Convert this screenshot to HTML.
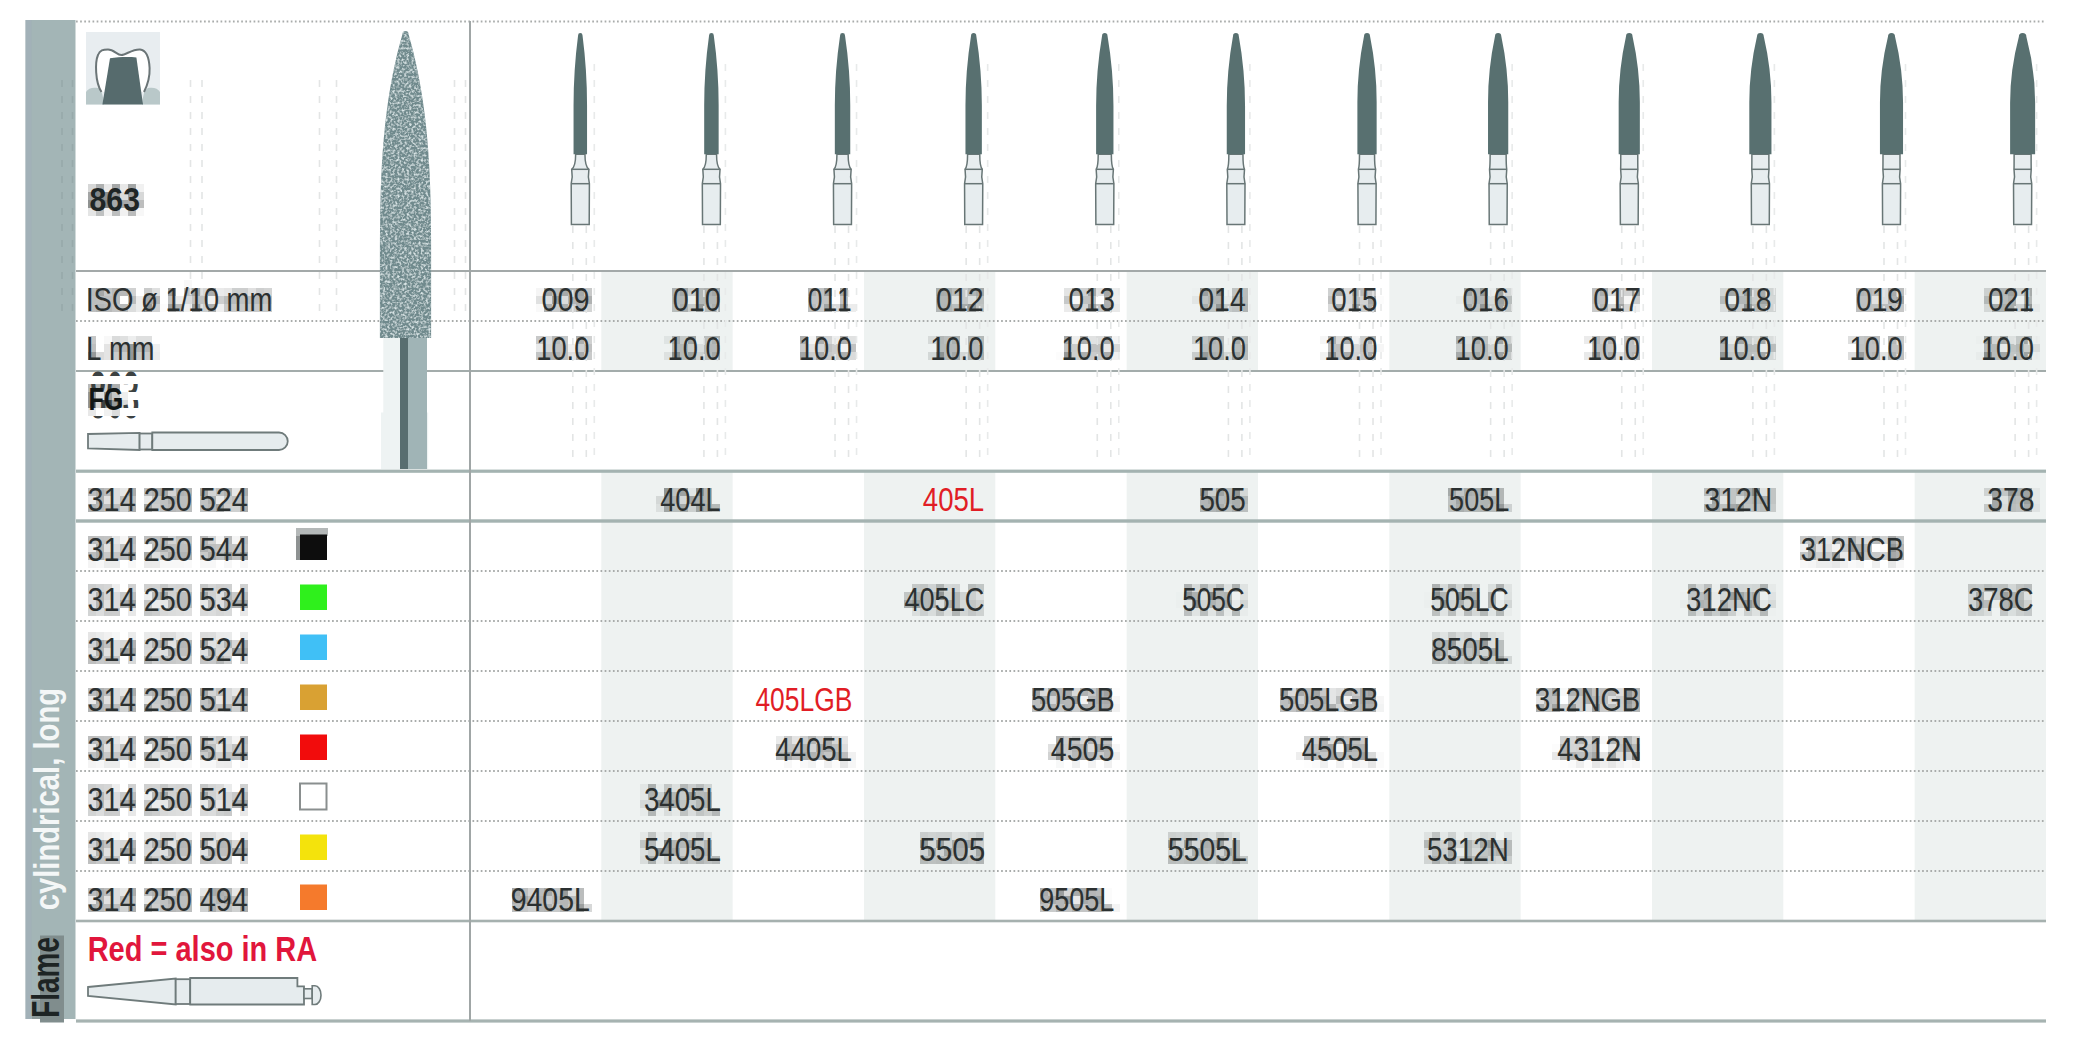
<!DOCTYPE html>
<html><head><meta charset="utf-8"><title>863 Flame cylindrical long</title>
<style>
html,body{margin:0;padding:0;background:#fff;width:2076px;height:1060px;overflow:hidden}
svg{display:block}
text{font-family:"Liberation Sans",sans-serif;font-kerning:none}
</style></head><body>
<svg width="2076" height="1060" viewBox="0 0 2076 1060">
<rect x="25.5" y="20" width="50" height="999" fill="#a3b5b6"/>
<rect x="25.5" y="20" width="6" height="999" fill="#a2afb9" opacity="0.6"/>
<rect x="601.33" y="271" width="131.33" height="100" fill="#eef2f1"/>
<rect x="601.33" y="471" width="131.33" height="450" fill="#eef2f1"/>
<rect x="864.00" y="271" width="131.33" height="100" fill="#eef2f1"/>
<rect x="864.00" y="471" width="131.33" height="450" fill="#eef2f1"/>
<rect x="1126.66" y="271" width="131.33" height="100" fill="#eef2f1"/>
<rect x="1126.66" y="471" width="131.33" height="450" fill="#eef2f1"/>
<rect x="1389.33" y="271" width="131.33" height="100" fill="#eef2f1"/>
<rect x="1389.33" y="471" width="131.33" height="450" fill="#eef2f1"/>
<rect x="1652.00" y="271" width="131.33" height="100" fill="#eef2f1"/>
<rect x="1652.00" y="471" width="131.33" height="450" fill="#eef2f1"/>
<rect x="1914.66" y="271" width="131.33" height="100" fill="#eef2f1"/>
<rect x="1914.66" y="471" width="131.33" height="450" fill="#eef2f1"/>
<rect x="88" y="184" width="8" height="8" fill="rgb(214,215,215)"/>
<rect x="96" y="184" width="8" height="8" fill="rgb(174,176,176)"/>
<rect x="104" y="184" width="8" height="8" fill="rgb(233,233,233)"/>
<rect x="112" y="184" width="8" height="8" fill="rgb(165,167,167)"/>
<rect x="120" y="184" width="8" height="8" fill="rgb(232,232,232)"/>
<rect x="128" y="184" width="8" height="8" fill="rgb(163,166,166)"/>
<rect x="136" y="184" width="8" height="8" fill="rgb(241,241,241)"/>
<rect x="88" y="192" width="8" height="8" fill="rgb(163,165,165)"/>
<rect x="96" y="192" width="8" height="8" fill="rgb(132,135,135)"/>
<rect x="104" y="192" width="8" height="8" fill="rgb(143,145,145)"/>
<rect x="112" y="192" width="8" height="8" fill="rgb(149,152,152)"/>
<rect x="120" y="192" width="8" height="8" fill="rgb(219,220,220)"/>
<rect x="128" y="192" width="8" height="8" fill="rgb(153,155,155)"/>
<rect x="136" y="192" width="8" height="8" fill="rgb(215,216,216)"/>
<rect x="88" y="200" width="8" height="8" fill="rgb(143,146,146)"/>
<rect x="96" y="200" width="8" height="8" fill="rgb(156,159,159)"/>
<rect x="104" y="200" width="8" height="8" fill="rgb(128,131,131)"/>
<rect x="112" y="200" width="8" height="8" fill="rgb(167,169,169)"/>
<rect x="120" y="200" width="8" height="8" fill="rgb(167,169,169)"/>
<rect x="128" y="200" width="8" height="8" fill="rgb(171,173,173)"/>
<rect x="136" y="200" width="8" height="8" fill="rgb(189,190,190)"/>
<rect x="88" y="208" width="8" height="8" fill="rgb(228,229,229)"/>
<rect x="96" y="208" width="8" height="8" fill="rgb(191,193,193)"/>
<rect x="104" y="208" width="8" height="8" fill="rgb(242,242,242)"/>
<rect x="112" y="208" width="8" height="8" fill="rgb(189,191,191)"/>
<rect x="120" y="208" width="8" height="8" fill="rgb(241,241,241)"/>
<rect x="128" y="208" width="8" height="8" fill="rgb(187,188,188)"/>
<rect x="136" y="208" width="8" height="8" fill="rgb(247,247,247)"/>
<rect x="184" y="280" width="8" height="8" fill="rgb(248,248,248)"/>
<rect x="88" y="288" width="8" height="8" fill="rgb(185,187,187)"/>
<rect x="96" y="288" width="8" height="8" fill="rgb(166,168,168)"/>
<rect x="104" y="288" width="8" height="8" fill="rgb(197,199,199)"/>
<rect x="112" y="288" width="8" height="8" fill="rgb(184,186,186)"/>
<rect x="120" y="288" width="8" height="8" fill="rgb(184,185,185)"/>
<rect x="128" y="288" width="8" height="8" fill="rgb(208,209,209)"/>
<rect x="144" y="288" width="8" height="8" fill="rgb(202,203,203)"/>
<rect x="152" y="288" width="8" height="8" fill="rgb(223,224,224)"/>
<rect x="168" y="288" width="8" height="8" fill="rgb(156,158,158)"/>
<rect x="184" y="288" width="8" height="8" fill="rgb(190,192,192)"/>
<rect x="192" y="288" width="8" height="8" fill="rgb(165,167,167)"/>
<rect x="200" y="288" width="8" height="8" fill="rgb(214,215,215)"/>
<rect x="208" y="288" width="8" height="8" fill="rgb(171,173,173)"/>
<rect x="216" y="288" width="8" height="8" fill="rgb(234,234,234)"/>
<rect x="224" y="288" width="8" height="8" fill="rgb(230,230,230)"/>
<rect x="232" y="288" width="8" height="8" fill="rgb(205,207,207)"/>
<rect x="240" y="288" width="8" height="8" fill="rgb(205,206,206)"/>
<rect x="248" y="288" width="8" height="8" fill="rgb(224,224,224)"/>
<rect x="256" y="288" width="8" height="8" fill="rgb(206,207,207)"/>
<rect x="264" y="288" width="8" height="8" fill="rgb(211,212,212)"/>
<rect x="536" y="288" width="8" height="8" fill="rgb(245,245,245)"/>
<rect x="544" y="288" width="8" height="8" fill="rgb(167,169,169)"/>
<rect x="552" y="288" width="8" height="8" fill="rgb(189,191,191)"/>
<rect x="560" y="288" width="8" height="8" fill="rgb(167,169,169)"/>
<rect x="568" y="288" width="8" height="8" fill="rgb(186,188,188)"/>
<rect x="576" y="288" width="8" height="8" fill="rgb(166,169,169)"/>
<rect x="584" y="288" width="8" height="8" fill="rgb(200,201,201)"/>
<rect x="672" y="288" width="8" height="8" fill="rgb(173,177,177)"/>
<rect x="680" y="288" width="8" height="8" fill="rgb(162,166,166)"/>
<rect x="688" y="288" width="8" height="8" fill="rgb(201,205,205)"/>
<rect x="696" y="288" width="8" height="8" fill="rgb(180,184,183)"/>
<rect x="704" y="288" width="8" height="8" fill="rgb(173,177,177)"/>
<rect x="712" y="288" width="8" height="8" fill="rgb(162,166,166)"/>
<rect x="808" y="288" width="8" height="8" fill="rgb(177,178,178)"/>
<rect x="816" y="288" width="8" height="8" fill="rgb(192,194,194)"/>
<rect x="824" y="288" width="8" height="8" fill="rgb(160,162,162)"/>
<rect x="832" y="288" width="8" height="8" fill="rgb(251,251,251)"/>
<rect x="840" y="288" width="8" height="8" fill="rgb(163,166,166)"/>
<rect x="936" y="288" width="8" height="8" fill="rgb(167,172,171)"/>
<rect x="944" y="288" width="8" height="8" fill="rgb(169,173,172)"/>
<rect x="952" y="288" width="8" height="8" fill="rgb(185,189,188)"/>
<rect x="960" y="288" width="8" height="8" fill="rgb(196,200,200)"/>
<rect x="968" y="288" width="8" height="8" fill="rgb(177,181,181)"/>
<rect x="976" y="288" width="8" height="8" fill="rgb(165,169,169)"/>
<rect x="1064" y="288" width="8" height="8" fill="rgb(227,228,228)"/>
<rect x="1072" y="288" width="8" height="8" fill="rgb(172,174,174)"/>
<rect x="1080" y="288" width="8" height="8" fill="rgb(207,208,208)"/>
<rect x="1088" y="288" width="8" height="8" fill="rgb(166,168,168)"/>
<rect x="1096" y="288" width="8" height="8" fill="rgb(223,224,224)"/>
<rect x="1104" y="288" width="8" height="8" fill="rgb(165,167,167)"/>
<rect x="1112" y="288" width="8" height="8" fill="rgb(236,237,237)"/>
<rect x="1192" y="288" width="8" height="8" fill="rgb(236,240,239)"/>
<rect x="1200" y="288" width="8" height="8" fill="rgb(156,160,160)"/>
<rect x="1208" y="288" width="8" height="8" fill="rgb(182,187,186)"/>
<rect x="1216" y="288" width="8" height="8" fill="rgb(144,148,148)"/>
<rect x="1232" y="288" width="8" height="8" fill="rgb(191,195,194)"/>
<rect x="1240" y="288" width="8" height="8" fill="rgb(185,189,188)"/>
<rect x="1328" y="288" width="8" height="8" fill="rgb(207,209,209)"/>
<rect x="1336" y="288" width="8" height="8" fill="rgb(169,171,171)"/>
<rect x="1344" y="288" width="8" height="8" fill="rgb(219,219,219)"/>
<rect x="1352" y="288" width="8" height="8" fill="rgb(176,178,178)"/>
<rect x="1360" y="288" width="8" height="8" fill="rgb(184,185,185)"/>
<rect x="1368" y="288" width="8" height="8" fill="rgb(198,199,199)"/>
<rect x="1464" y="288" width="8" height="8" fill="rgb(157,161,161)"/>
<rect x="1472" y="288" width="8" height="8" fill="rgb(184,188,187)"/>
<rect x="1480" y="288" width="8" height="8" fill="rgb(146,151,150)"/>
<rect x="1488" y="288" width="8" height="8" fill="rgb(233,237,236)"/>
<rect x="1496" y="288" width="8" height="8" fill="rgb(157,162,161)"/>
<rect x="1504" y="288" width="8" height="8" fill="rgb(212,216,215)"/>
<rect x="1592" y="288" width="8" height="8" fill="rgb(189,190,190)"/>
<rect x="1600" y="288" width="8" height="8" fill="rgb(170,172,172)"/>
<rect x="1608" y="288" width="8" height="8" fill="rgb(217,218,218)"/>
<rect x="1616" y="288" width="8" height="8" fill="rgb(191,192,192)"/>
<rect x="1624" y="288" width="8" height="8" fill="rgb(209,210,210)"/>
<rect x="1632" y="288" width="8" height="8" fill="rgb(155,158,158)"/>
<rect x="1720" y="288" width="8" height="8" fill="rgb(209,213,212)"/>
<rect x="1728" y="288" width="8" height="8" fill="rgb(163,167,166)"/>
<rect x="1736" y="288" width="8" height="8" fill="rgb(194,198,197)"/>
<rect x="1744" y="288" width="8" height="8" fill="rgb(154,158,158)"/>
<rect x="1752" y="288" width="8" height="8" fill="rgb(197,201,200)"/>
<rect x="1760" y="288" width="8" height="8" fill="rgb(166,170,170)"/>
<rect x="1768" y="288" width="8" height="8" fill="rgb(209,213,212)"/>
<rect x="1856" y="288" width="8" height="8" fill="rgb(178,180,180)"/>
<rect x="1864" y="288" width="8" height="8" fill="rgb(182,183,183)"/>
<rect x="1872" y="288" width="8" height="8" fill="rgb(189,190,190)"/>
<rect x="1880" y="288" width="8" height="8" fill="rgb(220,221,221)"/>
<rect x="1888" y="288" width="8" height="8" fill="rgb(169,171,171)"/>
<rect x="1896" y="288" width="8" height="8" fill="rgb(188,189,189)"/>
<rect x="1984" y="288" width="8" height="8" fill="rgb(204,208,207)"/>
<rect x="1992" y="288" width="8" height="8" fill="rgb(162,166,166)"/>
<rect x="2000" y="288" width="8" height="8" fill="rgb(179,183,183)"/>
<rect x="2008" y="288" width="8" height="8" fill="rgb(157,161,160)"/>
<rect x="2016" y="288" width="8" height="8" fill="rgb(204,208,207)"/>
<rect x="2024" y="288" width="8" height="8" fill="rgb(166,170,169)"/>
<rect x="88" y="296" width="8" height="8" fill="rgb(188,190,190)"/>
<rect x="96" y="296" width="8" height="8" fill="rgb(189,191,191)"/>
<rect x="104" y="296" width="8" height="8" fill="rgb(190,191,191)"/>
<rect x="112" y="296" width="8" height="8" fill="rgb(187,189,189)"/>
<rect x="128" y="296" width="8" height="8" fill="rgb(187,188,188)"/>
<rect x="136" y="296" width="8" height="8" fill="rgb(236,236,236)"/>
<rect x="144" y="296" width="8" height="8" fill="rgb(168,170,170)"/>
<rect x="152" y="296" width="8" height="8" fill="rgb(181,182,182)"/>
<rect x="168" y="296" width="8" height="8" fill="rgb(192,194,194)"/>
<rect x="176" y="296" width="8" height="8" fill="rgb(237,237,237)"/>
<rect x="184" y="296" width="8" height="8" fill="rgb(217,218,218)"/>
<rect x="192" y="296" width="8" height="8" fill="rgb(192,193,193)"/>
<rect x="200" y="296" width="8" height="8" fill="rgb(192,194,194)"/>
<rect x="208" y="296" width="8" height="8" fill="rgb(241,242,242)"/>
<rect x="216" y="296" width="8" height="8" fill="rgb(206,207,207)"/>
<rect x="224" y="296" width="8" height="8" fill="rgb(187,189,189)"/>
<rect x="232" y="296" width="8" height="8" fill="rgb(185,187,187)"/>
<rect x="240" y="296" width="8" height="8" fill="rgb(191,193,193)"/>
<rect x="248" y="296" width="8" height="8" fill="rgb(186,188,188)"/>
<rect x="256" y="296" width="8" height="8" fill="rgb(184,186,186)"/>
<rect x="264" y="296" width="8" height="8" fill="rgb(192,194,194)"/>
<rect x="536" y="296" width="8" height="8" fill="rgb(224,225,225)"/>
<rect x="544" y="296" width="8" height="8" fill="rgb(220,221,221)"/>
<rect x="552" y="296" width="8" height="8" fill="rgb(158,160,160)"/>
<rect x="560" y="296" width="8" height="8" fill="rgb(220,221,221)"/>
<rect x="568" y="296" width="8" height="8" fill="rgb(180,181,181)"/>
<rect x="576" y="296" width="8" height="8" fill="rgb(173,175,175)"/>
<rect x="584" y="296" width="8" height="8" fill="rgb(176,178,178)"/>
<rect x="672" y="296" width="8" height="8" fill="rgb(178,183,182)"/>
<rect x="680" y="296" width="8" height="8" fill="rgb(178,182,181)"/>
<rect x="688" y="296" width="8" height="8" fill="rgb(235,239,238)"/>
<rect x="696" y="296" width="8" height="8" fill="rgb(181,185,184)"/>
<rect x="704" y="296" width="8" height="8" fill="rgb(178,183,182)"/>
<rect x="712" y="296" width="8" height="8" fill="rgb(178,182,181)"/>
<rect x="808" y="296" width="8" height="8" fill="rgb(194,196,196)"/>
<rect x="816" y="296" width="8" height="8" fill="rgb(195,196,196)"/>
<rect x="824" y="296" width="8" height="8" fill="rgb(195,196,196)"/>
<rect x="840" y="296" width="8" height="8" fill="rgb(195,196,196)"/>
<rect x="936" y="296" width="8" height="8" fill="rgb(178,183,182)"/>
<rect x="944" y="296" width="8" height="8" fill="rgb(178,182,181)"/>
<rect x="952" y="296" width="8" height="8" fill="rgb(220,224,223)"/>
<rect x="960" y="296" width="8" height="8" fill="rgb(196,200,200)"/>
<rect x="968" y="296" width="8" height="8" fill="rgb(218,222,221)"/>
<rect x="976" y="296" width="8" height="8" fill="rgb(187,191,190)"/>
<rect x="1064" y="296" width="8" height="8" fill="rgb(198,200,200)"/>
<rect x="1072" y="296" width="8" height="8" fill="rgb(248,248,248)"/>
<rect x="1080" y="296" width="8" height="8" fill="rgb(192,194,194)"/>
<rect x="1088" y="296" width="8" height="8" fill="rgb(192,193,193)"/>
<rect x="1104" y="296" width="8" height="8" fill="rgb(175,177,177)"/>
<rect x="1112" y="296" width="8" height="8" fill="rgb(237,238,238)"/>
<rect x="1192" y="296" width="8" height="8" fill="rgb(226,230,229)"/>
<rect x="1200" y="296" width="8" height="8" fill="rgb(190,194,193)"/>
<rect x="1208" y="296" width="8" height="8" fill="rgb(178,182,182)"/>
<rect x="1216" y="296" width="8" height="8" fill="rgb(179,183,182)"/>
<rect x="1224" y="296" width="8" height="8" fill="rgb(231,235,234)"/>
<rect x="1232" y="296" width="8" height="8" fill="rgb(178,183,182)"/>
<rect x="1240" y="296" width="8" height="8" fill="rgb(184,188,187)"/>
<rect x="1328" y="296" width="8" height="8" fill="rgb(192,193,193)"/>
<rect x="1336" y="296" width="8" height="8" fill="rgb(231,231,231)"/>
<rect x="1344" y="296" width="8" height="8" fill="rgb(216,217,217)"/>
<rect x="1352" y="296" width="8" height="8" fill="rgb(191,193,193)"/>
<rect x="1360" y="296" width="8" height="8" fill="rgb(210,211,211)"/>
<rect x="1368" y="296" width="8" height="8" fill="rgb(163,165,165)"/>
<rect x="1376" y="296" width="8" height="8" fill="rgb(252,252,252)"/>
<rect x="1456" y="296" width="8" height="8" fill="rgb(231,235,234)"/>
<rect x="1464" y="296" width="8" height="8" fill="rgb(187,191,191)"/>
<rect x="1472" y="296" width="8" height="8" fill="rgb(180,184,183)"/>
<rect x="1480" y="296" width="8" height="8" fill="rgb(180,184,184)"/>
<rect x="1488" y="296" width="8" height="8" fill="rgb(215,220,219)"/>
<rect x="1496" y="296" width="8" height="8" fill="rgb(158,162,161)"/>
<rect x="1504" y="296" width="8" height="8" fill="rgb(184,189,188)"/>
<rect x="1592" y="296" width="8" height="8" fill="rgb(191,192,192)"/>
<rect x="1600" y="296" width="8" height="8" fill="rgb(192,193,193)"/>
<rect x="1608" y="296" width="8" height="8" fill="rgb(251,252,252)"/>
<rect x="1616" y="296" width="8" height="8" fill="rgb(193,194,194)"/>
<rect x="1624" y="296" width="8" height="8" fill="rgb(246,246,246)"/>
<rect x="1632" y="296" width="8" height="8" fill="rgb(202,203,203)"/>
<rect x="1720" y="296" width="8" height="8" fill="rgb(182,187,186)"/>
<rect x="1728" y="296" width="8" height="8" fill="rgb(234,238,237)"/>
<rect x="1736" y="296" width="8" height="8" fill="rgb(179,183,183)"/>
<rect x="1744" y="296" width="8" height="8" fill="rgb(178,183,182)"/>
<rect x="1752" y="296" width="8" height="8" fill="rgb(201,205,204)"/>
<rect x="1760" y="296" width="8" height="8" fill="rgb(155,160,159)"/>
<rect x="1768" y="296" width="8" height="8" fill="rgb(212,216,215)"/>
<rect x="1856" y="296" width="8" height="8" fill="rgb(191,193,193)"/>
<rect x="1864" y="296" width="8" height="8" fill="rgb(191,192,192)"/>
<rect x="1872" y="296" width="8" height="8" fill="rgb(226,226,226)"/>
<rect x="1880" y="296" width="8" height="8" fill="rgb(220,221,221)"/>
<rect x="1888" y="296" width="8" height="8" fill="rgb(176,178,178)"/>
<rect x="1896" y="296" width="8" height="8" fill="rgb(167,169,169)"/>
<rect x="1984" y="296" width="8" height="8" fill="rgb(180,185,184)"/>
<rect x="1992" y="296" width="8" height="8" fill="rgb(232,236,235)"/>
<rect x="2000" y="296" width="8" height="8" fill="rgb(184,188,187)"/>
<rect x="2008" y="296" width="8" height="8" fill="rgb(170,174,174)"/>
<rect x="2016" y="296" width="8" height="8" fill="rgb(235,239,238)"/>
<rect x="2024" y="296" width="8" height="8" fill="rgb(180,184,183)"/>
<rect x="88" y="304" width="8" height="8" fill="rgb(190,191,191)"/>
<rect x="96" y="304" width="8" height="8" fill="rgb(181,183,183)"/>
<rect x="104" y="304" width="8" height="8" fill="rgb(185,186,186)"/>
<rect x="112" y="304" width="8" height="8" fill="rgb(195,196,196)"/>
<rect x="120" y="304" width="8" height="8" fill="rgb(185,187,187)"/>
<rect x="128" y="304" width="8" height="8" fill="rgb(220,221,221)"/>
<rect x="136" y="304" width="8" height="8" fill="rgb(235,236,236)"/>
<rect x="144" y="304" width="8" height="8" fill="rgb(150,152,152)"/>
<rect x="152" y="304" width="8" height="8" fill="rgb(208,209,209)"/>
<rect x="160" y="304" width="8" height="8" fill="rgb(252,252,252)"/>
<rect x="168" y="304" width="8" height="8" fill="rgb(156,158,158)"/>
<rect x="176" y="304" width="8" height="8" fill="rgb(181,183,183)"/>
<rect x="184" y="304" width="8" height="8" fill="rgb(239,239,239)"/>
<rect x="192" y="304" width="8" height="8" fill="rgb(156,158,158)"/>
<rect x="200" y="304" width="8" height="8" fill="rgb(204,206,206)"/>
<rect x="208" y="304" width="8" height="8" fill="rgb(174,176,176)"/>
<rect x="216" y="304" width="8" height="8" fill="rgb(240,240,240)"/>
<rect x="224" y="304" width="8" height="8" fill="rgb(201,202,202)"/>
<rect x="232" y="304" width="8" height="8" fill="rgb(201,202,202)"/>
<rect x="240" y="304" width="8" height="8" fill="rgb(202,203,203)"/>
<rect x="248" y="304" width="8" height="8" fill="rgb(200,201,201)"/>
<rect x="256" y="304" width="8" height="8" fill="rgb(201,202,202)"/>
<rect x="264" y="304" width="8" height="8" fill="rgb(201,203,203)"/>
<rect x="536" y="304" width="8" height="8" fill="rgb(249,249,249)"/>
<rect x="544" y="304" width="8" height="8" fill="rgb(174,176,176)"/>
<rect x="552" y="304" width="8" height="8" fill="rgb(202,203,203)"/>
<rect x="560" y="304" width="8" height="8" fill="rgb(174,176,176)"/>
<rect x="568" y="304" width="8" height="8" fill="rgb(205,206,206)"/>
<rect x="576" y="304" width="8" height="8" fill="rgb(178,180,180)"/>
<rect x="584" y="304" width="8" height="8" fill="rgb(212,213,213)"/>
<rect x="672" y="304" width="8" height="8" fill="rgb(183,188,187)"/>
<rect x="680" y="304" width="8" height="8" fill="rgb(170,174,174)"/>
<rect x="688" y="304" width="8" height="8" fill="rgb(200,204,203)"/>
<rect x="696" y="304" width="8" height="8" fill="rgb(152,156,155)"/>
<rect x="704" y="304" width="8" height="8" fill="rgb(183,188,187)"/>
<rect x="712" y="304" width="8" height="8" fill="rgb(170,174,174)"/>
<rect x="808" y="304" width="8" height="8" fill="rgb(187,189,189)"/>
<rect x="816" y="304" width="8" height="8" fill="rgb(200,201,201)"/>
<rect x="824" y="304" width="8" height="8" fill="rgb(162,164,164)"/>
<rect x="832" y="304" width="8" height="8" fill="rgb(216,217,217)"/>
<rect x="840" y="304" width="8" height="8" fill="rgb(157,160,160)"/>
<rect x="848" y="304" width="8" height="8" fill="rgb(236,236,236)"/>
<rect x="936" y="304" width="8" height="8" fill="rgb(178,182,182)"/>
<rect x="944" y="304" width="8" height="8" fill="rgb(176,180,180)"/>
<rect x="952" y="304" width="8" height="8" fill="rgb(185,189,189)"/>
<rect x="960" y="304" width="8" height="8" fill="rgb(166,171,170)"/>
<rect x="968" y="304" width="8" height="8" fill="rgb(151,155,155)"/>
<rect x="976" y="304" width="8" height="8" fill="rgb(192,196,195)"/>
<rect x="1064" y="304" width="8" height="8" fill="rgb(235,235,235)"/>
<rect x="1072" y="304" width="8" height="8" fill="rgb(175,177,177)"/>
<rect x="1080" y="304" width="8" height="8" fill="rgb(212,213,213)"/>
<rect x="1088" y="304" width="8" height="8" fill="rgb(156,158,158)"/>
<rect x="1096" y="304" width="8" height="8" fill="rgb(196,197,197)"/>
<rect x="1104" y="304" width="8" height="8" fill="rgb(173,175,175)"/>
<rect x="1112" y="304" width="8" height="8" fill="rgb(233,233,233)"/>
<rect x="1200" y="304" width="8" height="8" fill="rgb(165,170,169)"/>
<rect x="1208" y="304" width="8" height="8" fill="rgb(189,194,193)"/>
<rect x="1216" y="304" width="8" height="8" fill="rgb(148,153,152)"/>
<rect x="1224" y="304" width="8" height="8" fill="rgb(197,201,200)"/>
<rect x="1232" y="304" width="8" height="8" fill="rgb(189,193,193)"/>
<rect x="1240" y="304" width="8" height="8" fill="rgb(176,180,179)"/>
<rect x="1328" y="304" width="8" height="8" fill="rgb(217,218,218)"/>
<rect x="1336" y="304" width="8" height="8" fill="rgb(174,176,176)"/>
<rect x="1344" y="304" width="8" height="8" fill="rgb(221,221,221)"/>
<rect x="1352" y="304" width="8" height="8" fill="rgb(156,158,158)"/>
<rect x="1360" y="304" width="8" height="8" fill="rgb(202,203,203)"/>
<rect x="1368" y="304" width="8" height="8" fill="rgb(172,174,174)"/>
<rect x="1464" y="304" width="8" height="8" fill="rgb(167,171,171)"/>
<rect x="1472" y="304" width="8" height="8" fill="rgb(191,195,194)"/>
<rect x="1480" y="304" width="8" height="8" fill="rgb(149,153,152)"/>
<rect x="1488" y="304" width="8" height="8" fill="rgb(204,208,207)"/>
<rect x="1496" y="304" width="8" height="8" fill="rgb(163,167,167)"/>
<rect x="1504" y="304" width="8" height="8" fill="rgb(195,199,198)"/>
<rect x="1592" y="304" width="8" height="8" fill="rgb(200,201,201)"/>
<rect x="1600" y="304" width="8" height="8" fill="rgb(182,184,184)"/>
<rect x="1608" y="304" width="8" height="8" fill="rgb(215,216,216)"/>
<rect x="1616" y="304" width="8" height="8" fill="rgb(161,163,163)"/>
<rect x="1624" y="304" width="8" height="8" fill="rgb(213,214,214)"/>
<rect x="1632" y="304" width="8" height="8" fill="rgb(239,240,240)"/>
<rect x="1720" y="304" width="8" height="8" fill="rgb(216,220,220)"/>
<rect x="1728" y="304" width="8" height="8" fill="rgb(165,170,169)"/>
<rect x="1736" y="304" width="8" height="8" fill="rgb(198,202,202)"/>
<rect x="1744" y="304" width="8" height="8" fill="rgb(146,150,150)"/>
<rect x="1752" y="304" width="8" height="8" fill="rgb(182,186,185)"/>
<rect x="1760" y="304" width="8" height="8" fill="rgb(176,180,179)"/>
<rect x="1768" y="304" width="8" height="8" fill="rgb(208,212,211)"/>
<rect x="1856" y="304" width="8" height="8" fill="rgb(190,191,191)"/>
<rect x="1864" y="304" width="8" height="8" fill="rgb(190,191,191)"/>
<rect x="1872" y="304" width="8" height="8" fill="rgb(190,192,192)"/>
<rect x="1880" y="304" width="8" height="8" fill="rgb(187,189,189)"/>
<rect x="1888" y="304" width="8" height="8" fill="rgb(191,193,193)"/>
<rect x="1896" y="304" width="8" height="8" fill="rgb(199,200,200)"/>
<rect x="1984" y="304" width="8" height="8" fill="rgb(212,216,215)"/>
<rect x="1992" y="304" width="8" height="8" fill="rgb(164,169,168)"/>
<rect x="2000" y="304" width="8" height="8" fill="rgb(171,175,174)"/>
<rect x="2008" y="304" width="8" height="8" fill="rgb(166,171,170)"/>
<rect x="2016" y="304" width="8" height="8" fill="rgb(205,209,209)"/>
<rect x="2024" y="304" width="8" height="8" fill="rgb(147,151,151)"/>
<rect x="2032" y="304" width="8" height="8" fill="rgb(231,235,234)"/>
<rect x="88" y="336" width="8" height="8" fill="rgb(198,199,199)"/>
<rect x="104" y="336" width="8" height="8" fill="rgb(248,248,248)"/>
<rect x="112" y="336" width="8" height="8" fill="rgb(218,219,219)"/>
<rect x="120" y="336" width="8" height="8" fill="rgb(223,224,224)"/>
<rect x="128" y="336" width="8" height="8" fill="rgb(237,238,238)"/>
<rect x="136" y="336" width="8" height="8" fill="rgb(222,223,223)"/>
<rect x="144" y="336" width="8" height="8" fill="rgb(222,223,223)"/>
<rect x="536" y="336" width="8" height="8" fill="rgb(200,201,201)"/>
<rect x="544" y="336" width="8" height="8" fill="rgb(219,220,220)"/>
<rect x="552" y="336" width="8" height="8" fill="rgb(182,184,184)"/>
<rect x="560" y="336" width="8" height="8" fill="rgb(197,199,199)"/>
<rect x="576" y="336" width="8" height="8" fill="rgb(173,175,175)"/>
<rect x="584" y="336" width="8" height="8" fill="rgb(208,209,209)"/>
<rect x="664" y="336" width="8" height="8" fill="rgb(223,228,227)"/>
<rect x="672" y="336" width="8" height="8" fill="rgb(169,173,173)"/>
<rect x="680" y="336" width="8" height="8" fill="rgb(196,201,200)"/>
<rect x="688" y="336" width="8" height="8" fill="rgb(162,167,166)"/>
<rect x="696" y="336" width="8" height="8" fill="rgb(235,239,238)"/>
<rect x="704" y="336" width="8" height="8" fill="rgb(186,190,190)"/>
<rect x="712" y="336" width="8" height="8" fill="rgb(169,174,173)"/>
<rect x="800" y="336" width="8" height="8" fill="rgb(173,174,174)"/>
<rect x="808" y="336" width="8" height="8" fill="rgb(244,244,244)"/>
<rect x="816" y="336" width="8" height="8" fill="rgb(172,174,174)"/>
<rect x="824" y="336" width="8" height="8" fill="rgb(210,211,211)"/>
<rect x="832" y="336" width="8" height="8" fill="rgb(237,238,238)"/>
<rect x="840" y="336" width="8" height="8" fill="rgb(172,174,174)"/>
<rect x="848" y="336" width="8" height="8" fill="rgb(225,226,226)"/>
<rect x="928" y="336" width="8" height="8" fill="rgb(214,218,217)"/>
<rect x="936" y="336" width="8" height="8" fill="rgb(179,183,182)"/>
<rect x="944" y="336" width="8" height="8" fill="rgb(186,190,190)"/>
<rect x="952" y="336" width="8" height="8" fill="rgb(169,174,173)"/>
<rect x="968" y="336" width="8" height="8" fill="rgb(177,181,180)"/>
<rect x="976" y="336" width="8" height="8" fill="rgb(179,184,183)"/>
<rect x="1064" y="336" width="8" height="8" fill="rgb(165,167,167)"/>
<rect x="1072" y="336" width="8" height="8" fill="rgb(237,238,238)"/>
<rect x="1080" y="336" width="8" height="8" fill="rgb(172,174,174)"/>
<rect x="1088" y="336" width="8" height="8" fill="rgb(225,226,226)"/>
<rect x="1096" y="336" width="8" height="8" fill="rgb(218,219,219)"/>
<rect x="1104" y="336" width="8" height="8" fill="rgb(172,174,174)"/>
<rect x="1112" y="336" width="8" height="8" fill="rgb(244,244,244)"/>
<rect x="1192" y="336" width="8" height="8" fill="rgb(202,206,205)"/>
<rect x="1200" y="336" width="8" height="8" fill="rgb(191,195,195)"/>
<rect x="1208" y="336" width="8" height="8" fill="rgb(175,179,178)"/>
<rect x="1216" y="336" width="8" height="8" fill="rgb(181,185,185)"/>
<rect x="1232" y="336" width="8" height="8" fill="rgb(165,170,169)"/>
<rect x="1240" y="336" width="8" height="8" fill="rgb(191,195,194)"/>
<rect x="1320" y="336" width="8" height="8" fill="rgb(246,246,246)"/>
<rect x="1328" y="336" width="8" height="8" fill="rgb(173,175,175)"/>
<rect x="1336" y="336" width="8" height="8" fill="rgb(218,219,219)"/>
<rect x="1344" y="336" width="8" height="8" fill="rgb(172,174,174)"/>
<rect x="1352" y="336" width="8" height="8" fill="rgb(244,244,244)"/>
<rect x="1360" y="336" width="8" height="8" fill="rgb(205,207,207)"/>
<rect x="1368" y="336" width="8" height="8" fill="rgb(175,177,177)"/>
<rect x="1456" y="336" width="8" height="8" fill="rgb(172,176,176)"/>
<rect x="1464" y="336" width="8" height="8" fill="rgb(220,224,223)"/>
<rect x="1472" y="336" width="8" height="8" fill="rgb(165,170,169)"/>
<rect x="1480" y="336" width="8" height="8" fill="rgb(191,195,194)"/>
<rect x="1488" y="336" width="8" height="8" fill="rgb(231,235,234)"/>
<rect x="1496" y="336" width="8" height="8" fill="rgb(161,165,165)"/>
<rect x="1504" y="336" width="8" height="8" fill="rgb(202,206,205)"/>
<rect x="1584" y="336" width="8" height="8" fill="rgb(235,235,235)"/>
<rect x="1592" y="336" width="8" height="8" fill="rgb(185,186,186)"/>
<rect x="1600" y="336" width="8" height="8" fill="rgb(203,204,204)"/>
<rect x="1608" y="336" width="8" height="8" fill="rgb(176,178,178)"/>
<rect x="1624" y="336" width="8" height="8" fill="rgb(192,194,194)"/>
<rect x="1632" y="336" width="8" height="8" fill="rgb(187,188,188)"/>
<rect x="1720" y="336" width="8" height="8" fill="rgb(155,159,159)"/>
<rect x="1728" y="336" width="8" height="8" fill="rgb(231,235,234)"/>
<rect x="1736" y="336" width="8" height="8" fill="rgb(161,165,165)"/>
<rect x="1744" y="336" width="8" height="8" fill="rgb(202,206,205)"/>
<rect x="1752" y="336" width="8" height="8" fill="rgb(214,218,217)"/>
<rect x="1760" y="336" width="8" height="8" fill="rgb(162,167,166)"/>
<rect x="1768" y="336" width="8" height="8" fill="rgb(218,222,221)"/>
<rect x="1848" y="336" width="8" height="8" fill="rgb(222,223,223)"/>
<rect x="1856" y="336" width="8" height="8" fill="rgb(197,199,199)"/>
<rect x="1864" y="336" width="8" height="8" fill="rgb(192,194,194)"/>
<rect x="1872" y="336" width="8" height="8" fill="rgb(187,188,188)"/>
<rect x="1888" y="336" width="8" height="8" fill="rgb(182,184,184)"/>
<rect x="1896" y="336" width="8" height="8" fill="rgb(197,199,199)"/>
<rect x="1976" y="336" width="8" height="8" fill="rgb(235,239,238)"/>
<rect x="1984" y="336" width="8" height="8" fill="rgb(157,162,161)"/>
<rect x="1992" y="336" width="8" height="8" fill="rgb(210,214,214)"/>
<rect x="2000" y="336" width="8" height="8" fill="rgb(162,167,166)"/>
<rect x="2008" y="336" width="8" height="8" fill="rgb(221,225,224)"/>
<rect x="2016" y="336" width="8" height="8" fill="rgb(196,201,200)"/>
<rect x="2024" y="336" width="8" height="8" fill="rgb(162,167,166)"/>
<rect x="2032" y="336" width="8" height="8" fill="rgb(235,239,238)"/>
<rect x="88" y="344" width="8" height="8" fill="rgb(190,191,191)"/>
<rect x="104" y="344" width="8" height="8" fill="rgb(228,228,228)"/>
<rect x="112" y="344" width="8" height="8" fill="rgb(182,183,183)"/>
<rect x="120" y="344" width="8" height="8" fill="rgb(183,184,184)"/>
<rect x="128" y="344" width="8" height="8" fill="rgb(150,153,153)"/>
<rect x="136" y="344" width="8" height="8" fill="rgb(181,183,183)"/>
<rect x="144" y="344" width="8" height="8" fill="rgb(182,184,184)"/>
<rect x="152" y="344" width="8" height="8" fill="rgb(239,240,240)"/>
<rect x="536" y="344" width="8" height="8" fill="rgb(233,234,234)"/>
<rect x="544" y="344" width="8" height="8" fill="rgb(214,215,215)"/>
<rect x="552" y="344" width="8" height="8" fill="rgb(193,194,194)"/>
<rect x="560" y="344" width="8" height="8" fill="rgb(193,194,194)"/>
<rect x="568" y="344" width="8" height="8" fill="rgb(241,241,241)"/>
<rect x="576" y="344" width="8" height="8" fill="rgb(207,208,208)"/>
<rect x="584" y="344" width="8" height="8" fill="rgb(193,194,194)"/>
<rect x="672" y="344" width="8" height="8" fill="rgb(181,185,185)"/>
<rect x="680" y="344" width="8" height="8" fill="rgb(181,185,184)"/>
<rect x="688" y="344" width="8" height="8" fill="rgb(200,205,204)"/>
<rect x="696" y="344" width="8" height="8" fill="rgb(218,222,221)"/>
<rect x="704" y="344" width="8" height="8" fill="rgb(181,185,184)"/>
<rect x="712" y="344" width="8" height="8" fill="rgb(181,185,185)"/>
<rect x="800" y="344" width="8" height="8" fill="rgb(202,203,203)"/>
<rect x="808" y="344" width="8" height="8" fill="rgb(226,226,226)"/>
<rect x="816" y="344" width="8" height="8" fill="rgb(213,214,214)"/>
<rect x="824" y="344" width="8" height="8" fill="rgb(193,194,194)"/>
<rect x="832" y="344" width="8" height="8" fill="rgb(203,204,204)"/>
<rect x="840" y="344" width="8" height="8" fill="rgb(244,244,244)"/>
<rect x="848" y="344" width="8" height="8" fill="rgb(193,194,194)"/>
<rect x="936" y="344" width="8" height="8" fill="rgb(181,185,184)"/>
<rect x="944" y="344" width="8" height="8" fill="rgb(181,185,184)"/>
<rect x="952" y="344" width="8" height="8" fill="rgb(181,185,185)"/>
<rect x="968" y="344" width="8" height="8" fill="rgb(181,185,184)"/>
<rect x="976" y="344" width="8" height="8" fill="rgb(181,185,184)"/>
<rect x="1064" y="344" width="8" height="8" fill="rgb(193,194,194)"/>
<rect x="1072" y="344" width="8" height="8" fill="rgb(203,204,204)"/>
<rect x="1080" y="344" width="8" height="8" fill="rgb(244,244,244)"/>
<rect x="1088" y="344" width="8" height="8" fill="rgb(193,194,194)"/>
<rect x="1096" y="344" width="8" height="8" fill="rgb(193,194,194)"/>
<rect x="1104" y="344" width="8" height="8" fill="rgb(233,233,233)"/>
<rect x="1112" y="344" width="8" height="8" fill="rgb(215,216,216)"/>
<rect x="1192" y="344" width="8" height="8" fill="rgb(234,238,237)"/>
<rect x="1200" y="344" width="8" height="8" fill="rgb(185,189,189)"/>
<rect x="1208" y="344" width="8" height="8" fill="rgb(181,185,184)"/>
<rect x="1216" y="344" width="8" height="8" fill="rgb(181,185,184)"/>
<rect x="1224" y="344" width="8" height="8" fill="rgb(234,238,237)"/>
<rect x="1232" y="344" width="8" height="8" fill="rgb(184,189,188)"/>
<rect x="1240" y="344" width="8" height="8" fill="rgb(181,185,184)"/>
<rect x="1328" y="344" width="8" height="8" fill="rgb(193,194,194)"/>
<rect x="1336" y="344" width="8" height="8" fill="rgb(193,194,194)"/>
<rect x="1344" y="344" width="8" height="8" fill="rgb(233,233,233)"/>
<rect x="1352" y="344" width="8" height="8" fill="rgb(215,216,216)"/>
<rect x="1360" y="344" width="8" height="8" fill="rgb(193,194,194)"/>
<rect x="1368" y="344" width="8" height="8" fill="rgb(202,203,203)"/>
<rect x="1376" y="344" width="8" height="8" fill="rgb(246,246,246)"/>
<rect x="1456" y="344" width="8" height="8" fill="rgb(201,205,204)"/>
<rect x="1464" y="344" width="8" height="8" fill="rgb(214,218,217)"/>
<rect x="1472" y="344" width="8" height="8" fill="rgb(184,189,188)"/>
<rect x="1480" y="344" width="8" height="8" fill="rgb(181,185,184)"/>
<rect x="1488" y="344" width="8" height="8" fill="rgb(208,212,211)"/>
<rect x="1496" y="344" width="8" height="8" fill="rgb(211,215,214)"/>
<rect x="1504" y="344" width="8" height="8" fill="rgb(181,185,184)"/>
<rect x="1592" y="344" width="8" height="8" fill="rgb(193,194,194)"/>
<rect x="1600" y="344" width="8" height="8" fill="rgb(193,194,194)"/>
<rect x="1608" y="344" width="8" height="8" fill="rgb(197,199,199)"/>
<rect x="1616" y="344" width="8" height="8" fill="rgb(250,251,251)"/>
<rect x="1624" y="344" width="8" height="8" fill="rgb(193,194,194)"/>
<rect x="1632" y="344" width="8" height="8" fill="rgb(193,194,194)"/>
<rect x="1720" y="344" width="8" height="8" fill="rgb(181,185,185)"/>
<rect x="1728" y="344" width="8" height="8" fill="rgb(207,211,211)"/>
<rect x="1736" y="344" width="8" height="8" fill="rgb(211,215,214)"/>
<rect x="1744" y="344" width="8" height="8" fill="rgb(181,185,184)"/>
<rect x="1752" y="344" width="8" height="8" fill="rgb(183,187,186)"/>
<rect x="1760" y="344" width="8" height="8" fill="rgb(231,235,234)"/>
<rect x="1768" y="344" width="8" height="8" fill="rgb(185,189,189)"/>
<rect x="1856" y="344" width="8" height="8" fill="rgb(193,195,195)"/>
<rect x="1864" y="344" width="8" height="8" fill="rgb(193,194,194)"/>
<rect x="1872" y="344" width="8" height="8" fill="rgb(193,194,194)"/>
<rect x="1888" y="344" width="8" height="8" fill="rgb(193,194,194)"/>
<rect x="1896" y="344" width="8" height="8" fill="rgb(193,194,194)"/>
<rect x="1984" y="344" width="8" height="8" fill="rgb(181,185,185)"/>
<rect x="1992" y="344" width="8" height="8" fill="rgb(181,186,185)"/>
<rect x="2000" y="344" width="8" height="8" fill="rgb(229,233,232)"/>
<rect x="2008" y="344" width="8" height="8" fill="rgb(189,194,193)"/>
<rect x="2016" y="344" width="8" height="8" fill="rgb(181,185,184)"/>
<rect x="2024" y="344" width="8" height="8" fill="rgb(200,205,204)"/>
<rect x="2032" y="344" width="8" height="8" fill="rgb(218,222,221)"/>
<rect x="88" y="352" width="8" height="8" fill="rgb(151,153,153)"/>
<rect x="96" y="352" width="8" height="8" fill="rgb(219,219,219)"/>
<rect x="104" y="352" width="8" height="8" fill="rgb(228,228,228)"/>
<rect x="112" y="352" width="8" height="8" fill="rgb(202,203,203)"/>
<rect x="120" y="352" width="8" height="8" fill="rgb(202,204,204)"/>
<rect x="128" y="352" width="8" height="8" fill="rgb(148,151,151)"/>
<rect x="136" y="352" width="8" height="8" fill="rgb(200,201,201)"/>
<rect x="144" y="352" width="8" height="8" fill="rgb(201,203,203)"/>
<rect x="152" y="352" width="8" height="8" fill="rgb(237,237,237)"/>
<rect x="536" y="352" width="8" height="8" fill="rgb(195,197,197)"/>
<rect x="544" y="352" width="8" height="8" fill="rgb(178,179,179)"/>
<rect x="552" y="352" width="8" height="8" fill="rgb(177,179,179)"/>
<rect x="560" y="352" width="8" height="8" fill="rgb(190,191,191)"/>
<rect x="568" y="352" width="8" height="8" fill="rgb(223,224,224)"/>
<rect x="576" y="352" width="8" height="8" fill="rgb(169,171,171)"/>
<rect x="584" y="352" width="8" height="8" fill="rgb(201,202,202)"/>
<rect x="664" y="352" width="8" height="8" fill="rgb(221,225,224)"/>
<rect x="672" y="352" width="8" height="8" fill="rgb(140,145,144)"/>
<rect x="680" y="352" width="8" height="8" fill="rgb(180,185,184)"/>
<rect x="688" y="352" width="8" height="8" fill="rgb(158,163,162)"/>
<rect x="696" y="352" width="8" height="8" fill="rgb(206,210,209)"/>
<rect x="704" y="352" width="8" height="8" fill="rgb(182,186,185)"/>
<rect x="712" y="352" width="8" height="8" fill="rgb(163,168,167)"/>
<rect x="800" y="352" width="8" height="8" fill="rgb(164,166,166)"/>
<rect x="808" y="352" width="8" height="8" fill="rgb(205,206,206)"/>
<rect x="816" y="352" width="8" height="8" fill="rgb(169,171,171)"/>
<rect x="824" y="352" width="8" height="8" fill="rgb(200,201,201)"/>
<rect x="832" y="352" width="8" height="8" fill="rgb(205,206,206)"/>
<rect x="840" y="352" width="8" height="8" fill="rgb(172,174,174)"/>
<rect x="848" y="352" width="8" height="8" fill="rgb(218,219,219)"/>
<rect x="928" y="352" width="8" height="8" fill="rgb(211,216,215)"/>
<rect x="936" y="352" width="8" height="8" fill="rgb(140,145,144)"/>
<rect x="944" y="352" width="8" height="8" fill="rgb(180,184,183)"/>
<rect x="952" y="352" width="8" height="8" fill="rgb(163,168,167)"/>
<rect x="960" y="352" width="8" height="8" fill="rgb(211,215,214)"/>
<rect x="968" y="352" width="8" height="8" fill="rgb(173,177,176)"/>
<rect x="976" y="352" width="8" height="8" fill="rgb(172,177,176)"/>
<rect x="1056" y="352" width="8" height="8" fill="rgb(252,252,252)"/>
<rect x="1064" y="352" width="8" height="8" fill="rgb(149,151,151)"/>
<rect x="1072" y="352" width="8" height="8" fill="rgb(205,206,206)"/>
<rect x="1080" y="352" width="8" height="8" fill="rgb(172,174,174)"/>
<rect x="1088" y="352" width="8" height="8" fill="rgb(202,203,203)"/>
<rect x="1096" y="352" width="8" height="8" fill="rgb(198,200,200)"/>
<rect x="1104" y="352" width="8" height="8" fill="rgb(171,173,173)"/>
<rect x="1112" y="352" width="8" height="8" fill="rgb(240,240,240)"/>
<rect x="1192" y="352" width="8" height="8" fill="rgb(200,204,203)"/>
<rect x="1200" y="352" width="8" height="8" fill="rgb(151,155,155)"/>
<rect x="1208" y="352" width="8" height="8" fill="rgb(171,175,174)"/>
<rect x="1216" y="352" width="8" height="8" fill="rgb(174,179,178)"/>
<rect x="1224" y="352" width="8" height="8" fill="rgb(210,215,214)"/>
<rect x="1232" y="352" width="8" height="8" fill="rgb(161,166,165)"/>
<rect x="1240" y="352" width="8" height="8" fill="rgb(184,188,188)"/>
<rect x="1320" y="352" width="8" height="8" fill="rgb(242,242,242)"/>
<rect x="1328" y="352" width="8" height="8" fill="rgb(148,151,151)"/>
<rect x="1336" y="352" width="8" height="8" fill="rgb(194,196,196)"/>
<rect x="1344" y="352" width="8" height="8" fill="rgb(171,173,173)"/>
<rect x="1352" y="352" width="8" height="8" fill="rgb(211,212,212)"/>
<rect x="1360" y="352" width="8" height="8" fill="rgb(199,201,201)"/>
<rect x="1368" y="352" width="8" height="8" fill="rgb(169,171,171)"/>
<rect x="1456" y="352" width="8" height="8" fill="rgb(166,170,170)"/>
<rect x="1464" y="352" width="8" height="8" fill="rgb(184,188,188)"/>
<rect x="1472" y="352" width="8" height="8" fill="rgb(161,166,165)"/>
<rect x="1480" y="352" width="8" height="8" fill="rgb(184,188,187)"/>
<rect x="1488" y="352" width="8" height="8" fill="rgb(201,205,204)"/>
<rect x="1496" y="352" width="8" height="8" fill="rgb(160,164,164)"/>
<rect x="1504" y="352" width="8" height="8" fill="rgb(195,199,198)"/>
<rect x="1584" y="352" width="8" height="8" fill="rgb(232,233,233)"/>
<rect x="1592" y="352" width="8" height="8" fill="rgb(149,151,151)"/>
<rect x="1600" y="352" width="8" height="8" fill="rgb(190,192,192)"/>
<rect x="1608" y="352" width="8" height="8" fill="rgb(170,172,172)"/>
<rect x="1616" y="352" width="8" height="8" fill="rgb(225,226,226)"/>
<rect x="1624" y="352" width="8" height="8" fill="rgb(188,189,189)"/>
<rect x="1632" y="352" width="8" height="8" fill="rgb(180,181,181)"/>
<rect x="1720" y="352" width="8" height="8" fill="rgb(143,148,147)"/>
<rect x="1728" y="352" width="8" height="8" fill="rgb(197,201,200)"/>
<rect x="1736" y="352" width="8" height="8" fill="rgb(160,164,164)"/>
<rect x="1744" y="352" width="8" height="8" fill="rgb(185,189,188)"/>
<rect x="1752" y="352" width="8" height="8" fill="rgb(191,196,195)"/>
<rect x="1760" y="352" width="8" height="8" fill="rgb(162,166,166)"/>
<rect x="1768" y="352" width="8" height="8" fill="rgb(212,217,216)"/>
<rect x="1848" y="352" width="8" height="8" fill="rgb(220,221,221)"/>
<rect x="1856" y="352" width="8" height="8" fill="rgb(154,156,156)"/>
<rect x="1864" y="352" width="8" height="8" fill="rgb(188,189,189)"/>
<rect x="1872" y="352" width="8" height="8" fill="rgb(180,181,181)"/>
<rect x="1880" y="352" width="8" height="8" fill="rgb(225,226,226)"/>
<rect x="1888" y="352" width="8" height="8" fill="rgb(177,179,179)"/>
<rect x="1896" y="352" width="8" height="8" fill="rgb(190,191,191)"/>
<rect x="1976" y="352" width="8" height="8" fill="rgb(232,236,235)"/>
<rect x="1984" y="352" width="8" height="8" fill="rgb(140,145,144)"/>
<rect x="1992" y="352" width="8" height="8" fill="rgb(183,188,187)"/>
<rect x="2000" y="352" width="8" height="8" fill="rgb(162,166,165)"/>
<rect x="2008" y="352" width="8" height="8" fill="rgb(194,198,197)"/>
<rect x="2016" y="352" width="8" height="8" fill="rgb(187,191,190)"/>
<rect x="2024" y="352" width="8" height="8" fill="rgb(158,163,162)"/>
<rect x="2032" y="352" width="8" height="8" fill="rgb(233,238,237)"/>
<rect x="88" y="384" width="8" height="8" fill="rgb(185,187,187)"/>
<rect x="96" y="384" width="8" height="8" fill="rgb(178,180,180)"/>
<rect x="104" y="384" width="8" height="8" fill="rgb(208,209,209)"/>
<rect x="112" y="384" width="8" height="8" fill="rgb(172,174,174)"/>
<rect x="88" y="392" width="8" height="8" fill="rgb(152,154,154)"/>
<rect x="96" y="392" width="8" height="8" fill="rgb(223,224,224)"/>
<rect x="104" y="392" width="8" height="8" fill="rgb(156,158,158)"/>
<rect x="112" y="392" width="8" height="8" fill="rgb(196,198,198)"/>
<rect x="120" y="392" width="8" height="8" fill="rgb(238,238,238)"/>
<rect x="88" y="400" width="8" height="8" fill="rgb(149,151,151)"/>
<rect x="96" y="400" width="8" height="8" fill="rgb(213,214,214)"/>
<rect x="104" y="400" width="8" height="8" fill="rgb(148,150,150)"/>
<rect x="112" y="400" width="8" height="8" fill="rgb(153,156,156)"/>
<rect x="120" y="400" width="8" height="8" fill="rgb(217,218,218)"/>
<rect x="88" y="408" width="8" height="8" fill="rgb(232,232,232)"/>
<rect x="104" y="408" width="8" height="8" fill="rgb(240,241,241)"/>
<rect x="112" y="408" width="8" height="8" fill="rgb(219,220,220)"/>
<rect x="88" y="488" width="8" height="8" fill="rgb(189,190,190)"/>
<rect x="96" y="488" width="8" height="8" fill="rgb(175,177,177)"/>
<rect x="104" y="488" width="8" height="8" fill="rgb(186,187,187)"/>
<rect x="112" y="488" width="8" height="8" fill="rgb(220,221,221)"/>
<rect x="120" y="488" width="8" height="8" fill="rgb(230,231,231)"/>
<rect x="128" y="488" width="8" height="8" fill="rgb(169,171,171)"/>
<rect x="144" y="488" width="8" height="8" fill="rgb(189,190,190)"/>
<rect x="152" y="488" width="8" height="8" fill="rgb(175,177,177)"/>
<rect x="160" y="488" width="8" height="8" fill="rgb(165,167,167)"/>
<rect x="168" y="488" width="8" height="8" fill="rgb(211,212,212)"/>
<rect x="176" y="488" width="8" height="8" fill="rgb(176,178,178)"/>
<rect x="184" y="488" width="8" height="8" fill="rgb(180,182,182)"/>
<rect x="200" y="488" width="8" height="8" fill="rgb(165,167,167)"/>
<rect x="208" y="488" width="8" height="8" fill="rgb(211,212,212)"/>
<rect x="216" y="488" width="8" height="8" fill="rgb(189,190,190)"/>
<rect x="224" y="488" width="8" height="8" fill="rgb(175,177,177)"/>
<rect x="232" y="488" width="8" height="8" fill="rgb(230,231,231)"/>
<rect x="240" y="488" width="8" height="8" fill="rgb(169,171,171)"/>
<rect x="664" y="488" width="8" height="8" fill="rgb(145,150,149)"/>
<rect x="672" y="488" width="8" height="8" fill="rgb(191,195,194)"/>
<rect x="680" y="488" width="8" height="8" fill="rgb(158,163,162)"/>
<rect x="688" y="488" width="8" height="8" fill="rgb(227,231,230)"/>
<rect x="696" y="488" width="8" height="8" fill="rgb(143,147,146)"/>
<rect x="704" y="488" width="8" height="8" fill="rgb(178,182,182)"/>
<rect x="1200" y="488" width="8" height="8" fill="rgb(154,158,158)"/>
<rect x="1208" y="488" width="8" height="8" fill="rgb(203,207,206)"/>
<rect x="1216" y="488" width="8" height="8" fill="rgb(158,163,162)"/>
<rect x="1224" y="488" width="8" height="8" fill="rgb(180,185,184)"/>
<rect x="1232" y="488" width="8" height="8" fill="rgb(145,150,149)"/>
<rect x="1240" y="488" width="8" height="8" fill="rgb(212,216,215)"/>
<rect x="1448" y="488" width="8" height="8" fill="rgb(165,170,169)"/>
<rect x="1456" y="488" width="8" height="8" fill="rgb(195,199,198)"/>
<rect x="1464" y="488" width="8" height="8" fill="rgb(170,174,173)"/>
<rect x="1472" y="488" width="8" height="8" fill="rgb(173,178,177)"/>
<rect x="1480" y="488" width="8" height="8" fill="rgb(153,157,157)"/>
<rect x="1488" y="488" width="8" height="8" fill="rgb(207,212,211)"/>
<rect x="1496" y="488" width="8" height="8" fill="rgb(179,183,182)"/>
<rect x="1704" y="488" width="8" height="8" fill="rgb(184,188,188)"/>
<rect x="1712" y="488" width="8" height="8" fill="rgb(160,164,164)"/>
<rect x="1720" y="488" width="8" height="8" fill="rgb(189,193,193)"/>
<rect x="1728" y="488" width="8" height="8" fill="rgb(193,197,196)"/>
<rect x="1736" y="488" width="8" height="8" fill="rgb(179,183,183)"/>
<rect x="1744" y="488" width="8" height="8" fill="rgb(165,169,169)"/>
<rect x="1752" y="488" width="8" height="8" fill="rgb(136,141,140)"/>
<rect x="1760" y="488" width="8" height="8" fill="rgb(220,224,223)"/>
<rect x="1768" y="488" width="8" height="8" fill="rgb(193,197,196)"/>
<rect x="1984" y="488" width="8" height="8" fill="rgb(207,211,210)"/>
<rect x="1992" y="488" width="8" height="8" fill="rgb(156,160,159)"/>
<rect x="2000" y="488" width="8" height="8" fill="rgb(194,198,198)"/>
<rect x="2008" y="488" width="8" height="8" fill="rgb(145,149,149)"/>
<rect x="2016" y="488" width="8" height="8" fill="rgb(169,174,173)"/>
<rect x="2024" y="488" width="8" height="8" fill="rgb(159,164,163)"/>
<rect x="2032" y="488" width="8" height="8" fill="rgb(227,231,230)"/>
<rect x="88" y="496" width="8" height="8" fill="rgb(234,234,234)"/>
<rect x="96" y="496" width="8" height="8" fill="rgb(175,177,177)"/>
<rect x="104" y="496" width="8" height="8" fill="rgb(224,225,225)"/>
<rect x="112" y="496" width="8" height="8" fill="rgb(220,221,221)"/>
<rect x="120" y="496" width="8" height="8" fill="rgb(189,190,190)"/>
<rect x="128" y="496" width="8" height="8" fill="rgb(189,191,191)"/>
<rect x="144" y="496" width="8" height="8" fill="rgb(233,234,234)"/>
<rect x="152" y="496" width="8" height="8" fill="rgb(198,200,200)"/>
<rect x="160" y="496" width="8" height="8" fill="rgb(192,194,194)"/>
<rect x="168" y="496" width="8" height="8" fill="rgb(173,175,175)"/>
<rect x="176" y="496" width="8" height="8" fill="rgb(189,191,191)"/>
<rect x="184" y="496" width="8" height="8" fill="rgb(189,191,191)"/>
<rect x="200" y="496" width="8" height="8" fill="rgb(192,194,194)"/>
<rect x="208" y="496" width="8" height="8" fill="rgb(173,175,175)"/>
<rect x="216" y="496" width="8" height="8" fill="rgb(233,234,234)"/>
<rect x="224" y="496" width="8" height="8" fill="rgb(198,200,200)"/>
<rect x="232" y="496" width="8" height="8" fill="rgb(189,190,190)"/>
<rect x="240" y="496" width="8" height="8" fill="rgb(189,191,191)"/>
<rect x="656" y="496" width="8" height="8" fill="rgb(212,216,215)"/>
<rect x="664" y="496" width="8" height="8" fill="rgb(155,159,159)"/>
<rect x="672" y="496" width="8" height="8" fill="rgb(176,180,180)"/>
<rect x="680" y="496" width="8" height="8" fill="rgb(211,215,214)"/>
<rect x="688" y="496" width="8" height="8" fill="rgb(160,164,164)"/>
<rect x="696" y="496" width="8" height="8" fill="rgb(171,176,175)"/>
<rect x="704" y="496" width="8" height="8" fill="rgb(177,182,181)"/>
<rect x="1200" y="496" width="8" height="8" fill="rgb(178,182,182)"/>
<rect x="1208" y="496" width="8" height="8" fill="rgb(165,170,169)"/>
<rect x="1216" y="496" width="8" height="8" fill="rgb(183,187,187)"/>
<rect x="1224" y="496" width="8" height="8" fill="rgb(178,183,182)"/>
<rect x="1232" y="496" width="8" height="8" fill="rgb(169,174,173)"/>
<rect x="1240" y="496" width="8" height="8" fill="rgb(178,183,182)"/>
<rect x="1448" y="496" width="8" height="8" fill="rgb(190,194,193)"/>
<rect x="1456" y="496" width="8" height="8" fill="rgb(161,165,165)"/>
<rect x="1464" y="496" width="8" height="8" fill="rgb(181,185,185)"/>
<rect x="1472" y="496" width="8" height="8" fill="rgb(181,185,185)"/>
<rect x="1480" y="496" width="8" height="8" fill="rgb(176,181,180)"/>
<rect x="1488" y="496" width="8" height="8" fill="rgb(174,179,178)"/>
<rect x="1496" y="496" width="8" height="8" fill="rgb(179,183,182)"/>
<rect x="1704" y="496" width="8" height="8" fill="rgb(225,229,229)"/>
<rect x="1712" y="496" width="8" height="8" fill="rgb(159,164,163)"/>
<rect x="1720" y="496" width="8" height="8" fill="rgb(224,228,227)"/>
<rect x="1728" y="496" width="8" height="8" fill="rgb(193,197,196)"/>
<rect x="1736" y="496" width="8" height="8" fill="rgb(219,224,223)"/>
<rect x="1744" y="496" width="8" height="8" fill="rgb(186,190,190)"/>
<rect x="1752" y="496" width="8" height="8" fill="rgb(177,182,181)"/>
<rect x="1760" y="496" width="8" height="8" fill="rgb(167,171,171)"/>
<rect x="1768" y="496" width="8" height="8" fill="rgb(193,197,196)"/>
<rect x="1992" y="496" width="8" height="8" fill="rgb(164,168,167)"/>
<rect x="2000" y="496" width="8" height="8" fill="rgb(221,225,224)"/>
<rect x="2008" y="496" width="8" height="8" fill="rgb(181,185,184)"/>
<rect x="2016" y="496" width="8" height="8" fill="rgb(186,190,189)"/>
<rect x="2024" y="496" width="8" height="8" fill="rgb(154,159,158)"/>
<rect x="2032" y="496" width="8" height="8" fill="rgb(227,231,230)"/>
<rect x="88" y="504" width="8" height="8" fill="rgb(176,178,178)"/>
<rect x="96" y="504" width="8" height="8" fill="rgb(182,184,184)"/>
<rect x="104" y="504" width="8" height="8" fill="rgb(188,189,189)"/>
<rect x="112" y="504" width="8" height="8" fill="rgb(186,188,188)"/>
<rect x="120" y="504" width="8" height="8" fill="rgb(207,209,209)"/>
<rect x="128" y="504" width="8" height="8" fill="rgb(172,174,174)"/>
<rect x="144" y="504" width="8" height="8" fill="rgb(160,163,163)"/>
<rect x="152" y="504" width="8" height="8" fill="rgb(204,205,205)"/>
<rect x="160" y="504" width="8" height="8" fill="rgb(191,193,193)"/>
<rect x="168" y="504" width="8" height="8" fill="rgb(183,184,184)"/>
<rect x="176" y="504" width="8" height="8" fill="rgb(188,189,189)"/>
<rect x="184" y="504" width="8" height="8" fill="rgb(188,190,190)"/>
<rect x="200" y="504" width="8" height="8" fill="rgb(191,193,193)"/>
<rect x="208" y="504" width="8" height="8" fill="rgb(183,184,184)"/>
<rect x="216" y="504" width="8" height="8" fill="rgb(160,163,163)"/>
<rect x="224" y="504" width="8" height="8" fill="rgb(204,205,205)"/>
<rect x="232" y="504" width="8" height="8" fill="rgb(207,209,209)"/>
<rect x="240" y="504" width="8" height="8" fill="rgb(172,174,174)"/>
<rect x="656" y="504" width="8" height="8" fill="rgb(220,224,223)"/>
<rect x="664" y="504" width="8" height="8" fill="rgb(160,165,164)"/>
<rect x="672" y="504" width="8" height="8" fill="rgb(185,190,189)"/>
<rect x="680" y="504" width="8" height="8" fill="rgb(165,170,169)"/>
<rect x="688" y="504" width="8" height="8" fill="rgb(204,208,207)"/>
<rect x="696" y="504" width="8" height="8" fill="rgb(157,162,161)"/>
<rect x="704" y="504" width="8" height="8" fill="rgb(168,172,172)"/>
<rect x="712" y="504" width="8" height="8" fill="rgb(181,186,185)"/>
<rect x="1200" y="504" width="8" height="8" fill="rgb(177,182,181)"/>
<rect x="1208" y="504" width="8" height="8" fill="rgb(177,181,181)"/>
<rect x="1216" y="504" width="8" height="8" fill="rgb(168,173,172)"/>
<rect x="1224" y="504" width="8" height="8" fill="rgb(186,191,190)"/>
<rect x="1232" y="504" width="8" height="8" fill="rgb(170,174,174)"/>
<rect x="1240" y="504" width="8" height="8" fill="rgb(187,191,191)"/>
<rect x="1448" y="504" width="8" height="8" fill="rgb(189,193,192)"/>
<rect x="1456" y="504" width="8" height="8" fill="rgb(170,174,174)"/>
<rect x="1464" y="504" width="8" height="8" fill="rgb(180,184,183)"/>
<rect x="1472" y="504" width="8" height="8" fill="rgb(180,185,184)"/>
<rect x="1480" y="504" width="8" height="8" fill="rgb(176,180,179)"/>
<rect x="1488" y="504" width="8" height="8" fill="rgb(183,187,186)"/>
<rect x="1496" y="504" width="8" height="8" fill="rgb(150,154,154)"/>
<rect x="1504" y="504" width="8" height="8" fill="rgb(205,209,209)"/>
<rect x="1704" y="504" width="8" height="8" fill="rgb(173,178,177)"/>
<rect x="1712" y="504" width="8" height="8" fill="rgb(166,170,170)"/>
<rect x="1720" y="504" width="8" height="8" fill="rgb(189,194,193)"/>
<rect x="1728" y="504" width="8" height="8" fill="rgb(164,168,168)"/>
<rect x="1736" y="504" width="8" height="8" fill="rgb(153,158,157)"/>
<rect x="1744" y="504" width="8" height="8" fill="rgb(191,196,195)"/>
<rect x="1752" y="504" width="8" height="8" fill="rgb(189,193,193)"/>
<rect x="1760" y="504" width="8" height="8" fill="rgb(183,187,186)"/>
<rect x="1768" y="504" width="8" height="8" fill="rgb(199,203,202)"/>
<rect x="1984" y="504" width="8" height="8" fill="rgb(197,201,200)"/>
<rect x="1992" y="504" width="8" height="8" fill="rgb(164,168,167)"/>
<rect x="2000" y="504" width="8" height="8" fill="rgb(216,220,219)"/>
<rect x="2008" y="504" width="8" height="8" fill="rgb(186,190,189)"/>
<rect x="2016" y="504" width="8" height="8" fill="rgb(191,195,195)"/>
<rect x="2024" y="504" width="8" height="8" fill="rgb(169,173,173)"/>
<rect x="2032" y="504" width="8" height="8" fill="rgb(223,227,227)"/>
<rect x="88" y="536" width="8" height="8" fill="rgb(189,190,190)"/>
<rect x="96" y="536" width="8" height="8" fill="rgb(192,193,193)"/>
<rect x="104" y="536" width="8" height="8" fill="rgb(194,195,195)"/>
<rect x="112" y="536" width="8" height="8" fill="rgb(229,230,230)"/>
<rect x="120" y="536" width="8" height="8" fill="rgb(245,245,245)"/>
<rect x="128" y="536" width="8" height="8" fill="rgb(186,187,187)"/>
<rect x="144" y="536" width="8" height="8" fill="rgb(190,191,191)"/>
<rect x="152" y="536" width="8" height="8" fill="rgb(192,193,193)"/>
<rect x="160" y="536" width="8" height="8" fill="rgb(181,182,182)"/>
<rect x="168" y="536" width="8" height="8" fill="rgb(211,212,212)"/>
<rect x="176" y="536" width="8" height="8" fill="rgb(192,194,194)"/>
<rect x="184" y="536" width="8" height="8" fill="rgb(196,198,198)"/>
<rect x="200" y="536" width="8" height="8" fill="rgb(181,182,182)"/>
<rect x="208" y="536" width="8" height="8" fill="rgb(211,212,212)"/>
<rect x="216" y="536" width="8" height="8" fill="rgb(245,245,245)"/>
<rect x="224" y="536" width="8" height="8" fill="rgb(186,187,187)"/>
<rect x="232" y="536" width="8" height="8" fill="rgb(245,245,245)"/>
<rect x="240" y="536" width="8" height="8" fill="rgb(186,187,187)"/>
<rect x="1800" y="536" width="8" height="8" fill="rgb(199,200,200)"/>
<rect x="1808" y="536" width="8" height="8" fill="rgb(189,190,190)"/>
<rect x="1816" y="536" width="8" height="8" fill="rgb(198,199,199)"/>
<rect x="1824" y="536" width="8" height="8" fill="rgb(229,230,230)"/>
<rect x="1832" y="536" width="8" height="8" fill="rgb(183,185,185)"/>
<rect x="1840" y="536" width="8" height="8" fill="rgb(204,206,206)"/>
<rect x="1848" y="536" width="8" height="8" fill="rgb(173,175,175)"/>
<rect x="1856" y="536" width="8" height="8" fill="rgb(211,212,212)"/>
<rect x="1864" y="536" width="8" height="8" fill="rgb(220,221,221)"/>
<rect x="1872" y="536" width="8" height="8" fill="rgb(185,187,187)"/>
<rect x="1880" y="536" width="8" height="8" fill="rgb(209,210,210)"/>
<rect x="1888" y="536" width="8" height="8" fill="rgb(165,167,167)"/>
<rect x="1896" y="536" width="8" height="8" fill="rgb(194,196,196)"/>
<rect x="88" y="544" width="8" height="8" fill="rgb(234,234,234)"/>
<rect x="96" y="544" width="8" height="8" fill="rgb(175,177,177)"/>
<rect x="104" y="544" width="8" height="8" fill="rgb(224,225,225)"/>
<rect x="112" y="544" width="8" height="8" fill="rgb(220,221,221)"/>
<rect x="120" y="544" width="8" height="8" fill="rgb(194,195,195)"/>
<rect x="128" y="544" width="8" height="8" fill="rgb(192,193,193)"/>
<rect x="144" y="544" width="8" height="8" fill="rgb(250,250,250)"/>
<rect x="152" y="544" width="8" height="8" fill="rgb(186,187,187)"/>
<rect x="160" y="544" width="8" height="8" fill="rgb(176,178,178)"/>
<rect x="168" y="544" width="8" height="8" fill="rgb(190,191,191)"/>
<rect x="176" y="544" width="8" height="8" fill="rgb(189,191,191)"/>
<rect x="184" y="544" width="8" height="8" fill="rgb(189,191,191)"/>
<rect x="200" y="544" width="8" height="8" fill="rgb(176,178,178)"/>
<rect x="208" y="544" width="8" height="8" fill="rgb(190,191,191)"/>
<rect x="216" y="544" width="8" height="8" fill="rgb(194,195,195)"/>
<rect x="224" y="544" width="8" height="8" fill="rgb(192,193,193)"/>
<rect x="232" y="544" width="8" height="8" fill="rgb(194,195,195)"/>
<rect x="240" y="544" width="8" height="8" fill="rgb(192,193,193)"/>
<rect x="1800" y="544" width="8" height="8" fill="rgb(242,242,242)"/>
<rect x="1808" y="544" width="8" height="8" fill="rgb(173,174,174)"/>
<rect x="1816" y="544" width="8" height="8" fill="rgb(227,227,227)"/>
<rect x="1824" y="544" width="8" height="8" fill="rgb(221,222,222)"/>
<rect x="1832" y="544" width="8" height="8" fill="rgb(242,242,242)"/>
<rect x="1840" y="544" width="8" height="8" fill="rgb(197,199,199)"/>
<rect x="1848" y="544" width="8" height="8" fill="rgb(152,154,154)"/>
<rect x="1856" y="544" width="8" height="8" fill="rgb(174,176,176)"/>
<rect x="1864" y="544" width="8" height="8" fill="rgb(185,187,187)"/>
<rect x="1880" y="544" width="8" height="8" fill="rgb(251,251,251)"/>
<rect x="1888" y="544" width="8" height="8" fill="rgb(149,152,152)"/>
<rect x="1896" y="544" width="8" height="8" fill="rgb(179,181,181)"/>
<rect x="88" y="552" width="8" height="8" fill="rgb(188,189,189)"/>
<rect x="96" y="552" width="8" height="8" fill="rgb(173,175,175)"/>
<rect x="104" y="552" width="8" height="8" fill="rgb(200,201,201)"/>
<rect x="112" y="552" width="8" height="8" fill="rgb(197,198,198)"/>
<rect x="120" y="552" width="8" height="8" fill="rgb(188,190,190)"/>
<rect x="128" y="552" width="8" height="8" fill="rgb(160,163,163)"/>
<rect x="144" y="552" width="8" height="8" fill="rgb(164,167,167)"/>
<rect x="152" y="552" width="8" height="8" fill="rgb(220,221,221)"/>
<rect x="160" y="552" width="8" height="8" fill="rgb(200,201,201)"/>
<rect x="168" y="552" width="8" height="8" fill="rgb(174,176,176)"/>
<rect x="176" y="552" width="8" height="8" fill="rgb(179,181,181)"/>
<rect x="184" y="552" width="8" height="8" fill="rgb(178,180,180)"/>
<rect x="200" y="552" width="8" height="8" fill="rgb(200,201,201)"/>
<rect x="208" y="552" width="8" height="8" fill="rgb(174,176,176)"/>
<rect x="216" y="552" width="8" height="8" fill="rgb(188,190,190)"/>
<rect x="224" y="552" width="8" height="8" fill="rgb(160,163,163)"/>
<rect x="232" y="552" width="8" height="8" fill="rgb(188,190,190)"/>
<rect x="240" y="552" width="8" height="8" fill="rgb(160,163,163)"/>
<rect x="1800" y="552" width="8" height="8" fill="rgb(195,197,197)"/>
<rect x="1808" y="552" width="8" height="8" fill="rgb(173,175,175)"/>
<rect x="1816" y="552" width="8" height="8" fill="rgb(204,205,205)"/>
<rect x="1824" y="552" width="8" height="8" fill="rgb(199,200,200)"/>
<rect x="1832" y="552" width="8" height="8" fill="rgb(160,162,162)"/>
<rect x="1840" y="552" width="8" height="8" fill="rgb(231,232,232)"/>
<rect x="1848" y="552" width="8" height="8" fill="rgb(196,198,198)"/>
<rect x="1856" y="552" width="8" height="8" fill="rgb(136,139,139)"/>
<rect x="1864" y="552" width="8" height="8" fill="rgb(195,196,196)"/>
<rect x="1872" y="552" width="8" height="8" fill="rgb(199,201,201)"/>
<rect x="1880" y="552" width="8" height="8" fill="rgb(205,207,207)"/>
<rect x="1888" y="552" width="8" height="8" fill="rgb(166,168,168)"/>
<rect x="1896" y="552" width="8" height="8" fill="rgb(174,176,176)"/>
<rect x="88" y="560" width="8" height="8" fill="rgb(244,244,244)"/>
<rect x="96" y="560" width="8" height="8" fill="rgb(247,247,247)"/>
<rect x="104" y="560" width="8" height="8" fill="rgb(235,236,236)"/>
<rect x="112" y="560" width="8" height="8" fill="rgb(235,236,236)"/>
<rect x="128" y="560" width="8" height="8" fill="rgb(247,247,247)"/>
<rect x="144" y="560" width="8" height="8" fill="rgb(234,234,234)"/>
<rect x="152" y="560" width="8" height="8" fill="rgb(235,235,235)"/>
<rect x="160" y="560" width="8" height="8" fill="rgb(247,247,247)"/>
<rect x="168" y="560" width="8" height="8" fill="rgb(247,247,247)"/>
<rect x="176" y="560" width="8" height="8" fill="rgb(247,247,247)"/>
<rect x="184" y="560" width="8" height="8" fill="rgb(249,249,249)"/>
<rect x="200" y="560" width="8" height="8" fill="rgb(247,247,247)"/>
<rect x="208" y="560" width="8" height="8" fill="rgb(247,247,247)"/>
<rect x="224" y="560" width="8" height="8" fill="rgb(247,247,247)"/>
<rect x="240" y="560" width="8" height="8" fill="rgb(247,247,247)"/>
<rect x="1800" y="560" width="8" height="8" fill="rgb(247,247,247)"/>
<rect x="1808" y="560" width="8" height="8" fill="rgb(245,245,245)"/>
<rect x="1816" y="560" width="8" height="8" fill="rgb(236,237,237)"/>
<rect x="1824" y="560" width="8" height="8" fill="rgb(236,237,237)"/>
<rect x="1832" y="560" width="8" height="8" fill="rgb(231,232,232)"/>
<rect x="1840" y="560" width="8" height="8" fill="rgb(240,240,240)"/>
<rect x="1848" y="560" width="8" height="8" fill="rgb(248,248,248)"/>
<rect x="1856" y="560" width="8" height="8" fill="rgb(244,245,245)"/>
<rect x="1872" y="560" width="8" height="8" fill="rgb(239,239,239)"/>
<rect x="1888" y="560" width="8" height="8" fill="rgb(230,231,231)"/>
<rect x="1896" y="560" width="8" height="8" fill="rgb(247,247,247)"/>
<rect x="88" y="584" width="8" height="8" fill="rgb(202,204,204)"/>
<rect x="96" y="584" width="8" height="8" fill="rgb(209,210,210)"/>
<rect x="104" y="584" width="8" height="8" fill="rgb(213,214,214)"/>
<rect x="112" y="584" width="8" height="8" fill="rgb(238,238,238)"/>
<rect x="128" y="584" width="8" height="8" fill="rgb(208,209,209)"/>
<rect x="144" y="584" width="8" height="8" fill="rgb(207,208,208)"/>
<rect x="152" y="584" width="8" height="8" fill="rgb(209,210,210)"/>
<rect x="160" y="584" width="8" height="8" fill="rgb(196,198,198)"/>
<rect x="168" y="584" width="8" height="8" fill="rgb(211,212,212)"/>
<rect x="176" y="584" width="8" height="8" fill="rgb(209,210,210)"/>
<rect x="184" y="584" width="8" height="8" fill="rgb(213,214,214)"/>
<rect x="200" y="584" width="8" height="8" fill="rgb(196,198,198)"/>
<rect x="208" y="584" width="8" height="8" fill="rgb(211,212,212)"/>
<rect x="216" y="584" width="8" height="8" fill="rgb(205,206,206)"/>
<rect x="224" y="584" width="8" height="8" fill="rgb(207,208,208)"/>
<rect x="240" y="584" width="8" height="8" fill="rgb(208,209,209)"/>
<rect x="912" y="584" width="8" height="8" fill="rgb(197,201,200)"/>
<rect x="920" y="584" width="8" height="8" fill="rgb(193,197,196)"/>
<rect x="928" y="584" width="8" height="8" fill="rgb(207,211,211)"/>
<rect x="936" y="584" width="8" height="8" fill="rgb(174,179,178)"/>
<rect x="944" y="584" width="8" height="8" fill="rgb(212,216,215)"/>
<rect x="952" y="584" width="8" height="8" fill="rgb(209,213,213)"/>
<rect x="968" y="584" width="8" height="8" fill="rgb(183,188,187)"/>
<rect x="976" y="584" width="8" height="8" fill="rgb(193,198,197)"/>
<rect x="1184" y="584" width="8" height="8" fill="rgb(173,177,177)"/>
<rect x="1192" y="584" width="8" height="8" fill="rgb(214,218,217)"/>
<rect x="1200" y="584" width="8" height="8" fill="rgb(173,178,177)"/>
<rect x="1208" y="584" width="8" height="8" fill="rgb(204,209,208)"/>
<rect x="1216" y="584" width="8" height="8" fill="rgb(181,186,185)"/>
<rect x="1224" y="584" width="8" height="8" fill="rgb(221,225,224)"/>
<rect x="1232" y="584" width="8" height="8" fill="rgb(174,178,177)"/>
<rect x="1240" y="584" width="8" height="8" fill="rgb(223,227,226)"/>
<rect x="1432" y="584" width="8" height="8" fill="rgb(173,177,177)"/>
<rect x="1440" y="584" width="8" height="8" fill="rgb(214,218,217)"/>
<rect x="1448" y="584" width="8" height="8" fill="rgb(174,178,177)"/>
<rect x="1456" y="584" width="8" height="8" fill="rgb(208,213,212)"/>
<rect x="1464" y="584" width="8" height="8" fill="rgb(178,182,181)"/>
<rect x="1472" y="584" width="8" height="8" fill="rgb(203,207,207)"/>
<rect x="1488" y="584" width="8" height="8" fill="rgb(219,224,223)"/>
<rect x="1496" y="584" width="8" height="8" fill="rgb(174,178,178)"/>
<rect x="1504" y="584" width="8" height="8" fill="rgb(223,227,226)"/>
<rect x="1688" y="584" width="8" height="8" fill="rgb(177,182,181)"/>
<rect x="1696" y="584" width="8" height="8" fill="rgb(213,217,216)"/>
<rect x="1704" y="584" width="8" height="8" fill="rgb(186,190,190)"/>
<rect x="1712" y="584" width="8" height="8" fill="rgb(234,238,237)"/>
<rect x="1720" y="584" width="8" height="8" fill="rgb(174,178,178)"/>
<rect x="1728" y="584" width="8" height="8" fill="rgb(206,210,210)"/>
<rect x="1736" y="584" width="8" height="8" fill="rgb(210,214,214)"/>
<rect x="1744" y="584" width="8" height="8" fill="rgb(211,215,214)"/>
<rect x="1752" y="584" width="8" height="8" fill="rgb(208,213,212)"/>
<rect x="1760" y="584" width="8" height="8" fill="rgb(174,179,178)"/>
<rect x="1768" y="584" width="8" height="8" fill="rgb(230,234,233)"/>
<rect x="1968" y="584" width="8" height="8" fill="rgb(193,197,196)"/>
<rect x="1976" y="584" width="8" height="8" fill="rgb(197,201,200)"/>
<rect x="1984" y="584" width="8" height="8" fill="rgb(184,189,188)"/>
<rect x="1992" y="584" width="8" height="8" fill="rgb(189,194,193)"/>
<rect x="2000" y="584" width="8" height="8" fill="rgb(187,191,190)"/>
<rect x="2008" y="584" width="8" height="8" fill="rgb(211,215,214)"/>
<rect x="2016" y="584" width="8" height="8" fill="rgb(191,195,194)"/>
<rect x="2024" y="584" width="8" height="8" fill="rgb(184,188,188)"/>
<rect x="88" y="592" width="8" height="8" fill="rgb(220,221,221)"/>
<rect x="96" y="592" width="8" height="8" fill="rgb(179,180,180)"/>
<rect x="104" y="592" width="8" height="8" fill="rgb(212,213,213)"/>
<rect x="112" y="592" width="8" height="8" fill="rgb(220,221,221)"/>
<rect x="120" y="592" width="8" height="8" fill="rgb(201,202,202)"/>
<rect x="128" y="592" width="8" height="8" fill="rgb(185,187,187)"/>
<rect x="144" y="592" width="8" height="8" fill="rgb(236,237,237)"/>
<rect x="152" y="592" width="8" height="8" fill="rgb(185,186,186)"/>
<rect x="160" y="592" width="8" height="8" fill="rgb(160,163,163)"/>
<rect x="168" y="592" width="8" height="8" fill="rgb(208,209,209)"/>
<rect x="176" y="592" width="8" height="8" fill="rgb(189,191,191)"/>
<rect x="184" y="592" width="8" height="8" fill="rgb(189,191,191)"/>
<rect x="200" y="592" width="8" height="8" fill="rgb(160,163,163)"/>
<rect x="208" y="592" width="8" height="8" fill="rgb(208,209,209)"/>
<rect x="216" y="592" width="8" height="8" fill="rgb(222,223,223)"/>
<rect x="224" y="592" width="8" height="8" fill="rgb(176,178,178)"/>
<rect x="232" y="592" width="8" height="8" fill="rgb(201,202,202)"/>
<rect x="240" y="592" width="8" height="8" fill="rgb(185,187,187)"/>
<rect x="904" y="592" width="8" height="8" fill="rgb(194,198,197)"/>
<rect x="912" y="592" width="8" height="8" fill="rgb(175,179,179)"/>
<rect x="920" y="592" width="8" height="8" fill="rgb(181,185,184)"/>
<rect x="928" y="592" width="8" height="8" fill="rgb(180,184,184)"/>
<rect x="936" y="592" width="8" height="8" fill="rgb(144,148,148)"/>
<rect x="944" y="592" width="8" height="8" fill="rgb(207,212,211)"/>
<rect x="952" y="592" width="8" height="8" fill="rgb(181,185,184)"/>
<rect x="960" y="592" width="8" height="8" fill="rgb(207,211,210)"/>
<rect x="968" y="592" width="8" height="8" fill="rgb(204,208,207)"/>
<rect x="976" y="592" width="8" height="8" fill="rgb(220,224,224)"/>
<rect x="1176" y="592" width="8" height="8" fill="rgb(235,240,239)"/>
<rect x="1184" y="592" width="8" height="8" fill="rgb(144,148,148)"/>
<rect x="1192" y="592" width="8" height="8" fill="rgb(172,177,176)"/>
<rect x="1200" y="592" width="8" height="8" fill="rgb(218,222,221)"/>
<rect x="1208" y="592" width="8" height="8" fill="rgb(133,137,137)"/>
<rect x="1216" y="592" width="8" height="8" fill="rgb(179,183,182)"/>
<rect x="1224" y="592" width="8" height="8" fill="rgb(174,179,178)"/>
<rect x="1240" y="592" width="8" height="8" fill="rgb(221,225,224)"/>
<rect x="1424" y="592" width="8" height="8" fill="rgb(236,240,239)"/>
<rect x="1432" y="592" width="8" height="8" fill="rgb(143,148,147)"/>
<rect x="1440" y="592" width="8" height="8" fill="rgb(176,181,180)"/>
<rect x="1448" y="592" width="8" height="8" fill="rgb(217,221,220)"/>
<rect x="1456" y="592" width="8" height="8" fill="rgb(135,140,139)"/>
<rect x="1464" y="592" width="8" height="8" fill="rgb(172,176,175)"/>
<rect x="1472" y="592" width="8" height="8" fill="rgb(174,178,178)"/>
<rect x="1488" y="592" width="8" height="8" fill="rgb(174,178,177)"/>
<rect x="1504" y="592" width="8" height="8" fill="rgb(221,225,224)"/>
<rect x="1680" y="592" width="8" height="8" fill="rgb(236,240,239)"/>
<rect x="1688" y="592" width="8" height="8" fill="rgb(193,198,197)"/>
<rect x="1696" y="592" width="8" height="8" fill="rgb(185,189,189)"/>
<rect x="1704" y="592" width="8" height="8" fill="rgb(171,175,174)"/>
<rect x="1712" y="592" width="8" height="8" fill="rgb(229,233,232)"/>
<rect x="1720" y="592" width="8" height="8" fill="rgb(211,216,215)"/>
<rect x="1728" y="592" width="8" height="8" fill="rgb(156,161,160)"/>
<rect x="1736" y="592" width="8" height="8" fill="rgb(160,165,164)"/>
<rect x="1744" y="592" width="8" height="8" fill="rgb(183,187,187)"/>
<rect x="1752" y="592" width="8" height="8" fill="rgb(171,176,175)"/>
<rect x="1760" y="592" width="8" height="8" fill="rgb(235,239,238)"/>
<rect x="1768" y="592" width="8" height="8" fill="rgb(223,227,227)"/>
<rect x="1968" y="592" width="8" height="8" fill="rgb(208,212,211)"/>
<rect x="1976" y="592" width="8" height="8" fill="rgb(170,174,174)"/>
<rect x="1984" y="592" width="8" height="8" fill="rgb(228,232,231)"/>
<rect x="1992" y="592" width="8" height="8" fill="rgb(192,196,195)"/>
<rect x="2000" y="592" width="8" height="8" fill="rgb(157,161,160)"/>
<rect x="2008" y="592" width="8" height="8" fill="rgb(172,176,175)"/>
<rect x="2016" y="592" width="8" height="8" fill="rgb(182,187,186)"/>
<rect x="2024" y="592" width="8" height="8" fill="rgb(221,225,224)"/>
<rect x="88" y="600" width="8" height="8" fill="rgb(221,221,221)"/>
<rect x="96" y="600" width="8" height="8" fill="rgb(181,182,182)"/>
<rect x="104" y="600" width="8" height="8" fill="rgb(224,225,225)"/>
<rect x="112" y="600" width="8" height="8" fill="rgb(220,221,221)"/>
<rect x="120" y="600" width="8" height="8" fill="rgb(172,174,174)"/>
<rect x="128" y="600" width="8" height="8" fill="rgb(160,163,163)"/>
<rect x="144" y="600" width="8" height="8" fill="rgb(197,198,198)"/>
<rect x="152" y="600" width="8" height="8" fill="rgb(234,235,235)"/>
<rect x="160" y="600" width="8" height="8" fill="rgb(230,231,231)"/>
<rect x="168" y="600" width="8" height="8" fill="rgb(184,185,185)"/>
<rect x="176" y="600" width="8" height="8" fill="rgb(189,190,190)"/>
<rect x="184" y="600" width="8" height="8" fill="rgb(187,189,189)"/>
<rect x="200" y="600" width="8" height="8" fill="rgb(230,231,231)"/>
<rect x="208" y="600" width="8" height="8" fill="rgb(184,185,185)"/>
<rect x="216" y="600" width="8" height="8" fill="rgb(221,222,222)"/>
<rect x="224" y="600" width="8" height="8" fill="rgb(181,182,182)"/>
<rect x="232" y="600" width="8" height="8" fill="rgb(172,174,174)"/>
<rect x="240" y="600" width="8" height="8" fill="rgb(160,163,163)"/>
<rect x="904" y="600" width="8" height="8" fill="rgb(168,172,172)"/>
<rect x="912" y="600" width="8" height="8" fill="rgb(154,159,158)"/>
<rect x="920" y="600" width="8" height="8" fill="rgb(180,185,184)"/>
<rect x="928" y="600" width="8" height="8" fill="rgb(178,182,181)"/>
<rect x="936" y="600" width="8" height="8" fill="rgb(218,222,221)"/>
<rect x="944" y="600" width="8" height="8" fill="rgb(173,177,177)"/>
<rect x="952" y="600" width="8" height="8" fill="rgb(181,185,184)"/>
<rect x="960" y="600" width="8" height="8" fill="rgb(213,217,216)"/>
<rect x="968" y="600" width="8" height="8" fill="rgb(194,198,197)"/>
<rect x="976" y="600" width="8" height="8" fill="rgb(205,209,208)"/>
<rect x="1176" y="600" width="8" height="8" fill="rgb(235,239,238)"/>
<rect x="1184" y="600" width="8" height="8" fill="rgb(220,224,223)"/>
<rect x="1192" y="600" width="8" height="8" fill="rgb(139,143,143)"/>
<rect x="1200" y="600" width="8" height="8" fill="rgb(208,212,211)"/>
<rect x="1208" y="600" width="8" height="8" fill="rgb(175,179,178)"/>
<rect x="1216" y="600" width="8" height="8" fill="rgb(191,195,194)"/>
<rect x="1224" y="600" width="8" height="8" fill="rgb(161,165,165)"/>
<rect x="1232" y="600" width="8" height="8" fill="rgb(230,234,234)"/>
<rect x="1240" y="600" width="8" height="8" fill="rgb(210,214,213)"/>
<rect x="1424" y="600" width="8" height="8" fill="rgb(235,239,238)"/>
<rect x="1432" y="600" width="8" height="8" fill="rgb(219,223,222)"/>
<rect x="1440" y="600" width="8" height="8" fill="rgb(144,149,148)"/>
<rect x="1448" y="600" width="8" height="8" fill="rgb(208,212,211)"/>
<rect x="1456" y="600" width="8" height="8" fill="rgb(169,173,173)"/>
<rect x="1464" y="600" width="8" height="8" fill="rgb(210,214,213)"/>
<rect x="1472" y="600" width="8" height="8" fill="rgb(144,148,148)"/>
<rect x="1488" y="600" width="8" height="8" fill="rgb(173,177,176)"/>
<rect x="1496" y="600" width="8" height="8" fill="rgb(231,235,234)"/>
<rect x="1504" y="600" width="8" height="8" fill="rgb(210,214,213)"/>
<rect x="1680" y="600" width="8" height="8" fill="rgb(232,236,235)"/>
<rect x="1688" y="600" width="8" height="8" fill="rgb(212,216,215)"/>
<rect x="1696" y="600" width="8" height="8" fill="rgb(174,179,178)"/>
<rect x="1704" y="600" width="8" height="8" fill="rgb(180,185,184)"/>
<rect x="1712" y="600" width="8" height="8" fill="rgb(232,236,235)"/>
<rect x="1720" y="600" width="8" height="8" fill="rgb(173,177,176)"/>
<rect x="1728" y="600" width="8" height="8" fill="rgb(198,202,202)"/>
<rect x="1736" y="600" width="8" height="8" fill="rgb(196,201,200)"/>
<rect x="1744" y="600" width="8" height="8" fill="rgb(148,152,152)"/>
<rect x="1752" y="600" width="8" height="8" fill="rgb(168,172,171)"/>
<rect x="1760" y="600" width="8" height="8" fill="rgb(227,231,231)"/>
<rect x="1768" y="600" width="8" height="8" fill="rgb(215,219,218)"/>
<rect x="1968" y="600" width="8" height="8" fill="rgb(208,212,211)"/>
<rect x="1976" y="600" width="8" height="8" fill="rgb(173,177,176)"/>
<rect x="1984" y="600" width="8" height="8" fill="rgb(184,188,188)"/>
<rect x="1992" y="600" width="8" height="8" fill="rgb(232,236,235)"/>
<rect x="2000" y="600" width="8" height="8" fill="rgb(177,181,180)"/>
<rect x="2008" y="600" width="8" height="8" fill="rgb(168,173,172)"/>
<rect x="2016" y="600" width="8" height="8" fill="rgb(175,180,179)"/>
<rect x="2024" y="600" width="8" height="8" fill="rgb(206,210,209)"/>
<rect x="88" y="608" width="8" height="8" fill="rgb(210,212,212)"/>
<rect x="96" y="608" width="8" height="8" fill="rgb(219,220,220)"/>
<rect x="104" y="608" width="8" height="8" fill="rgb(203,204,204)"/>
<rect x="112" y="608" width="8" height="8" fill="rgb(204,205,205)"/>
<rect x="128" y="608" width="8" height="8" fill="rgb(232,232,232)"/>
<rect x="144" y="608" width="8" height="8" fill="rgb(197,199,199)"/>
<rect x="152" y="608" width="8" height="8" fill="rgb(204,205,205)"/>
<rect x="160" y="608" width="8" height="8" fill="rgb(216,217,217)"/>
<rect x="168" y="608" width="8" height="8" fill="rgb(219,220,220)"/>
<rect x="176" y="608" width="8" height="8" fill="rgb(221,222,222)"/>
<rect x="184" y="608" width="8" height="8" fill="rgb(224,224,224)"/>
<rect x="200" y="608" width="8" height="8" fill="rgb(216,217,217)"/>
<rect x="208" y="608" width="8" height="8" fill="rgb(219,220,220)"/>
<rect x="216" y="608" width="8" height="8" fill="rgb(213,214,214)"/>
<rect x="224" y="608" width="8" height="8" fill="rgb(217,218,218)"/>
<rect x="240" y="608" width="8" height="8" fill="rgb(232,232,232)"/>
<rect x="912" y="608" width="8" height="8" fill="rgb(218,222,221)"/>
<rect x="920" y="608" width="8" height="8" fill="rgb(203,207,207)"/>
<rect x="928" y="608" width="8" height="8" fill="rgb(216,220,219)"/>
<rect x="936" y="608" width="8" height="8" fill="rgb(191,195,194)"/>
<rect x="944" y="608" width="8" height="8" fill="rgb(219,223,222)"/>
<rect x="952" y="608" width="8" height="8" fill="rgb(177,181,180)"/>
<rect x="960" y="608" width="8" height="8" fill="rgb(209,213,212)"/>
<rect x="968" y="608" width="8" height="8" fill="rgb(195,199,199)"/>
<rect x="976" y="608" width="8" height="8" fill="rgb(206,210,209)"/>
<rect x="1184" y="608" width="8" height="8" fill="rgb(188,192,192)"/>
<rect x="1192" y="608" width="8" height="8" fill="rgb(224,228,227)"/>
<rect x="1200" y="608" width="8" height="8" fill="rgb(186,190,189)"/>
<rect x="1208" y="608" width="8" height="8" fill="rgb(224,228,227)"/>
<rect x="1216" y="608" width="8" height="8" fill="rgb(188,192,192)"/>
<rect x="1224" y="608" width="8" height="8" fill="rgb(230,234,233)"/>
<rect x="1232" y="608" width="8" height="8" fill="rgb(179,184,183)"/>
<rect x="1240" y="608" width="8" height="8" fill="rgb(232,236,235)"/>
<rect x="1432" y="608" width="8" height="8" fill="rgb(189,193,192)"/>
<rect x="1440" y="608" width="8" height="8" fill="rgb(223,227,226)"/>
<rect x="1448" y="608" width="8" height="8" fill="rgb(186,190,189)"/>
<rect x="1456" y="608" width="8" height="8" fill="rgb(227,231,230)"/>
<rect x="1464" y="608" width="8" height="8" fill="rgb(183,187,187)"/>
<rect x="1472" y="608" width="8" height="8" fill="rgb(211,215,214)"/>
<rect x="1480" y="608" width="8" height="8" fill="rgb(179,184,183)"/>
<rect x="1488" y="608" width="8" height="8" fill="rgb(223,228,227)"/>
<rect x="1496" y="608" width="8" height="8" fill="rgb(179,184,183)"/>
<rect x="1504" y="608" width="8" height="8" fill="rgb(232,236,235)"/>
<rect x="1688" y="608" width="8" height="8" fill="rgb(184,189,188)"/>
<rect x="1696" y="608" width="8" height="8" fill="rgb(217,221,220)"/>
<rect x="1704" y="608" width="8" height="8" fill="rgb(176,180,179)"/>
<rect x="1712" y="608" width="8" height="8" fill="rgb(198,203,202)"/>
<rect x="1720" y="608" width="8" height="8" fill="rgb(178,182,181)"/>
<rect x="1728" y="608" width="8" height="8" fill="rgb(203,207,206)"/>
<rect x="1736" y="608" width="8" height="8" fill="rgb(232,236,235)"/>
<rect x="1744" y="608" width="8" height="8" fill="rgb(204,208,207)"/>
<rect x="1752" y="608" width="8" height="8" fill="rgb(221,225,224)"/>
<rect x="1760" y="608" width="8" height="8" fill="rgb(181,185,184)"/>
<rect x="1768" y="608" width="8" height="8" fill="rgb(236,240,239)"/>
<rect x="1968" y="608" width="8" height="8" fill="rgb(200,204,203)"/>
<rect x="1976" y="608" width="8" height="8" fill="rgb(205,210,209)"/>
<rect x="1984" y="608" width="8" height="8" fill="rgb(216,220,219)"/>
<rect x="2000" y="608" width="8" height="8" fill="rgb(194,198,198)"/>
<rect x="2008" y="608" width="8" height="8" fill="rgb(217,222,221)"/>
<rect x="2016" y="608" width="8" height="8" fill="rgb(204,208,207)"/>
<rect x="2024" y="608" width="8" height="8" fill="rgb(196,200,200)"/>
<rect x="88" y="632" width="8" height="8" fill="rgb(229,229,229)"/>
<rect x="96" y="632" width="8" height="8" fill="rgb(234,235,235)"/>
<rect x="104" y="632" width="8" height="8" fill="rgb(241,241,241)"/>
<rect x="112" y="632" width="8" height="8" fill="rgb(246,247,247)"/>
<rect x="128" y="632" width="8" height="8" fill="rgb(234,235,235)"/>
<rect x="144" y="632" width="8" height="8" fill="rgb(233,234,234)"/>
<rect x="152" y="632" width="8" height="8" fill="rgb(234,235,235)"/>
<rect x="160" y="632" width="8" height="8" fill="rgb(218,219,219)"/>
<rect x="168" y="632" width="8" height="8" fill="rgb(220,221,221)"/>
<rect x="176" y="632" width="8" height="8" fill="rgb(233,234,234)"/>
<rect x="184" y="632" width="8" height="8" fill="rgb(236,237,237)"/>
<rect x="200" y="632" width="8" height="8" fill="rgb(218,219,219)"/>
<rect x="208" y="632" width="8" height="8" fill="rgb(220,221,221)"/>
<rect x="216" y="632" width="8" height="8" fill="rgb(233,234,234)"/>
<rect x="224" y="632" width="8" height="8" fill="rgb(234,235,235)"/>
<rect x="240" y="632" width="8" height="8" fill="rgb(234,235,235)"/>
<rect x="1432" y="632" width="8" height="8" fill="rgb(213,218,217)"/>
<rect x="1440" y="632" width="8" height="8" fill="rgb(224,228,227)"/>
<rect x="1448" y="632" width="8" height="8" fill="rgb(198,202,201)"/>
<rect x="1456" y="632" width="8" height="8" fill="rgb(215,219,218)"/>
<rect x="1464" y="632" width="8" height="8" fill="rgb(209,213,213)"/>
<rect x="1472" y="632" width="8" height="8" fill="rgb(230,234,234)"/>
<rect x="1480" y="632" width="8" height="8" fill="rgb(192,197,196)"/>
<rect x="1488" y="632" width="8" height="8" fill="rgb(218,222,221)"/>
<rect x="1496" y="632" width="8" height="8" fill="rgb(225,229,228)"/>
<rect x="88" y="640" width="8" height="8" fill="rgb(210,211,211)"/>
<rect x="96" y="640" width="8" height="8" fill="rgb(175,176,176)"/>
<rect x="104" y="640" width="8" height="8" fill="rgb(193,194,194)"/>
<rect x="112" y="640" width="8" height="8" fill="rgb(220,221,221)"/>
<rect x="120" y="640" width="8" height="8" fill="rgb(215,215,215)"/>
<rect x="128" y="640" width="8" height="8" fill="rgb(175,176,176)"/>
<rect x="144" y="640" width="8" height="8" fill="rgb(211,212,212)"/>
<rect x="152" y="640" width="8" height="8" fill="rgb(178,180,180)"/>
<rect x="160" y="640" width="8" height="8" fill="rgb(166,168,168)"/>
<rect x="168" y="640" width="8" height="8" fill="rgb(224,225,225)"/>
<rect x="176" y="640" width="8" height="8" fill="rgb(181,183,183)"/>
<rect x="184" y="640" width="8" height="8" fill="rgb(182,184,184)"/>
<rect x="200" y="640" width="8" height="8" fill="rgb(166,168,168)"/>
<rect x="208" y="640" width="8" height="8" fill="rgb(224,225,225)"/>
<rect x="216" y="640" width="8" height="8" fill="rgb(211,212,212)"/>
<rect x="224" y="640" width="8" height="8" fill="rgb(178,180,180)"/>
<rect x="232" y="640" width="8" height="8" fill="rgb(215,215,215)"/>
<rect x="240" y="640" width="8" height="8" fill="rgb(175,176,176)"/>
<rect x="1432" y="640" width="8" height="8" fill="rgb(167,172,171)"/>
<rect x="1440" y="640" width="8" height="8" fill="rgb(172,176,176)"/>
<rect x="1448" y="640" width="8" height="8" fill="rgb(150,154,154)"/>
<rect x="1456" y="640" width="8" height="8" fill="rgb(215,219,218)"/>
<rect x="1464" y="640" width="8" height="8" fill="rgb(173,178,177)"/>
<rect x="1472" y="640" width="8" height="8" fill="rgb(171,176,175)"/>
<rect x="1480" y="640" width="8" height="8" fill="rgb(150,154,153)"/>
<rect x="1488" y="640" width="8" height="8" fill="rgb(217,221,220)"/>
<rect x="1496" y="640" width="8" height="8" fill="rgb(186,191,190)"/>
<rect x="88" y="648" width="8" height="8" fill="rgb(225,226,226)"/>
<rect x="96" y="648" width="8" height="8" fill="rgb(179,181,181)"/>
<rect x="104" y="648" width="8" height="8" fill="rgb(224,225,225)"/>
<rect x="112" y="648" width="8" height="8" fill="rgb(220,221,221)"/>
<rect x="120" y="648" width="8" height="8" fill="rgb(157,159,159)"/>
<rect x="128" y="648" width="8" height="8" fill="rgb(160,163,163)"/>
<rect x="144" y="648" width="8" height="8" fill="rgb(214,215,215)"/>
<rect x="152" y="648" width="8" height="8" fill="rgb(216,217,217)"/>
<rect x="160" y="648" width="8" height="8" fill="rgb(222,223,223)"/>
<rect x="168" y="648" width="8" height="8" fill="rgb(177,179,179)"/>
<rect x="176" y="648" width="8" height="8" fill="rgb(190,191,191)"/>
<rect x="184" y="648" width="8" height="8" fill="rgb(189,191,191)"/>
<rect x="200" y="648" width="8" height="8" fill="rgb(222,223,223)"/>
<rect x="208" y="648" width="8" height="8" fill="rgb(177,179,179)"/>
<rect x="216" y="648" width="8" height="8" fill="rgb(214,215,215)"/>
<rect x="224" y="648" width="8" height="8" fill="rgb(216,217,217)"/>
<rect x="232" y="648" width="8" height="8" fill="rgb(157,159,159)"/>
<rect x="240" y="648" width="8" height="8" fill="rgb(160,163,163)"/>
<rect x="1432" y="648" width="8" height="8" fill="rgb(162,166,166)"/>
<rect x="1440" y="648" width="8" height="8" fill="rgb(174,179,178)"/>
<rect x="1448" y="648" width="8" height="8" fill="rgb(206,210,210)"/>
<rect x="1456" y="648" width="8" height="8" fill="rgb(161,165,164)"/>
<rect x="1464" y="648" width="8" height="8" fill="rgb(190,194,193)"/>
<rect x="1472" y="648" width="8" height="8" fill="rgb(175,179,178)"/>
<rect x="1480" y="648" width="8" height="8" fill="rgb(207,212,211)"/>
<rect x="1488" y="648" width="8" height="8" fill="rgb(164,168,168)"/>
<rect x="1496" y="648" width="8" height="8" fill="rgb(186,191,190)"/>
<rect x="88" y="656" width="8" height="8" fill="rgb(190,191,191)"/>
<rect x="96" y="656" width="8" height="8" fill="rgb(200,201,201)"/>
<rect x="104" y="656" width="8" height="8" fill="rgb(196,197,197)"/>
<rect x="112" y="656" width="8" height="8" fill="rgb(195,196,196)"/>
<rect x="128" y="656" width="8" height="8" fill="rgb(216,217,217)"/>
<rect x="144" y="656" width="8" height="8" fill="rgb(180,182,182)"/>
<rect x="152" y="656" width="8" height="8" fill="rgb(204,205,205)"/>
<rect x="160" y="656" width="8" height="8" fill="rgb(197,198,198)"/>
<rect x="168" y="656" width="8" height="8" fill="rgb(200,201,201)"/>
<rect x="176" y="656" width="8" height="8" fill="rgb(204,205,205)"/>
<rect x="184" y="656" width="8" height="8" fill="rgb(205,206,206)"/>
<rect x="200" y="656" width="8" height="8" fill="rgb(197,198,198)"/>
<rect x="208" y="656" width="8" height="8" fill="rgb(200,201,201)"/>
<rect x="216" y="656" width="8" height="8" fill="rgb(180,182,182)"/>
<rect x="224" y="656" width="8" height="8" fill="rgb(204,205,205)"/>
<rect x="240" y="656" width="8" height="8" fill="rgb(216,217,217)"/>
<rect x="1432" y="656" width="8" height="8" fill="rgb(183,188,187)"/>
<rect x="1440" y="656" width="8" height="8" fill="rgb(194,199,198)"/>
<rect x="1448" y="656" width="8" height="8" fill="rgb(177,181,181)"/>
<rect x="1456" y="656" width="8" height="8" fill="rgb(198,202,202)"/>
<rect x="1464" y="656" width="8" height="8" fill="rgb(179,183,182)"/>
<rect x="1472" y="656" width="8" height="8" fill="rgb(203,208,207)"/>
<rect x="1480" y="656" width="8" height="8" fill="rgb(173,177,176)"/>
<rect x="1488" y="656" width="8" height="8" fill="rgb(200,205,204)"/>
<rect x="1496" y="656" width="8" height="8" fill="rgb(163,168,167)"/>
<rect x="1504" y="656" width="8" height="8" fill="rgb(210,214,213)"/>
<rect x="88" y="688" width="8" height="8" fill="rgb(189,190,190)"/>
<rect x="96" y="688" width="8" height="8" fill="rgb(175,177,177)"/>
<rect x="104" y="688" width="8" height="8" fill="rgb(186,187,187)"/>
<rect x="112" y="688" width="8" height="8" fill="rgb(220,221,221)"/>
<rect x="120" y="688" width="8" height="8" fill="rgb(230,231,231)"/>
<rect x="128" y="688" width="8" height="8" fill="rgb(169,171,171)"/>
<rect x="144" y="688" width="8" height="8" fill="rgb(189,190,190)"/>
<rect x="152" y="688" width="8" height="8" fill="rgb(175,177,177)"/>
<rect x="160" y="688" width="8" height="8" fill="rgb(165,167,167)"/>
<rect x="168" y="688" width="8" height="8" fill="rgb(211,212,212)"/>
<rect x="176" y="688" width="8" height="8" fill="rgb(176,178,178)"/>
<rect x="184" y="688" width="8" height="8" fill="rgb(180,182,182)"/>
<rect x="200" y="688" width="8" height="8" fill="rgb(165,167,167)"/>
<rect x="208" y="688" width="8" height="8" fill="rgb(211,212,212)"/>
<rect x="216" y="688" width="8" height="8" fill="rgb(192,194,194)"/>
<rect x="224" y="688" width="8" height="8" fill="rgb(214,215,215)"/>
<rect x="232" y="688" width="8" height="8" fill="rgb(230,231,231)"/>
<rect x="240" y="688" width="8" height="8" fill="rgb(169,171,171)"/>
<rect x="1032" y="688" width="8" height="8" fill="rgb(163,165,165)"/>
<rect x="1040" y="688" width="8" height="8" fill="rgb(218,219,219)"/>
<rect x="1048" y="688" width="8" height="8" fill="rgb(166,169,169)"/>
<rect x="1056" y="688" width="8" height="8" fill="rgb(181,183,183)"/>
<rect x="1064" y="688" width="8" height="8" fill="rgb(168,170,170)"/>
<rect x="1072" y="688" width="8" height="8" fill="rgb(217,218,218)"/>
<rect x="1080" y="688" width="8" height="8" fill="rgb(176,178,178)"/>
<rect x="1088" y="688" width="8" height="8" fill="rgb(194,195,195)"/>
<rect x="1096" y="688" width="8" height="8" fill="rgb(171,173,173)"/>
<rect x="1104" y="688" width="8" height="8" fill="rgb(159,161,161)"/>
<rect x="1112" y="688" width="8" height="8" fill="rgb(252,252,252)"/>
<rect x="1280" y="688" width="8" height="8" fill="rgb(162,165,165)"/>
<rect x="1288" y="688" width="8" height="8" fill="rgb(219,220,220)"/>
<rect x="1296" y="688" width="8" height="8" fill="rgb(166,168,168)"/>
<rect x="1304" y="688" width="8" height="8" fill="rgb(185,187,187)"/>
<rect x="1312" y="688" width="8" height="8" fill="rgb(164,166,166)"/>
<rect x="1320" y="688" width="8" height="8" fill="rgb(200,201,201)"/>
<rect x="1328" y="688" width="8" height="8" fill="rgb(228,229,229)"/>
<rect x="1336" y="688" width="8" height="8" fill="rgb(220,221,221)"/>
<rect x="1344" y="688" width="8" height="8" fill="rgb(181,183,183)"/>
<rect x="1352" y="688" width="8" height="8" fill="rgb(199,200,200)"/>
<rect x="1360" y="688" width="8" height="8" fill="rgb(169,171,171)"/>
<rect x="1368" y="688" width="8" height="8" fill="rgb(159,161,161)"/>
<rect x="1536" y="688" width="8" height="8" fill="rgb(184,186,186)"/>
<rect x="1544" y="688" width="8" height="8" fill="rgb(187,189,189)"/>
<rect x="1552" y="688" width="8" height="8" fill="rgb(156,159,159)"/>
<rect x="1560" y="688" width="8" height="8" fill="rgb(248,249,249)"/>
<rect x="1568" y="688" width="8" height="8" fill="rgb(177,178,178)"/>
<rect x="1576" y="688" width="8" height="8" fill="rgb(179,181,181)"/>
<rect x="1584" y="688" width="8" height="8" fill="rgb(165,167,167)"/>
<rect x="1592" y="688" width="8" height="8" fill="rgb(196,197,197)"/>
<rect x="1600" y="688" width="8" height="8" fill="rgb(190,191,191)"/>
<rect x="1608" y="688" width="8" height="8" fill="rgb(185,186,186)"/>
<rect x="1616" y="688" width="8" height="8" fill="rgb(221,221,221)"/>
<rect x="1624" y="688" width="8" height="8" fill="rgb(148,151,151)"/>
<rect x="1632" y="688" width="8" height="8" fill="rgb(177,179,179)"/>
<rect x="88" y="696" width="8" height="8" fill="rgb(234,234,234)"/>
<rect x="96" y="696" width="8" height="8" fill="rgb(175,177,177)"/>
<rect x="104" y="696" width="8" height="8" fill="rgb(224,225,225)"/>
<rect x="112" y="696" width="8" height="8" fill="rgb(220,221,221)"/>
<rect x="120" y="696" width="8" height="8" fill="rgb(189,190,190)"/>
<rect x="128" y="696" width="8" height="8" fill="rgb(189,191,191)"/>
<rect x="144" y="696" width="8" height="8" fill="rgb(233,234,234)"/>
<rect x="152" y="696" width="8" height="8" fill="rgb(198,200,200)"/>
<rect x="160" y="696" width="8" height="8" fill="rgb(192,194,194)"/>
<rect x="168" y="696" width="8" height="8" fill="rgb(173,175,175)"/>
<rect x="176" y="696" width="8" height="8" fill="rgb(189,191,191)"/>
<rect x="184" y="696" width="8" height="8" fill="rgb(189,191,191)"/>
<rect x="200" y="696" width="8" height="8" fill="rgb(192,194,194)"/>
<rect x="208" y="696" width="8" height="8" fill="rgb(173,175,175)"/>
<rect x="216" y="696" width="8" height="8" fill="rgb(231,231,231)"/>
<rect x="224" y="696" width="8" height="8" fill="rgb(214,215,215)"/>
<rect x="232" y="696" width="8" height="8" fill="rgb(189,190,190)"/>
<rect x="240" y="696" width="8" height="8" fill="rgb(189,191,191)"/>
<rect x="1032" y="696" width="8" height="8" fill="rgb(188,190,190)"/>
<rect x="1040" y="696" width="8" height="8" fill="rgb(166,168,168)"/>
<rect x="1048" y="696" width="8" height="8" fill="rgb(215,216,216)"/>
<rect x="1056" y="696" width="8" height="8" fill="rgb(178,180,180)"/>
<rect x="1064" y="696" width="8" height="8" fill="rgb(181,183,183)"/>
<rect x="1072" y="696" width="8" height="8" fill="rgb(149,152,152)"/>
<rect x="1080" y="696" width="8" height="8" fill="rgb(242,242,242)"/>
<rect x="1088" y="696" width="8" height="8" fill="rgb(181,183,183)"/>
<rect x="1096" y="696" width="8" height="8" fill="rgb(171,173,173)"/>
<rect x="1104" y="696" width="8" height="8" fill="rgb(167,169,169)"/>
<rect x="1112" y="696" width="8" height="8" fill="rgb(245,245,245)"/>
<rect x="1280" y="696" width="8" height="8" fill="rgb(188,189,189)"/>
<rect x="1288" y="696" width="8" height="8" fill="rgb(172,174,174)"/>
<rect x="1296" y="696" width="8" height="8" fill="rgb(207,209,209)"/>
<rect x="1304" y="696" width="8" height="8" fill="rgb(180,182,182)"/>
<rect x="1312" y="696" width="8" height="8" fill="rgb(182,183,183)"/>
<rect x="1320" y="696" width="8" height="8" fill="rgb(167,169,169)"/>
<rect x="1328" y="696" width="8" height="8" fill="rgb(228,229,229)"/>
<rect x="1336" y="696" width="8" height="8" fill="rgb(188,190,190)"/>
<rect x="1344" y="696" width="8" height="8" fill="rgb(242,242,242)"/>
<rect x="1352" y="696" width="8" height="8" fill="rgb(186,187,187)"/>
<rect x="1360" y="696" width="8" height="8" fill="rgb(169,171,171)"/>
<rect x="1368" y="696" width="8" height="8" fill="rgb(167,169,169)"/>
<rect x="1376" y="696" width="8" height="8" fill="rgb(246,246,246)"/>
<rect x="1536" y="696" width="8" height="8" fill="rgb(227,227,227)"/>
<rect x="1544" y="696" width="8" height="8" fill="rgb(187,189,189)"/>
<rect x="1552" y="696" width="8" height="8" fill="rgb(193,194,194)"/>
<rect x="1568" y="696" width="8" height="8" fill="rgb(204,206,206)"/>
<rect x="1576" y="696" width="8" height="8" fill="rgb(205,206,206)"/>
<rect x="1584" y="696" width="8" height="8" fill="rgb(169,171,171)"/>
<rect x="1592" y="696" width="8" height="8" fill="rgb(179,181,181)"/>
<rect x="1600" y="696" width="8" height="8" fill="rgb(187,188,188)"/>
<rect x="1608" y="696" width="8" height="8" fill="rgb(222,223,223)"/>
<rect x="1616" y="696" width="8" height="8" fill="rgb(203,204,204)"/>
<rect x="1624" y="696" width="8" height="8" fill="rgb(149,151,151)"/>
<rect x="1632" y="696" width="8" height="8" fill="rgb(177,179,179)"/>
<rect x="88" y="704" width="8" height="8" fill="rgb(176,178,178)"/>
<rect x="96" y="704" width="8" height="8" fill="rgb(182,184,184)"/>
<rect x="104" y="704" width="8" height="8" fill="rgb(188,189,189)"/>
<rect x="112" y="704" width="8" height="8" fill="rgb(186,188,188)"/>
<rect x="120" y="704" width="8" height="8" fill="rgb(207,209,209)"/>
<rect x="128" y="704" width="8" height="8" fill="rgb(172,174,174)"/>
<rect x="144" y="704" width="8" height="8" fill="rgb(160,163,163)"/>
<rect x="152" y="704" width="8" height="8" fill="rgb(204,205,205)"/>
<rect x="160" y="704" width="8" height="8" fill="rgb(191,193,193)"/>
<rect x="168" y="704" width="8" height="8" fill="rgb(183,184,184)"/>
<rect x="176" y="704" width="8" height="8" fill="rgb(188,189,189)"/>
<rect x="184" y="704" width="8" height="8" fill="rgb(188,190,190)"/>
<rect x="200" y="704" width="8" height="8" fill="rgb(191,193,193)"/>
<rect x="208" y="704" width="8" height="8" fill="rgb(183,184,184)"/>
<rect x="216" y="704" width="8" height="8" fill="rgb(193,195,195)"/>
<rect x="224" y="704" width="8" height="8" fill="rgb(181,182,182)"/>
<rect x="232" y="704" width="8" height="8" fill="rgb(207,209,209)"/>
<rect x="240" y="704" width="8" height="8" fill="rgb(172,174,174)"/>
<rect x="1032" y="704" width="8" height="8" fill="rgb(187,189,189)"/>
<rect x="1040" y="704" width="8" height="8" fill="rgb(193,195,195)"/>
<rect x="1048" y="704" width="8" height="8" fill="rgb(176,178,178)"/>
<rect x="1056" y="704" width="8" height="8" fill="rgb(198,200,200)"/>
<rect x="1064" y="704" width="8" height="8" fill="rgb(180,182,182)"/>
<rect x="1072" y="704" width="8" height="8" fill="rgb(204,205,205)"/>
<rect x="1080" y="704" width="8" height="8" fill="rgb(177,179,179)"/>
<rect x="1088" y="704" width="8" height="8" fill="rgb(181,183,183)"/>
<rect x="1096" y="704" width="8" height="8" fill="rgb(179,181,181)"/>
<rect x="1104" y="704" width="8" height="8" fill="rgb(175,177,177)"/>
<rect x="1112" y="704" width="8" height="8" fill="rgb(241,241,241)"/>
<rect x="1280" y="704" width="8" height="8" fill="rgb(187,189,189)"/>
<rect x="1288" y="704" width="8" height="8" fill="rgb(194,195,195)"/>
<rect x="1296" y="704" width="8" height="8" fill="rgb(176,178,178)"/>
<rect x="1304" y="704" width="8" height="8" fill="rgb(197,199,199)"/>
<rect x="1312" y="704" width="8" height="8" fill="rgb(180,182,182)"/>
<rect x="1320" y="704" width="8" height="8" fill="rgb(181,183,183)"/>
<rect x="1328" y="704" width="8" height="8" fill="rgb(176,178,178)"/>
<rect x="1336" y="704" width="8" height="8" fill="rgb(210,212,212)"/>
<rect x="1344" y="704" width="8" height="8" fill="rgb(181,183,183)"/>
<rect x="1352" y="704" width="8" height="8" fill="rgb(186,188,188)"/>
<rect x="1360" y="704" width="8" height="8" fill="rgb(177,179,179)"/>
<rect x="1368" y="704" width="8" height="8" fill="rgb(174,176,176)"/>
<rect x="1376" y="704" width="8" height="8" fill="rgb(242,243,243)"/>
<rect x="1536" y="704" width="8" height="8" fill="rgb(173,175,175)"/>
<rect x="1544" y="704" width="8" height="8" fill="rgb(193,195,195)"/>
<rect x="1552" y="704" width="8" height="8" fill="rgb(160,162,162)"/>
<rect x="1560" y="704" width="8" height="8" fill="rgb(210,211,211)"/>
<rect x="1568" y="704" width="8" height="8" fill="rgb(155,157,157)"/>
<rect x="1576" y="704" width="8" height="8" fill="rgb(206,207,207)"/>
<rect x="1584" y="704" width="8" height="8" fill="rgb(224,225,225)"/>
<rect x="1592" y="704" width="8" height="8" fill="rgb(156,158,158)"/>
<rect x="1600" y="704" width="8" height="8" fill="rgb(200,201,201)"/>
<rect x="1608" y="704" width="8" height="8" fill="rgb(187,189,189)"/>
<rect x="1616" y="704" width="8" height="8" fill="rgb(205,207,207)"/>
<rect x="1624" y="704" width="8" height="8" fill="rgb(157,159,159)"/>
<rect x="1632" y="704" width="8" height="8" fill="rgb(181,183,183)"/>
<rect x="88" y="736" width="8" height="8" fill="rgb(189,190,190)"/>
<rect x="96" y="736" width="8" height="8" fill="rgb(192,193,193)"/>
<rect x="104" y="736" width="8" height="8" fill="rgb(194,195,195)"/>
<rect x="112" y="736" width="8" height="8" fill="rgb(229,230,230)"/>
<rect x="120" y="736" width="8" height="8" fill="rgb(245,245,245)"/>
<rect x="128" y="736" width="8" height="8" fill="rgb(186,187,187)"/>
<rect x="144" y="736" width="8" height="8" fill="rgb(190,191,191)"/>
<rect x="152" y="736" width="8" height="8" fill="rgb(192,193,193)"/>
<rect x="160" y="736" width="8" height="8" fill="rgb(181,182,182)"/>
<rect x="168" y="736" width="8" height="8" fill="rgb(211,212,212)"/>
<rect x="176" y="736" width="8" height="8" fill="rgb(192,194,194)"/>
<rect x="184" y="736" width="8" height="8" fill="rgb(196,198,198)"/>
<rect x="200" y="736" width="8" height="8" fill="rgb(181,182,182)"/>
<rect x="208" y="736" width="8" height="8" fill="rgb(211,212,212)"/>
<rect x="216" y="736" width="8" height="8" fill="rgb(199,200,200)"/>
<rect x="224" y="736" width="8" height="8" fill="rgb(224,225,225)"/>
<rect x="232" y="736" width="8" height="8" fill="rgb(245,245,245)"/>
<rect x="240" y="736" width="8" height="8" fill="rgb(186,187,187)"/>
<rect x="776" y="736" width="8" height="8" fill="rgb(234,235,235)"/>
<rect x="784" y="736" width="8" height="8" fill="rgb(200,201,201)"/>
<rect x="792" y="736" width="8" height="8" fill="rgb(228,228,228)"/>
<rect x="800" y="736" width="8" height="8" fill="rgb(205,206,206)"/>
<rect x="808" y="736" width="8" height="8" fill="rgb(178,180,180)"/>
<rect x="816" y="736" width="8" height="8" fill="rgb(206,207,207)"/>
<rect x="824" y="736" width="8" height="8" fill="rgb(172,174,174)"/>
<rect x="832" y="736" width="8" height="8" fill="rgb(213,214,214)"/>
<rect x="840" y="736" width="8" height="8" fill="rgb(229,229,229)"/>
<rect x="1056" y="736" width="8" height="8" fill="rgb(176,178,178)"/>
<rect x="1064" y="736" width="8" height="8" fill="rgb(205,206,206)"/>
<rect x="1072" y="736" width="8" height="8" fill="rgb(191,193,193)"/>
<rect x="1080" y="736" width="8" height="8" fill="rgb(213,214,214)"/>
<rect x="1088" y="736" width="8" height="8" fill="rgb(178,179,179)"/>
<rect x="1096" y="736" width="8" height="8" fill="rgb(199,201,201)"/>
<rect x="1104" y="736" width="8" height="8" fill="rgb(192,193,193)"/>
<rect x="1304" y="736" width="8" height="8" fill="rgb(210,211,211)"/>
<rect x="1312" y="736" width="8" height="8" fill="rgb(208,209,209)"/>
<rect x="1320" y="736" width="8" height="8" fill="rgb(175,177,177)"/>
<rect x="1328" y="736" width="8" height="8" fill="rgb(220,221,221)"/>
<rect x="1336" y="736" width="8" height="8" fill="rgb(175,177,177)"/>
<rect x="1344" y="736" width="8" height="8" fill="rgb(196,197,197)"/>
<rect x="1352" y="736" width="8" height="8" fill="rgb(190,191,191)"/>
<rect x="1360" y="736" width="8" height="8" fill="rgb(201,202,202)"/>
<rect x="1560" y="736" width="8" height="8" fill="rgb(207,209,209)"/>
<rect x="1568" y="736" width="8" height="8" fill="rgb(215,216,216)"/>
<rect x="1576" y="736" width="8" height="8" fill="rgb(177,179,179)"/>
<rect x="1584" y="736" width="8" height="8" fill="rgb(212,213,213)"/>
<rect x="1592" y="736" width="8" height="8" fill="rgb(169,171,171)"/>
<rect x="1600" y="736" width="8" height="8" fill="rgb(247,247,247)"/>
<rect x="1608" y="736" width="8" height="8" fill="rgb(177,179,179)"/>
<rect x="1616" y="736" width="8" height="8" fill="rgb(202,203,203)"/>
<rect x="1624" y="736" width="8" height="8" fill="rgb(180,182,182)"/>
<rect x="1632" y="736" width="8" height="8" fill="rgb(209,210,210)"/>
<rect x="88" y="744" width="8" height="8" fill="rgb(234,234,234)"/>
<rect x="96" y="744" width="8" height="8" fill="rgb(175,177,177)"/>
<rect x="104" y="744" width="8" height="8" fill="rgb(224,225,225)"/>
<rect x="112" y="744" width="8" height="8" fill="rgb(220,221,221)"/>
<rect x="120" y="744" width="8" height="8" fill="rgb(194,195,195)"/>
<rect x="128" y="744" width="8" height="8" fill="rgb(192,193,193)"/>
<rect x="144" y="744" width="8" height="8" fill="rgb(250,250,250)"/>
<rect x="152" y="744" width="8" height="8" fill="rgb(186,187,187)"/>
<rect x="160" y="744" width="8" height="8" fill="rgb(176,178,178)"/>
<rect x="168" y="744" width="8" height="8" fill="rgb(190,191,191)"/>
<rect x="176" y="744" width="8" height="8" fill="rgb(189,191,191)"/>
<rect x="184" y="744" width="8" height="8" fill="rgb(189,191,191)"/>
<rect x="200" y="744" width="8" height="8" fill="rgb(176,178,178)"/>
<rect x="208" y="744" width="8" height="8" fill="rgb(190,191,191)"/>
<rect x="216" y="744" width="8" height="8" fill="rgb(230,231,231)"/>
<rect x="224" y="744" width="8" height="8" fill="rgb(214,215,215)"/>
<rect x="232" y="744" width="8" height="8" fill="rgb(194,195,195)"/>
<rect x="240" y="744" width="8" height="8" fill="rgb(192,193,193)"/>
<rect x="776" y="744" width="8" height="8" fill="rgb(196,197,197)"/>
<rect x="784" y="744" width="8" height="8" fill="rgb(195,197,197)"/>
<rect x="792" y="744" width="8" height="8" fill="rgb(195,196,196)"/>
<rect x="800" y="744" width="8" height="8" fill="rgb(177,179,179)"/>
<rect x="808" y="744" width="8" height="8" fill="rgb(212,213,213)"/>
<rect x="816" y="744" width="8" height="8" fill="rgb(175,176,176)"/>
<rect x="824" y="744" width="8" height="8" fill="rgb(171,173,173)"/>
<rect x="832" y="744" width="8" height="8" fill="rgb(187,189,189)"/>
<rect x="840" y="744" width="8" height="8" fill="rgb(220,221,221)"/>
<rect x="1048" y="744" width="8" height="8" fill="rgb(223,224,224)"/>
<rect x="1056" y="744" width="8" height="8" fill="rgb(164,166,166)"/>
<rect x="1064" y="744" width="8" height="8" fill="rgb(201,202,202)"/>
<rect x="1072" y="744" width="8" height="8" fill="rgb(178,179,179)"/>
<rect x="1080" y="744" width="8" height="8" fill="rgb(179,181,181)"/>
<rect x="1088" y="744" width="8" height="8" fill="rgb(220,221,221)"/>
<rect x="1096" y="744" width="8" height="8" fill="rgb(168,170,170)"/>
<rect x="1104" y="744" width="8" height="8" fill="rgb(177,179,179)"/>
<rect x="1112" y="744" width="8" height="8" fill="rgb(247,247,247)"/>
<rect x="1304" y="744" width="8" height="8" fill="rgb(180,181,181)"/>
<rect x="1312" y="744" width="8" height="8" fill="rgb(192,193,193)"/>
<rect x="1320" y="744" width="8" height="8" fill="rgb(173,175,175)"/>
<rect x="1328" y="744" width="8" height="8" fill="rgb(162,164,164)"/>
<rect x="1336" y="744" width="8" height="8" fill="rgb(247,247,247)"/>
<rect x="1344" y="744" width="8" height="8" fill="rgb(150,152,152)"/>
<rect x="1352" y="744" width="8" height="8" fill="rgb(178,180,180)"/>
<rect x="1360" y="744" width="8" height="8" fill="rgb(176,178,178)"/>
<rect x="1552" y="744" width="8" height="8" fill="rgb(252,252,252)"/>
<rect x="1560" y="744" width="8" height="8" fill="rgb(177,179,179)"/>
<rect x="1568" y="744" width="8" height="8" fill="rgb(213,214,214)"/>
<rect x="1576" y="744" width="8" height="8" fill="rgb(209,210,210)"/>
<rect x="1584" y="744" width="8" height="8" fill="rgb(201,202,202)"/>
<rect x="1592" y="744" width="8" height="8" fill="rgb(189,191,191)"/>
<rect x="1608" y="744" width="8" height="8" fill="rgb(227,228,228)"/>
<rect x="1616" y="744" width="8" height="8" fill="rgb(193,195,195)"/>
<rect x="1624" y="744" width="8" height="8" fill="rgb(151,153,153)"/>
<rect x="1632" y="744" width="8" height="8" fill="rgb(180,182,182)"/>
<rect x="88" y="752" width="8" height="8" fill="rgb(188,189,189)"/>
<rect x="96" y="752" width="8" height="8" fill="rgb(173,175,175)"/>
<rect x="104" y="752" width="8" height="8" fill="rgb(200,201,201)"/>
<rect x="112" y="752" width="8" height="8" fill="rgb(197,198,198)"/>
<rect x="120" y="752" width="8" height="8" fill="rgb(188,190,190)"/>
<rect x="128" y="752" width="8" height="8" fill="rgb(160,163,163)"/>
<rect x="144" y="752" width="8" height="8" fill="rgb(164,167,167)"/>
<rect x="152" y="752" width="8" height="8" fill="rgb(220,221,221)"/>
<rect x="160" y="752" width="8" height="8" fill="rgb(200,201,201)"/>
<rect x="168" y="752" width="8" height="8" fill="rgb(174,176,176)"/>
<rect x="176" y="752" width="8" height="8" fill="rgb(179,181,181)"/>
<rect x="184" y="752" width="8" height="8" fill="rgb(178,180,180)"/>
<rect x="200" y="752" width="8" height="8" fill="rgb(200,201,201)"/>
<rect x="208" y="752" width="8" height="8" fill="rgb(174,176,176)"/>
<rect x="216" y="752" width="8" height="8" fill="rgb(206,207,207)"/>
<rect x="224" y="752" width="8" height="8" fill="rgb(191,192,192)"/>
<rect x="232" y="752" width="8" height="8" fill="rgb(188,190,190)"/>
<rect x="240" y="752" width="8" height="8" fill="rgb(160,163,163)"/>
<rect x="776" y="752" width="8" height="8" fill="rgb(186,188,188)"/>
<rect x="784" y="752" width="8" height="8" fill="rgb(165,167,167)"/>
<rect x="792" y="752" width="8" height="8" fill="rgb(186,188,188)"/>
<rect x="800" y="752" width="8" height="8" fill="rgb(168,170,170)"/>
<rect x="808" y="752" width="8" height="8" fill="rgb(176,178,178)"/>
<rect x="816" y="752" width="8" height="8" fill="rgb(183,184,184)"/>
<rect x="824" y="752" width="8" height="8" fill="rgb(196,197,197)"/>
<rect x="832" y="752" width="8" height="8" fill="rgb(165,167,167)"/>
<rect x="840" y="752" width="8" height="8" fill="rgb(188,189,189)"/>
<rect x="848" y="752" width="8" height="8" fill="rgb(241,241,241)"/>
<rect x="1048" y="752" width="8" height="8" fill="rgb(209,210,210)"/>
<rect x="1056" y="752" width="8" height="8" fill="rgb(154,156,156)"/>
<rect x="1064" y="752" width="8" height="8" fill="rgb(203,204,204)"/>
<rect x="1072" y="752" width="8" height="8" fill="rgb(182,184,184)"/>
<rect x="1080" y="752" width="8" height="8" fill="rgb(171,173,173)"/>
<rect x="1088" y="752" width="8" height="8" fill="rgb(178,180,180)"/>
<rect x="1096" y="752" width="8" height="8" fill="rgb(201,202,202)"/>
<rect x="1104" y="752" width="8" height="8" fill="rgb(179,181,181)"/>
<rect x="1112" y="752" width="8" height="8" fill="rgb(236,237,237)"/>
<rect x="1296" y="752" width="8" height="8" fill="rgb(238,238,238)"/>
<rect x="1304" y="752" width="8" height="8" fill="rgb(179,180,180)"/>
<rect x="1312" y="752" width="8" height="8" fill="rgb(180,182,182)"/>
<rect x="1320" y="752" width="8" height="8" fill="rgb(196,198,198)"/>
<rect x="1328" y="752" width="8" height="8" fill="rgb(160,162,162)"/>
<rect x="1336" y="752" width="8" height="8" fill="rgb(185,187,187)"/>
<rect x="1344" y="752" width="8" height="8" fill="rgb(186,188,188)"/>
<rect x="1352" y="752" width="8" height="8" fill="rgb(185,187,187)"/>
<rect x="1360" y="752" width="8" height="8" fill="rgb(160,163,163)"/>
<rect x="1368" y="752" width="8" height="8" fill="rgb(216,217,217)"/>
<rect x="1376" y="752" width="8" height="8" fill="rgb(250,250,250)"/>
<rect x="1552" y="752" width="8" height="8" fill="rgb(232,232,232)"/>
<rect x="1560" y="752" width="8" height="8" fill="rgb(180,182,182)"/>
<rect x="1568" y="752" width="8" height="8" fill="rgb(179,180,180)"/>
<rect x="1576" y="752" width="8" height="8" fill="rgb(190,192,192)"/>
<rect x="1584" y="752" width="8" height="8" fill="rgb(184,186,186)"/>
<rect x="1592" y="752" width="8" height="8" fill="rgb(163,166,166)"/>
<rect x="1600" y="752" width="8" height="8" fill="rgb(227,227,227)"/>
<rect x="1608" y="752" width="8" height="8" fill="rgb(158,161,161)"/>
<rect x="1616" y="752" width="8" height="8" fill="rgb(221,222,222)"/>
<rect x="1624" y="752" width="8" height="8" fill="rgb(207,208,208)"/>
<rect x="1632" y="752" width="8" height="8" fill="rgb(131,134,134)"/>
<rect x="88" y="760" width="8" height="8" fill="rgb(244,244,244)"/>
<rect x="96" y="760" width="8" height="8" fill="rgb(247,247,247)"/>
<rect x="104" y="760" width="8" height="8" fill="rgb(235,236,236)"/>
<rect x="112" y="760" width="8" height="8" fill="rgb(235,236,236)"/>
<rect x="128" y="760" width="8" height="8" fill="rgb(247,247,247)"/>
<rect x="144" y="760" width="8" height="8" fill="rgb(234,234,234)"/>
<rect x="152" y="760" width="8" height="8" fill="rgb(235,235,235)"/>
<rect x="160" y="760" width="8" height="8" fill="rgb(247,247,247)"/>
<rect x="168" y="760" width="8" height="8" fill="rgb(247,247,247)"/>
<rect x="176" y="760" width="8" height="8" fill="rgb(247,247,247)"/>
<rect x="184" y="760" width="8" height="8" fill="rgb(249,249,249)"/>
<rect x="200" y="760" width="8" height="8" fill="rgb(247,247,247)"/>
<rect x="208" y="760" width="8" height="8" fill="rgb(247,247,247)"/>
<rect x="216" y="760" width="8" height="8" fill="rgb(236,236,236)"/>
<rect x="224" y="760" width="8" height="8" fill="rgb(235,235,235)"/>
<rect x="240" y="760" width="8" height="8" fill="rgb(247,247,247)"/>
<rect x="784" y="760" width="8" height="8" fill="rgb(248,248,248)"/>
<rect x="800" y="760" width="8" height="8" fill="rgb(248,248,248)"/>
<rect x="808" y="760" width="8" height="8" fill="rgb(242,243,243)"/>
<rect x="824" y="760" width="8" height="8" fill="rgb(240,240,240)"/>
<rect x="832" y="760" width="8" height="8" fill="rgb(251,251,251)"/>
<rect x="840" y="760" width="8" height="8" fill="rgb(230,230,230)"/>
<rect x="848" y="760" width="8" height="8" fill="rgb(246,246,246)"/>
<rect x="1056" y="760" width="8" height="8" fill="rgb(247,248,248)"/>
<rect x="1072" y="760" width="8" height="8" fill="rgb(239,240,240)"/>
<rect x="1088" y="760" width="8" height="8" fill="rgb(242,242,242)"/>
<rect x="1104" y="760" width="8" height="8" fill="rgb(240,240,240)"/>
<rect x="1304" y="760" width="8" height="8" fill="rgb(253,253,253)"/>
<rect x="1312" y="760" width="8" height="8" fill="rgb(250,250,250)"/>
<rect x="1320" y="760" width="8" height="8" fill="rgb(239,240,240)"/>
<rect x="1336" y="760" width="8" height="8" fill="rgb(242,242,242)"/>
<rect x="1352" y="760" width="8" height="8" fill="rgb(240,240,240)"/>
<rect x="1360" y="760" width="8" height="8" fill="rgb(246,246,246)"/>
<rect x="1368" y="760" width="8" height="8" fill="rgb(230,230,230)"/>
<rect x="1376" y="760" width="8" height="8" fill="rgb(251,251,251)"/>
<rect x="1560" y="760" width="8" height="8" fill="rgb(253,253,253)"/>
<rect x="1568" y="760" width="8" height="8" fill="rgb(250,250,250)"/>
<rect x="1576" y="760" width="8" height="8" fill="rgb(237,237,237)"/>
<rect x="1584" y="760" width="8" height="8" fill="rgb(252,252,252)"/>
<rect x="1592" y="760" width="8" height="8" fill="rgb(230,230,230)"/>
<rect x="1600" y="760" width="8" height="8" fill="rgb(239,239,239)"/>
<rect x="1608" y="760" width="8" height="8" fill="rgb(230,230,230)"/>
<rect x="1616" y="760" width="8" height="8" fill="rgb(241,241,241)"/>
<rect x="1624" y="760" width="8" height="8" fill="rgb(249,249,249)"/>
<rect x="1632" y="760" width="8" height="8" fill="rgb(244,244,244)"/>
<rect x="88" y="784" width="8" height="8" fill="rgb(202,204,204)"/>
<rect x="96" y="784" width="8" height="8" fill="rgb(209,210,210)"/>
<rect x="104" y="784" width="8" height="8" fill="rgb(213,214,214)"/>
<rect x="112" y="784" width="8" height="8" fill="rgb(238,238,238)"/>
<rect x="128" y="784" width="8" height="8" fill="rgb(208,209,209)"/>
<rect x="144" y="784" width="8" height="8" fill="rgb(207,208,208)"/>
<rect x="152" y="784" width="8" height="8" fill="rgb(209,210,210)"/>
<rect x="160" y="784" width="8" height="8" fill="rgb(196,198,198)"/>
<rect x="168" y="784" width="8" height="8" fill="rgb(211,212,212)"/>
<rect x="176" y="784" width="8" height="8" fill="rgb(209,210,210)"/>
<rect x="184" y="784" width="8" height="8" fill="rgb(213,214,214)"/>
<rect x="200" y="784" width="8" height="8" fill="rgb(196,198,198)"/>
<rect x="208" y="784" width="8" height="8" fill="rgb(211,212,212)"/>
<rect x="216" y="784" width="8" height="8" fill="rgb(216,217,217)"/>
<rect x="224" y="784" width="8" height="8" fill="rgb(234,235,235)"/>
<rect x="240" y="784" width="8" height="8" fill="rgb(208,209,209)"/>
<rect x="640" y="784" width="8" height="8" fill="rgb(226,230,229)"/>
<rect x="648" y="784" width="8" height="8" fill="rgb(171,176,175)"/>
<rect x="656" y="784" width="8" height="8" fill="rgb(230,235,234)"/>
<rect x="664" y="784" width="8" height="8" fill="rgb(195,199,198)"/>
<rect x="672" y="784" width="8" height="8" fill="rgb(219,223,222)"/>
<rect x="680" y="784" width="8" height="8" fill="rgb(180,184,183)"/>
<rect x="688" y="784" width="8" height="8" fill="rgb(200,204,204)"/>
<rect x="696" y="784" width="8" height="8" fill="rgb(185,189,189)"/>
<rect x="704" y="784" width="8" height="8" fill="rgb(207,212,211)"/>
<rect x="88" y="792" width="8" height="8" fill="rgb(220,221,221)"/>
<rect x="96" y="792" width="8" height="8" fill="rgb(179,180,180)"/>
<rect x="104" y="792" width="8" height="8" fill="rgb(212,213,213)"/>
<rect x="112" y="792" width="8" height="8" fill="rgb(220,221,221)"/>
<rect x="120" y="792" width="8" height="8" fill="rgb(201,202,202)"/>
<rect x="128" y="792" width="8" height="8" fill="rgb(185,187,187)"/>
<rect x="144" y="792" width="8" height="8" fill="rgb(236,237,237)"/>
<rect x="152" y="792" width="8" height="8" fill="rgb(185,186,186)"/>
<rect x="160" y="792" width="8" height="8" fill="rgb(160,163,163)"/>
<rect x="168" y="792" width="8" height="8" fill="rgb(208,209,209)"/>
<rect x="176" y="792" width="8" height="8" fill="rgb(189,191,191)"/>
<rect x="184" y="792" width="8" height="8" fill="rgb(189,191,191)"/>
<rect x="200" y="792" width="8" height="8" fill="rgb(160,163,163)"/>
<rect x="208" y="792" width="8" height="8" fill="rgb(208,209,209)"/>
<rect x="216" y="792" width="8" height="8" fill="rgb(219,220,220)"/>
<rect x="224" y="792" width="8" height="8" fill="rgb(214,215,215)"/>
<rect x="232" y="792" width="8" height="8" fill="rgb(201,202,202)"/>
<rect x="240" y="792" width="8" height="8" fill="rgb(185,187,187)"/>
<rect x="640" y="792" width="8" height="8" fill="rgb(227,231,230)"/>
<rect x="648" y="792" width="8" height="8" fill="rgb(174,178,177)"/>
<rect x="656" y="792" width="8" height="8" fill="rgb(204,209,208)"/>
<rect x="664" y="792" width="8" height="8" fill="rgb(138,143,142)"/>
<rect x="672" y="792" width="8" height="8" fill="rgb(179,184,183)"/>
<rect x="680" y="792" width="8" height="8" fill="rgb(199,203,202)"/>
<rect x="688" y="792" width="8" height="8" fill="rgb(149,154,153)"/>
<rect x="696" y="792" width="8" height="8" fill="rgb(182,186,185)"/>
<rect x="704" y="792" width="8" height="8" fill="rgb(177,181,181)"/>
<rect x="88" y="800" width="8" height="8" fill="rgb(221,221,221)"/>
<rect x="96" y="800" width="8" height="8" fill="rgb(181,182,182)"/>
<rect x="104" y="800" width="8" height="8" fill="rgb(224,225,225)"/>
<rect x="112" y="800" width="8" height="8" fill="rgb(220,221,221)"/>
<rect x="120" y="800" width="8" height="8" fill="rgb(172,174,174)"/>
<rect x="128" y="800" width="8" height="8" fill="rgb(160,163,163)"/>
<rect x="144" y="800" width="8" height="8" fill="rgb(197,198,198)"/>
<rect x="152" y="800" width="8" height="8" fill="rgb(234,235,235)"/>
<rect x="160" y="800" width="8" height="8" fill="rgb(230,231,231)"/>
<rect x="168" y="800" width="8" height="8" fill="rgb(184,185,185)"/>
<rect x="176" y="800" width="8" height="8" fill="rgb(189,190,190)"/>
<rect x="184" y="800" width="8" height="8" fill="rgb(187,189,189)"/>
<rect x="200" y="800" width="8" height="8" fill="rgb(230,231,231)"/>
<rect x="208" y="800" width="8" height="8" fill="rgb(184,185,185)"/>
<rect x="216" y="800" width="8" height="8" fill="rgb(231,231,231)"/>
<rect x="224" y="800" width="8" height="8" fill="rgb(214,215,215)"/>
<rect x="232" y="800" width="8" height="8" fill="rgb(172,174,174)"/>
<rect x="240" y="800" width="8" height="8" fill="rgb(160,163,163)"/>
<rect x="640" y="800" width="8" height="8" fill="rgb(213,217,216)"/>
<rect x="648" y="800" width="8" height="8" fill="rgb(211,215,214)"/>
<rect x="656" y="800" width="8" height="8" fill="rgb(142,147,146)"/>
<rect x="664" y="800" width="8" height="8" fill="rgb(145,150,149)"/>
<rect x="672" y="800" width="8" height="8" fill="rgb(167,172,171)"/>
<rect x="680" y="800" width="8" height="8" fill="rgb(193,198,197)"/>
<rect x="688" y="800" width="8" height="8" fill="rgb(201,205,204)"/>
<rect x="696" y="800" width="8" height="8" fill="rgb(179,183,182)"/>
<rect x="704" y="800" width="8" height="8" fill="rgb(173,177,176)"/>
<rect x="88" y="808" width="8" height="8" fill="rgb(210,212,212)"/>
<rect x="96" y="808" width="8" height="8" fill="rgb(219,220,220)"/>
<rect x="104" y="808" width="8" height="8" fill="rgb(203,204,204)"/>
<rect x="112" y="808" width="8" height="8" fill="rgb(204,205,205)"/>
<rect x="128" y="808" width="8" height="8" fill="rgb(232,232,232)"/>
<rect x="144" y="808" width="8" height="8" fill="rgb(197,199,199)"/>
<rect x="152" y="808" width="8" height="8" fill="rgb(204,205,205)"/>
<rect x="160" y="808" width="8" height="8" fill="rgb(216,217,217)"/>
<rect x="168" y="808" width="8" height="8" fill="rgb(219,220,220)"/>
<rect x="176" y="808" width="8" height="8" fill="rgb(221,222,222)"/>
<rect x="184" y="808" width="8" height="8" fill="rgb(224,224,224)"/>
<rect x="200" y="808" width="8" height="8" fill="rgb(216,217,217)"/>
<rect x="208" y="808" width="8" height="8" fill="rgb(219,220,220)"/>
<rect x="216" y="808" width="8" height="8" fill="rgb(205,207,207)"/>
<rect x="224" y="808" width="8" height="8" fill="rgb(201,202,202)"/>
<rect x="240" y="808" width="8" height="8" fill="rgb(232,232,232)"/>
<rect x="640" y="808" width="8" height="8" fill="rgb(231,235,234)"/>
<rect x="648" y="808" width="8" height="8" fill="rgb(179,183,182)"/>
<rect x="656" y="808" width="8" height="8" fill="rgb(234,238,237)"/>
<rect x="664" y="808" width="8" height="8" fill="rgb(217,221,220)"/>
<rect x="672" y="808" width="8" height="8" fill="rgb(228,232,231)"/>
<rect x="680" y="808" width="8" height="8" fill="rgb(191,195,194)"/>
<rect x="688" y="808" width="8" height="8" fill="rgb(217,221,221)"/>
<rect x="696" y="808" width="8" height="8" fill="rgb(193,197,196)"/>
<rect x="704" y="808" width="8" height="8" fill="rgb(204,208,207)"/>
<rect x="712" y="808" width="8" height="8" fill="rgb(180,184,184)"/>
<rect x="88" y="832" width="8" height="8" fill="rgb(229,229,229)"/>
<rect x="96" y="832" width="8" height="8" fill="rgb(234,235,235)"/>
<rect x="104" y="832" width="8" height="8" fill="rgb(241,241,241)"/>
<rect x="112" y="832" width="8" height="8" fill="rgb(246,247,247)"/>
<rect x="128" y="832" width="8" height="8" fill="rgb(234,235,235)"/>
<rect x="144" y="832" width="8" height="8" fill="rgb(233,234,234)"/>
<rect x="152" y="832" width="8" height="8" fill="rgb(234,235,235)"/>
<rect x="160" y="832" width="8" height="8" fill="rgb(218,219,219)"/>
<rect x="168" y="832" width="8" height="8" fill="rgb(220,221,221)"/>
<rect x="176" y="832" width="8" height="8" fill="rgb(233,234,234)"/>
<rect x="184" y="832" width="8" height="8" fill="rgb(236,237,237)"/>
<rect x="200" y="832" width="8" height="8" fill="rgb(218,219,219)"/>
<rect x="208" y="832" width="8" height="8" fill="rgb(220,221,221)"/>
<rect x="216" y="832" width="8" height="8" fill="rgb(233,234,234)"/>
<rect x="224" y="832" width="8" height="8" fill="rgb(236,237,237)"/>
<rect x="240" y="832" width="8" height="8" fill="rgb(234,235,235)"/>
<rect x="640" y="832" width="8" height="8" fill="rgb(228,232,231)"/>
<rect x="648" y="832" width="8" height="8" fill="rgb(192,196,195)"/>
<rect x="656" y="832" width="8" height="8" fill="rgb(231,235,234)"/>
<rect x="664" y="832" width="8" height="8" fill="rgb(220,224,223)"/>
<rect x="672" y="832" width="8" height="8" fill="rgb(233,237,236)"/>
<rect x="680" y="832" width="8" height="8" fill="rgb(207,211,211)"/>
<rect x="688" y="832" width="8" height="8" fill="rgb(216,221,220)"/>
<rect x="696" y="832" width="8" height="8" fill="rgb(196,200,200)"/>
<rect x="704" y="832" width="8" height="8" fill="rgb(223,227,226)"/>
<rect x="920" y="832" width="8" height="8" fill="rgb(202,206,205)"/>
<rect x="928" y="832" width="8" height="8" fill="rgb(207,211,210)"/>
<rect x="936" y="832" width="8" height="8" fill="rgb(204,208,208)"/>
<rect x="944" y="832" width="8" height="8" fill="rgb(204,208,207)"/>
<rect x="952" y="832" width="8" height="8" fill="rgb(222,226,225)"/>
<rect x="960" y="832" width="8" height="8" fill="rgb(216,220,219)"/>
<rect x="968" y="832" width="8" height="8" fill="rgb(210,214,213)"/>
<rect x="976" y="832" width="8" height="8" fill="rgb(198,202,202)"/>
<rect x="1168" y="832" width="8" height="8" fill="rgb(204,208,207)"/>
<rect x="1176" y="832" width="8" height="8" fill="rgb(207,211,211)"/>
<rect x="1184" y="832" width="8" height="8" fill="rgb(204,208,207)"/>
<rect x="1192" y="832" width="8" height="8" fill="rgb(207,211,211)"/>
<rect x="1200" y="832" width="8" height="8" fill="rgb(216,220,220)"/>
<rect x="1208" y="832" width="8" height="8" fill="rgb(223,227,226)"/>
<rect x="1216" y="832" width="8" height="8" fill="rgb(201,205,204)"/>
<rect x="1224" y="832" width="8" height="8" fill="rgb(210,214,213)"/>
<rect x="1232" y="832" width="8" height="8" fill="rgb(222,227,226)"/>
<rect x="1424" y="832" width="8" height="8" fill="rgb(222,226,225)"/>
<rect x="1432" y="832" width="8" height="8" fill="rgb(192,196,195)"/>
<rect x="1440" y="832" width="8" height="8" fill="rgb(227,231,230)"/>
<rect x="1448" y="832" width="8" height="8" fill="rgb(206,210,209)"/>
<rect x="1456" y="832" width="8" height="8" fill="rgb(235,239,238)"/>
<rect x="1464" y="832" width="8" height="8" fill="rgb(220,224,223)"/>
<rect x="1472" y="832" width="8" height="8" fill="rgb(225,230,229)"/>
<rect x="1480" y="832" width="8" height="8" fill="rgb(213,217,216)"/>
<rect x="1488" y="832" width="8" height="8" fill="rgb(217,221,220)"/>
<rect x="1504" y="832" width="8" height="8" fill="rgb(224,228,228)"/>
<rect x="88" y="840" width="8" height="8" fill="rgb(210,211,211)"/>
<rect x="96" y="840" width="8" height="8" fill="rgb(175,176,176)"/>
<rect x="104" y="840" width="8" height="8" fill="rgb(193,194,194)"/>
<rect x="112" y="840" width="8" height="8" fill="rgb(220,221,221)"/>
<rect x="120" y="840" width="8" height="8" fill="rgb(215,215,215)"/>
<rect x="128" y="840" width="8" height="8" fill="rgb(175,176,176)"/>
<rect x="144" y="840" width="8" height="8" fill="rgb(211,212,212)"/>
<rect x="152" y="840" width="8" height="8" fill="rgb(178,180,180)"/>
<rect x="160" y="840" width="8" height="8" fill="rgb(166,168,168)"/>
<rect x="168" y="840" width="8" height="8" fill="rgb(224,225,225)"/>
<rect x="176" y="840" width="8" height="8" fill="rgb(181,183,183)"/>
<rect x="184" y="840" width="8" height="8" fill="rgb(182,184,184)"/>
<rect x="200" y="840" width="8" height="8" fill="rgb(166,168,168)"/>
<rect x="208" y="840" width="8" height="8" fill="rgb(224,225,225)"/>
<rect x="216" y="840" width="8" height="8" fill="rgb(181,183,183)"/>
<rect x="224" y="840" width="8" height="8" fill="rgb(182,184,184)"/>
<rect x="232" y="840" width="8" height="8" fill="rgb(215,215,215)"/>
<rect x="240" y="840" width="8" height="8" fill="rgb(175,176,176)"/>
<rect x="640" y="840" width="8" height="8" fill="rgb(192,196,195)"/>
<rect x="648" y="840" width="8" height="8" fill="rgb(181,185,185)"/>
<rect x="656" y="840" width="8" height="8" fill="rgb(233,237,236)"/>
<rect x="664" y="840" width="8" height="8" fill="rgb(133,137,137)"/>
<rect x="672" y="840" width="8" height="8" fill="rgb(180,184,183)"/>
<rect x="680" y="840" width="8" height="8" fill="rgb(180,184,183)"/>
<rect x="688" y="840" width="8" height="8" fill="rgb(161,165,164)"/>
<rect x="696" y="840" width="8" height="8" fill="rgb(197,202,201)"/>
<rect x="704" y="840" width="8" height="8" fill="rgb(177,181,181)"/>
<rect x="920" y="840" width="8" height="8" fill="rgb(152,157,156)"/>
<rect x="928" y="840" width="8" height="8" fill="rgb(211,215,214)"/>
<rect x="936" y="840" width="8" height="8" fill="rgb(156,160,160)"/>
<rect x="944" y="840" width="8" height="8" fill="rgb(208,212,211)"/>
<rect x="952" y="840" width="8" height="8" fill="rgb(169,174,173)"/>
<rect x="960" y="840" width="8" height="8" fill="rgb(168,172,172)"/>
<rect x="968" y="840" width="8" height="8" fill="rgb(163,168,167)"/>
<rect x="976" y="840" width="8" height="8" fill="rgb(200,204,204)"/>
<rect x="1168" y="840" width="8" height="8" fill="rgb(157,161,161)"/>
<rect x="1176" y="840" width="8" height="8" fill="rgb(211,215,215)"/>
<rect x="1184" y="840" width="8" height="8" fill="rgb(157,161,161)"/>
<rect x="1192" y="840" width="8" height="8" fill="rgb(211,215,215)"/>
<rect x="1200" y="840" width="8" height="8" fill="rgb(170,175,174)"/>
<rect x="1208" y="840" width="8" height="8" fill="rgb(173,177,177)"/>
<rect x="1216" y="840" width="8" height="8" fill="rgb(153,158,157)"/>
<rect x="1224" y="840" width="8" height="8" fill="rgb(215,219,218)"/>
<rect x="1232" y="840" width="8" height="8" fill="rgb(176,180,179)"/>
<rect x="1424" y="840" width="8" height="8" fill="rgb(179,184,183)"/>
<rect x="1432" y="840" width="8" height="8" fill="rgb(192,196,195)"/>
<rect x="1440" y="840" width="8" height="8" fill="rgb(207,211,210)"/>
<rect x="1448" y="840" width="8" height="8" fill="rgb(159,163,162)"/>
<rect x="1456" y="840" width="8" height="8" fill="rgb(212,216,215)"/>
<rect x="1464" y="840" width="8" height="8" fill="rgb(177,181,180)"/>
<rect x="1472" y="840" width="8" height="8" fill="rgb(201,205,204)"/>
<rect x="1480" y="840" width="8" height="8" fill="rgb(168,172,171)"/>
<rect x="1488" y="840" width="8" height="8" fill="rgb(153,158,157)"/>
<rect x="1496" y="840" width="8" height="8" fill="rgb(207,211,210)"/>
<rect x="1504" y="840" width="8" height="8" fill="rgb(184,188,187)"/>
<rect x="88" y="848" width="8" height="8" fill="rgb(225,226,226)"/>
<rect x="96" y="848" width="8" height="8" fill="rgb(179,181,181)"/>
<rect x="104" y="848" width="8" height="8" fill="rgb(224,225,225)"/>
<rect x="112" y="848" width="8" height="8" fill="rgb(220,221,221)"/>
<rect x="120" y="848" width="8" height="8" fill="rgb(157,159,159)"/>
<rect x="128" y="848" width="8" height="8" fill="rgb(160,163,163)"/>
<rect x="144" y="848" width="8" height="8" fill="rgb(214,215,215)"/>
<rect x="152" y="848" width="8" height="8" fill="rgb(216,217,217)"/>
<rect x="160" y="848" width="8" height="8" fill="rgb(222,223,223)"/>
<rect x="168" y="848" width="8" height="8" fill="rgb(177,179,179)"/>
<rect x="176" y="848" width="8" height="8" fill="rgb(190,191,191)"/>
<rect x="184" y="848" width="8" height="8" fill="rgb(189,191,191)"/>
<rect x="200" y="848" width="8" height="8" fill="rgb(222,223,223)"/>
<rect x="208" y="848" width="8" height="8" fill="rgb(177,179,179)"/>
<rect x="216" y="848" width="8" height="8" fill="rgb(190,191,191)"/>
<rect x="224" y="848" width="8" height="8" fill="rgb(189,190,190)"/>
<rect x="232" y="848" width="8" height="8" fill="rgb(157,159,159)"/>
<rect x="240" y="848" width="8" height="8" fill="rgb(160,163,163)"/>
<rect x="640" y="848" width="8" height="8" fill="rgb(220,224,223)"/>
<rect x="648" y="848" width="8" height="8" fill="rgb(203,207,206)"/>
<rect x="656" y="848" width="8" height="8" fill="rgb(133,137,137)"/>
<rect x="664" y="848" width="8" height="8" fill="rgb(140,144,144)"/>
<rect x="672" y="848" width="8" height="8" fill="rgb(168,172,171)"/>
<rect x="680" y="848" width="8" height="8" fill="rgb(201,205,204)"/>
<rect x="688" y="848" width="8" height="8" fill="rgb(191,195,194)"/>
<rect x="696" y="848" width="8" height="8" fill="rgb(169,174,173)"/>
<rect x="704" y="848" width="8" height="8" fill="rgb(173,177,177)"/>
<rect x="920" y="848" width="8" height="8" fill="rgb(206,210,210)"/>
<rect x="928" y="848" width="8" height="8" fill="rgb(164,169,168)"/>
<rect x="936" y="848" width="8" height="8" fill="rgb(207,211,210)"/>
<rect x="944" y="848" width="8" height="8" fill="rgb(163,168,167)"/>
<rect x="952" y="848" width="8" height="8" fill="rgb(176,180,179)"/>
<rect x="960" y="848" width="8" height="8" fill="rgb(176,180,179)"/>
<rect x="968" y="848" width="8" height="8" fill="rgb(209,213,212)"/>
<rect x="976" y="848" width="8" height="8" fill="rgb(163,168,167)"/>
<rect x="1168" y="848" width="8" height="8" fill="rgb(208,212,211)"/>
<rect x="1176" y="848" width="8" height="8" fill="rgb(167,172,171)"/>
<rect x="1184" y="848" width="8" height="8" fill="rgb(208,212,211)"/>
<rect x="1192" y="848" width="8" height="8" fill="rgb(167,172,171)"/>
<rect x="1200" y="848" width="8" height="8" fill="rgb(179,183,182)"/>
<rect x="1208" y="848" width="8" height="8" fill="rgb(178,182,182)"/>
<rect x="1216" y="848" width="8" height="8" fill="rgb(207,211,210)"/>
<rect x="1224" y="848" width="8" height="8" fill="rgb(168,173,172)"/>
<rect x="1232" y="848" width="8" height="8" fill="rgb(176,180,179)"/>
<rect x="1424" y="848" width="8" height="8" fill="rgb(215,219,219)"/>
<rect x="1432" y="848" width="8" height="8" fill="rgb(185,190,189)"/>
<rect x="1440" y="848" width="8" height="8" fill="rgb(201,205,205)"/>
<rect x="1448" y="848" width="8" height="8" fill="rgb(163,168,167)"/>
<rect x="1456" y="848" width="8" height="8" fill="rgb(232,236,235)"/>
<rect x="1464" y="848" width="8" height="8" fill="rgb(179,184,183)"/>
<rect x="1472" y="848" width="8" height="8" fill="rgb(213,217,216)"/>
<rect x="1480" y="848" width="8" height="8" fill="rgb(192,196,195)"/>
<rect x="1488" y="848" width="8" height="8" fill="rgb(184,188,187)"/>
<rect x="1496" y="848" width="8" height="8" fill="rgb(174,178,177)"/>
<rect x="1504" y="848" width="8" height="8" fill="rgb(184,188,187)"/>
<rect x="88" y="856" width="8" height="8" fill="rgb(190,191,191)"/>
<rect x="96" y="856" width="8" height="8" fill="rgb(200,201,201)"/>
<rect x="104" y="856" width="8" height="8" fill="rgb(196,197,197)"/>
<rect x="112" y="856" width="8" height="8" fill="rgb(195,196,196)"/>
<rect x="128" y="856" width="8" height="8" fill="rgb(216,217,217)"/>
<rect x="144" y="856" width="8" height="8" fill="rgb(180,182,182)"/>
<rect x="152" y="856" width="8" height="8" fill="rgb(204,205,205)"/>
<rect x="160" y="856" width="8" height="8" fill="rgb(197,198,198)"/>
<rect x="168" y="856" width="8" height="8" fill="rgb(200,201,201)"/>
<rect x="176" y="856" width="8" height="8" fill="rgb(204,205,205)"/>
<rect x="184" y="856" width="8" height="8" fill="rgb(205,206,206)"/>
<rect x="200" y="856" width="8" height="8" fill="rgb(197,198,198)"/>
<rect x="208" y="856" width="8" height="8" fill="rgb(200,201,201)"/>
<rect x="216" y="856" width="8" height="8" fill="rgb(204,205,205)"/>
<rect x="224" y="856" width="8" height="8" fill="rgb(205,206,206)"/>
<rect x="240" y="856" width="8" height="8" fill="rgb(216,217,217)"/>
<rect x="640" y="856" width="8" height="8" fill="rgb(217,221,220)"/>
<rect x="648" y="856" width="8" height="8" fill="rgb(171,176,175)"/>
<rect x="656" y="856" width="8" height="8" fill="rgb(226,230,229)"/>
<rect x="664" y="856" width="8" height="8" fill="rgb(203,207,206)"/>
<rect x="672" y="856" width="8" height="8" fill="rgb(213,217,216)"/>
<rect x="680" y="856" width="8" height="8" fill="rgb(175,179,178)"/>
<rect x="688" y="856" width="8" height="8" fill="rgb(200,204,203)"/>
<rect x="696" y="856" width="8" height="8" fill="rgb(176,180,179)"/>
<rect x="704" y="856" width="8" height="8" fill="rgb(188,192,192)"/>
<rect x="712" y="856" width="8" height="8" fill="rgb(180,184,184)"/>
<rect x="920" y="856" width="8" height="8" fill="rgb(181,186,185)"/>
<rect x="928" y="856" width="8" height="8" fill="rgb(188,192,191)"/>
<rect x="936" y="856" width="8" height="8" fill="rgb(185,189,188)"/>
<rect x="944" y="856" width="8" height="8" fill="rgb(184,188,188)"/>
<rect x="952" y="856" width="8" height="8" fill="rgb(195,199,198)"/>
<rect x="960" y="856" width="8" height="8" fill="rgb(185,190,189)"/>
<rect x="968" y="856" width="8" height="8" fill="rgb(192,196,196)"/>
<rect x="976" y="856" width="8" height="8" fill="rgb(177,181,181)"/>
<rect x="1168" y="856" width="8" height="8" fill="rgb(185,189,188)"/>
<rect x="1176" y="856" width="8" height="8" fill="rgb(189,193,192)"/>
<rect x="1184" y="856" width="8" height="8" fill="rgb(185,189,188)"/>
<rect x="1192" y="856" width="8" height="8" fill="rgb(189,193,192)"/>
<rect x="1200" y="856" width="8" height="8" fill="rgb(189,193,192)"/>
<rect x="1208" y="856" width="8" height="8" fill="rgb(195,200,199)"/>
<rect x="1216" y="856" width="8" height="8" fill="rgb(181,185,185)"/>
<rect x="1224" y="856" width="8" height="8" fill="rgb(192,197,196)"/>
<rect x="1232" y="856" width="8" height="8" fill="rgb(170,174,174)"/>
<rect x="1240" y="856" width="8" height="8" fill="rgb(194,199,198)"/>
<rect x="1424" y="856" width="8" height="8" fill="rgb(208,212,211)"/>
<rect x="1432" y="856" width="8" height="8" fill="rgb(172,176,175)"/>
<rect x="1440" y="856" width="8" height="8" fill="rgb(195,200,199)"/>
<rect x="1448" y="856" width="8" height="8" fill="rgb(171,175,174)"/>
<rect x="1456" y="856" width="8" height="8" fill="rgb(207,211,210)"/>
<rect x="1464" y="856" width="8" height="8" fill="rgb(162,167,166)"/>
<rect x="1472" y="856" width="8" height="8" fill="rgb(179,184,183)"/>
<rect x="1480" y="856" width="8" height="8" fill="rgb(184,188,188)"/>
<rect x="1488" y="856" width="8" height="8" fill="rgb(204,208,207)"/>
<rect x="1496" y="856" width="8" height="8" fill="rgb(212,216,215)"/>
<rect x="1504" y="856" width="8" height="8" fill="rgb(201,205,204)"/>
<rect x="88" y="888" width="8" height="8" fill="rgb(189,190,190)"/>
<rect x="96" y="888" width="8" height="8" fill="rgb(175,177,177)"/>
<rect x="104" y="888" width="8" height="8" fill="rgb(186,187,187)"/>
<rect x="112" y="888" width="8" height="8" fill="rgb(220,221,221)"/>
<rect x="120" y="888" width="8" height="8" fill="rgb(230,231,231)"/>
<rect x="128" y="888" width="8" height="8" fill="rgb(169,171,171)"/>
<rect x="144" y="888" width="8" height="8" fill="rgb(189,190,190)"/>
<rect x="152" y="888" width="8" height="8" fill="rgb(175,177,177)"/>
<rect x="160" y="888" width="8" height="8" fill="rgb(165,167,167)"/>
<rect x="168" y="888" width="8" height="8" fill="rgb(211,212,212)"/>
<rect x="176" y="888" width="8" height="8" fill="rgb(176,178,178)"/>
<rect x="184" y="888" width="8" height="8" fill="rgb(180,182,182)"/>
<rect x="200" y="888" width="8" height="8" fill="rgb(230,231,231)"/>
<rect x="208" y="888" width="8" height="8" fill="rgb(169,171,171)"/>
<rect x="216" y="888" width="8" height="8" fill="rgb(173,175,175)"/>
<rect x="224" y="888" width="8" height="8" fill="rgb(180,182,182)"/>
<rect x="232" y="888" width="8" height="8" fill="rgb(230,231,231)"/>
<rect x="240" y="888" width="8" height="8" fill="rgb(169,171,171)"/>
<rect x="512" y="888" width="8" height="8" fill="rgb(165,167,167)"/>
<rect x="520" y="888" width="8" height="8" fill="rgb(190,192,192)"/>
<rect x="528" y="888" width="8" height="8" fill="rgb(212,213,213)"/>
<rect x="536" y="888" width="8" height="8" fill="rgb(186,188,188)"/>
<rect x="544" y="888" width="8" height="8" fill="rgb(166,168,168)"/>
<rect x="552" y="888" width="8" height="8" fill="rgb(194,196,196)"/>
<rect x="560" y="888" width="8" height="8" fill="rgb(153,156,156)"/>
<rect x="568" y="888" width="8" height="8" fill="rgb(224,225,225)"/>
<rect x="576" y="888" width="8" height="8" fill="rgb(187,189,189)"/>
<rect x="1040" y="888" width="8" height="8" fill="rgb(170,172,172)"/>
<rect x="1048" y="888" width="8" height="8" fill="rgb(192,194,194)"/>
<rect x="1056" y="888" width="8" height="8" fill="rgb(155,158,158)"/>
<rect x="1064" y="888" width="8" height="8" fill="rgb(215,216,216)"/>
<rect x="1072" y="888" width="8" height="8" fill="rgb(168,170,170)"/>
<rect x="1080" y="888" width="8" height="8" fill="rgb(170,172,172)"/>
<rect x="1088" y="888" width="8" height="8" fill="rgb(181,182,182)"/>
<rect x="1096" y="888" width="8" height="8" fill="rgb(185,187,187)"/>
<rect x="1104" y="888" width="8" height="8" fill="rgb(251,251,251)"/>
<rect x="88" y="896" width="8" height="8" fill="rgb(234,234,234)"/>
<rect x="96" y="896" width="8" height="8" fill="rgb(175,177,177)"/>
<rect x="104" y="896" width="8" height="8" fill="rgb(224,225,225)"/>
<rect x="112" y="896" width="8" height="8" fill="rgb(220,221,221)"/>
<rect x="120" y="896" width="8" height="8" fill="rgb(189,190,190)"/>
<rect x="128" y="896" width="8" height="8" fill="rgb(189,191,191)"/>
<rect x="144" y="896" width="8" height="8" fill="rgb(233,234,234)"/>
<rect x="152" y="896" width="8" height="8" fill="rgb(198,200,200)"/>
<rect x="160" y="896" width="8" height="8" fill="rgb(192,194,194)"/>
<rect x="168" y="896" width="8" height="8" fill="rgb(173,175,175)"/>
<rect x="176" y="896" width="8" height="8" fill="rgb(189,191,191)"/>
<rect x="184" y="896" width="8" height="8" fill="rgb(189,191,191)"/>
<rect x="200" y="896" width="8" height="8" fill="rgb(189,190,190)"/>
<rect x="208" y="896" width="8" height="8" fill="rgb(189,191,191)"/>
<rect x="216" y="896" width="8" height="8" fill="rgb(179,181,181)"/>
<rect x="224" y="896" width="8" height="8" fill="rgb(160,162,162)"/>
<rect x="232" y="896" width="8" height="8" fill="rgb(189,190,190)"/>
<rect x="240" y="896" width="8" height="8" fill="rgb(189,191,191)"/>
<rect x="512" y="896" width="8" height="8" fill="rgb(173,175,175)"/>
<rect x="520" y="896" width="8" height="8" fill="rgb(166,168,168)"/>
<rect x="528" y="896" width="8" height="8" fill="rgb(191,192,192)"/>
<rect x="536" y="896" width="8" height="8" fill="rgb(179,181,181)"/>
<rect x="544" y="896" width="8" height="8" fill="rgb(203,204,204)"/>
<rect x="552" y="896" width="8" height="8" fill="rgb(189,190,190)"/>
<rect x="560" y="896" width="8" height="8" fill="rgb(181,182,182)"/>
<rect x="568" y="896" width="8" height="8" fill="rgb(186,188,188)"/>
<rect x="576" y="896" width="8" height="8" fill="rgb(187,189,189)"/>
<rect x="1040" y="896" width="8" height="8" fill="rgb(177,179,179)"/>
<rect x="1048" y="896" width="8" height="8" fill="rgb(171,173,173)"/>
<rect x="1056" y="896" width="8" height="8" fill="rgb(181,183,183)"/>
<rect x="1064" y="896" width="8" height="8" fill="rgb(155,157,157)"/>
<rect x="1072" y="896" width="8" height="8" fill="rgb(233,233,233)"/>
<rect x="1080" y="896" width="8" height="8" fill="rgb(168,170,170)"/>
<rect x="1088" y="896" width="8" height="8" fill="rgb(178,180,180)"/>
<rect x="1096" y="896" width="8" height="8" fill="rgb(159,162,162)"/>
<rect x="1104" y="896" width="8" height="8" fill="rgb(251,251,251)"/>
<rect x="88" y="904" width="8" height="8" fill="rgb(176,178,178)"/>
<rect x="96" y="904" width="8" height="8" fill="rgb(182,184,184)"/>
<rect x="104" y="904" width="8" height="8" fill="rgb(188,189,189)"/>
<rect x="112" y="904" width="8" height="8" fill="rgb(186,188,188)"/>
<rect x="120" y="904" width="8" height="8" fill="rgb(207,209,209)"/>
<rect x="128" y="904" width="8" height="8" fill="rgb(172,174,174)"/>
<rect x="144" y="904" width="8" height="8" fill="rgb(160,163,163)"/>
<rect x="152" y="904" width="8" height="8" fill="rgb(204,205,205)"/>
<rect x="160" y="904" width="8" height="8" fill="rgb(191,193,193)"/>
<rect x="168" y="904" width="8" height="8" fill="rgb(183,184,184)"/>
<rect x="176" y="904" width="8" height="8" fill="rgb(188,189,189)"/>
<rect x="184" y="904" width="8" height="8" fill="rgb(188,190,190)"/>
<rect x="200" y="904" width="8" height="8" fill="rgb(207,209,209)"/>
<rect x="208" y="904" width="8" height="8" fill="rgb(172,174,174)"/>
<rect x="216" y="904" width="8" height="8" fill="rgb(196,197,197)"/>
<rect x="224" y="904" width="8" height="8" fill="rgb(191,193,193)"/>
<rect x="232" y="904" width="8" height="8" fill="rgb(207,209,209)"/>
<rect x="240" y="904" width="8" height="8" fill="rgb(172,174,174)"/>
<rect x="512" y="904" width="8" height="8" fill="rgb(187,189,189)"/>
<rect x="520" y="904" width="8" height="8" fill="rgb(196,197,197)"/>
<rect x="528" y="904" width="8" height="8" fill="rgb(204,206,206)"/>
<rect x="536" y="904" width="8" height="8" fill="rgb(181,183,183)"/>
<rect x="544" y="904" width="8" height="8" fill="rgb(176,178,178)"/>
<rect x="552" y="904" width="8" height="8" fill="rgb(200,202,202)"/>
<rect x="560" y="904" width="8" height="8" fill="rgb(181,183,183)"/>
<rect x="568" y="904" width="8" height="8" fill="rgb(196,198,198)"/>
<rect x="576" y="904" width="8" height="8" fill="rgb(156,159,159)"/>
<rect x="584" y="904" width="8" height="8" fill="rgb(215,216,216)"/>
<rect x="1040" y="904" width="8" height="8" fill="rgb(192,193,193)"/>
<rect x="1048" y="904" width="8" height="8" fill="rgb(201,203,203)"/>
<rect x="1056" y="904" width="8" height="8" fill="rgb(181,183,183)"/>
<rect x="1064" y="904" width="8" height="8" fill="rgb(194,195,195)"/>
<rect x="1072" y="904" width="8" height="8" fill="rgb(176,178,178)"/>
<rect x="1080" y="904" width="8" height="8" fill="rgb(196,197,197)"/>
<rect x="1088" y="904" width="8" height="8" fill="rgb(179,180,180)"/>
<rect x="1096" y="904" width="8" height="8" fill="rgb(175,177,177)"/>
<rect x="1104" y="904" width="8" height="8" fill="rgb(189,191,191)"/>
<rect x="1112" y="904" width="8" height="8" fill="rgb(244,244,244)"/>
<line x1="76" y1="21.5" x2="2046" y2="21.5" stroke="#a9acab" stroke-width="2" stroke-dasharray="1.7 2.43"/>
<rect x="76" y="270.00" width="1970" height="2" fill="#a3a9a9"/>
<line x1="76" y1="321" x2="2046" y2="321" stroke="#a9acab" stroke-width="2" stroke-dasharray="1.7 2.43"/>
<rect x="76" y="370.00" width="1970" height="2" fill="#a3acab"/>
<rect x="76" y="469.60" width="1970" height="3.2" fill="#a4b3b1"/>
<rect x="76" y="519.30" width="1970" height="3.4" fill="#a4b3b1"/>
<line x1="76" y1="571" x2="2046" y2="571" stroke="#a9acab" stroke-width="2" stroke-dasharray="1.7 2.43"/>
<line x1="76" y1="621" x2="2046" y2="621" stroke="#a9acab" stroke-width="2" stroke-dasharray="1.7 2.43"/>
<line x1="76" y1="671" x2="2046" y2="671" stroke="#a9acab" stroke-width="2" stroke-dasharray="1.7 2.43"/>
<line x1="76" y1="721" x2="2046" y2="721" stroke="#a9acab" stroke-width="2" stroke-dasharray="1.7 2.43"/>
<line x1="76" y1="771" x2="2046" y2="771" stroke="#a9acab" stroke-width="2" stroke-dasharray="1.7 2.43"/>
<line x1="76" y1="821" x2="2046" y2="821" stroke="#a9acab" stroke-width="2" stroke-dasharray="1.7 2.43"/>
<line x1="76" y1="871" x2="2046" y2="871" stroke="#a9acab" stroke-width="2" stroke-dasharray="1.7 2.43"/>
<rect x="76" y="919.70" width="1970" height="2.6" fill="#a6b1af"/>
<rect x="76" y="1019.40" width="1970" height="3.2" fill="#a6b3b1"/>
<rect x="469" y="21" width="2" height="1000" fill="#a0a6a6"/>
<line x1="190.5" y1="80" x2="190.5" y2="318" stroke="#e3e5e5" stroke-width="1.6" stroke-dasharray="7 9"/>
<line x1="202" y1="80" x2="202" y2="318" stroke="#e3e5e5" stroke-width="1.6" stroke-dasharray="7 9"/>
<line x1="319.5" y1="80" x2="319.5" y2="318" stroke="#e3e5e5" stroke-width="1.6" stroke-dasharray="7 9"/>
<line x1="336.5" y1="80" x2="336.5" y2="318" stroke="#e3e5e5" stroke-width="1.6" stroke-dasharray="7 9"/>
<line x1="454.5" y1="80" x2="454.5" y2="318" stroke="#e3e5e5" stroke-width="1.6" stroke-dasharray="7 9"/>
<line x1="465.5" y1="80" x2="465.5" y2="318" stroke="#e3e5e5" stroke-width="1.6" stroke-dasharray="7 9"/>
<line x1="62" y1="80" x2="62" y2="318" stroke="#97a9aa" stroke-width="1.6" stroke-dasharray="7 9"/>
<line x1="72.5" y1="80" x2="72.5" y2="318" stroke="#97a9aa" stroke-width="1.6" stroke-dasharray="7 9"/>
<line x1="572.8" y1="226" x2="572.8" y2="462" stroke="#e3e5e5" stroke-width="1.6" stroke-dasharray="7 9"/>
<line x1="586.3" y1="226" x2="586.3" y2="462" stroke="#e3e5e5" stroke-width="1.6" stroke-dasharray="7 9"/>
<line x1="594.3" y1="64" x2="594.3" y2="462" stroke="#e8eaea" stroke-width="1.6" stroke-dasharray="7 9"/>
<line x1="703.92" y1="226" x2="703.92" y2="462" stroke="#e3e5e5" stroke-width="1.6" stroke-dasharray="7 9"/>
<line x1="717.42" y1="226" x2="717.42" y2="462" stroke="#e3e5e5" stroke-width="1.6" stroke-dasharray="7 9"/>
<line x1="725.42" y1="64" x2="725.42" y2="462" stroke="#e8eaea" stroke-width="1.6" stroke-dasharray="7 9"/>
<line x1="835.04" y1="226" x2="835.04" y2="462" stroke="#e3e5e5" stroke-width="1.6" stroke-dasharray="7 9"/>
<line x1="848.54" y1="226" x2="848.54" y2="462" stroke="#e3e5e5" stroke-width="1.6" stroke-dasharray="7 9"/>
<line x1="856.54" y1="64" x2="856.54" y2="462" stroke="#e8eaea" stroke-width="1.6" stroke-dasharray="7 9"/>
<line x1="966.16" y1="226" x2="966.16" y2="462" stroke="#e3e5e5" stroke-width="1.6" stroke-dasharray="7 9"/>
<line x1="979.66" y1="226" x2="979.66" y2="462" stroke="#e3e5e5" stroke-width="1.6" stroke-dasharray="7 9"/>
<line x1="987.66" y1="64" x2="987.66" y2="462" stroke="#e8eaea" stroke-width="1.6" stroke-dasharray="7 9"/>
<line x1="1097.28" y1="226" x2="1097.28" y2="462" stroke="#e3e5e5" stroke-width="1.6" stroke-dasharray="7 9"/>
<line x1="1110.78" y1="226" x2="1110.78" y2="462" stroke="#e3e5e5" stroke-width="1.6" stroke-dasharray="7 9"/>
<line x1="1118.78" y1="64" x2="1118.78" y2="462" stroke="#e8eaea" stroke-width="1.6" stroke-dasharray="7 9"/>
<line x1="1228.4" y1="226" x2="1228.4" y2="462" stroke="#e3e5e5" stroke-width="1.6" stroke-dasharray="7 9"/>
<line x1="1241.9" y1="226" x2="1241.9" y2="462" stroke="#e3e5e5" stroke-width="1.6" stroke-dasharray="7 9"/>
<line x1="1249.9" y1="64" x2="1249.9" y2="462" stroke="#e8eaea" stroke-width="1.6" stroke-dasharray="7 9"/>
<line x1="1359.52" y1="226" x2="1359.52" y2="462" stroke="#e3e5e5" stroke-width="1.6" stroke-dasharray="7 9"/>
<line x1="1373.02" y1="226" x2="1373.02" y2="462" stroke="#e3e5e5" stroke-width="1.6" stroke-dasharray="7 9"/>
<line x1="1381.02" y1="64" x2="1381.02" y2="462" stroke="#e8eaea" stroke-width="1.6" stroke-dasharray="7 9"/>
<line x1="1490.6399999999999" y1="226" x2="1490.6399999999999" y2="462" stroke="#e3e5e5" stroke-width="1.6" stroke-dasharray="7 9"/>
<line x1="1504.1399999999999" y1="226" x2="1504.1399999999999" y2="462" stroke="#e3e5e5" stroke-width="1.6" stroke-dasharray="7 9"/>
<line x1="1512.1399999999999" y1="64" x2="1512.1399999999999" y2="462" stroke="#e8eaea" stroke-width="1.6" stroke-dasharray="7 9"/>
<line x1="1621.76" y1="226" x2="1621.76" y2="462" stroke="#e3e5e5" stroke-width="1.6" stroke-dasharray="7 9"/>
<line x1="1635.26" y1="226" x2="1635.26" y2="462" stroke="#e3e5e5" stroke-width="1.6" stroke-dasharray="7 9"/>
<line x1="1643.26" y1="64" x2="1643.26" y2="462" stroke="#e8eaea" stroke-width="1.6" stroke-dasharray="7 9"/>
<line x1="1752.8799999999999" y1="226" x2="1752.8799999999999" y2="462" stroke="#e3e5e5" stroke-width="1.6" stroke-dasharray="7 9"/>
<line x1="1766.3799999999999" y1="226" x2="1766.3799999999999" y2="462" stroke="#e3e5e5" stroke-width="1.6" stroke-dasharray="7 9"/>
<line x1="1774.3799999999999" y1="64" x2="1774.3799999999999" y2="462" stroke="#e8eaea" stroke-width="1.6" stroke-dasharray="7 9"/>
<line x1="1884.0" y1="226" x2="1884.0" y2="462" stroke="#e3e5e5" stroke-width="1.6" stroke-dasharray="7 9"/>
<line x1="1897.5" y1="226" x2="1897.5" y2="462" stroke="#e3e5e5" stroke-width="1.6" stroke-dasharray="7 9"/>
<line x1="1905.5" y1="64" x2="1905.5" y2="462" stroke="#e8eaea" stroke-width="1.6" stroke-dasharray="7 9"/>
<line x1="2015.1200000000001" y1="226" x2="2015.1200000000001" y2="462" stroke="#e3e5e5" stroke-width="1.6" stroke-dasharray="7 9"/>
<line x1="2028.6200000000001" y1="226" x2="2028.6200000000001" y2="462" stroke="#e3e5e5" stroke-width="1.6" stroke-dasharray="7 9"/>
<line x1="2036.6200000000001" y1="64" x2="2036.6200000000001" y2="462" stroke="#e8eaea" stroke-width="1.6" stroke-dasharray="7 9"/>
<path d="M575.65 154.3 Q575.65 166.5 571.70 169.3 Q572.90 176.5 571.20 183.7 L571.40 224.5 L589.20 224.5 L589.40 183.7 Q587.70 176.5 588.90 169.3 Q584.95 166.5 584.95 154.3 Z" fill="#e7edef" stroke="#687676" stroke-width="1.5"/>
<line x1="571.50" y1="169.3" x2="589.10" y2="169.3" stroke="#687676" stroke-width="1.5"/>
<line x1="571.00" y1="183.7" x2="589.60" y2="183.7" stroke="#687676" stroke-width="1.5"/>
<path d="M573.55 154.3 L573.55 105.20 Q573.55 70.20 578.10 35.20 A2.2 2.2 0 0 1 582.50 35.20 Q587.05 70.20 587.05 105.20 L587.05 154.3 Z" fill="#587070"/>
<path d="M706.29 154.3 Q706.29 166.5 702.82 169.3 Q704.02 176.5 702.32 183.7 L702.52 224.5 L720.32 224.5 L720.52 183.7 Q718.82 176.5 720.02 169.3 Q716.55 166.5 716.55 154.3 Z" fill="#e7edef" stroke="#687676" stroke-width="1.5"/>
<line x1="702.62" y1="169.3" x2="720.22" y2="169.3" stroke="#687676" stroke-width="1.5"/>
<line x1="702.12" y1="183.7" x2="720.72" y2="183.7" stroke="#687676" stroke-width="1.5"/>
<path d="M704.19 154.3 L704.19 105.33 Q704.19 70.33 709.09 35.33 A2.33 2.33 0 0 1 713.75 35.33 Q718.65 70.33 718.65 105.33 L718.65 154.3 Z" fill="#587070"/>
<path d="M836.93 154.3 Q836.93 166.5 833.94 169.3 Q835.14 176.5 833.44 183.7 L833.64 224.5 L851.44 224.5 L851.64 183.7 Q849.94 176.5 851.14 169.3 Q848.15 166.5 848.15 154.3 Z" fill="#e7edef" stroke="#687676" stroke-width="1.5"/>
<line x1="833.74" y1="169.3" x2="851.34" y2="169.3" stroke="#687676" stroke-width="1.5"/>
<line x1="833.24" y1="183.7" x2="851.84" y2="183.7" stroke="#687676" stroke-width="1.5"/>
<path d="M834.83 154.3 L834.83 105.46 Q834.83 70.46 840.08 35.46 A2.46 2.46 0 0 1 845.00 35.46 Q850.25 70.46 850.25 105.46 L850.25 154.3 Z" fill="#587070"/>
<path d="M967.57 154.3 Q967.57 166.5 965.06 169.3 Q966.26 176.5 964.56 183.7 L964.76 224.5 L982.56 224.5 L982.76 183.7 Q981.06 176.5 982.26 169.3 Q979.75 166.5 979.75 154.3 Z" fill="#e7edef" stroke="#687676" stroke-width="1.5"/>
<line x1="964.86" y1="169.3" x2="982.46" y2="169.3" stroke="#687676" stroke-width="1.5"/>
<line x1="964.36" y1="183.7" x2="982.96" y2="183.7" stroke="#687676" stroke-width="1.5"/>
<path d="M965.47 154.3 L965.47 105.59 Q965.47 70.59 971.07 35.59 A2.5900000000000003 2.5900000000000003 0 0 1 976.25 35.59 Q981.85 70.59 981.85 105.59 L981.85 154.3 Z" fill="#587070"/>
<path d="M1098.21 154.3 Q1098.21 166.5 1096.18 169.3 Q1097.38 176.5 1095.68 183.7 L1095.88 224.5 L1113.68 224.5 L1113.88 183.7 Q1112.18 176.5 1113.38 169.3 Q1111.35 166.5 1111.35 154.3 Z" fill="#e7edef" stroke="#687676" stroke-width="1.5"/>
<line x1="1095.98" y1="169.3" x2="1113.58" y2="169.3" stroke="#687676" stroke-width="1.5"/>
<line x1="1095.48" y1="183.7" x2="1114.08" y2="183.7" stroke="#687676" stroke-width="1.5"/>
<path d="M1096.11 154.3 L1096.11 105.72 Q1096.11 70.72 1102.06 35.72 A2.72 2.72 0 0 1 1107.50 35.72 Q1113.45 70.72 1113.45 105.72 L1113.45 154.3 Z" fill="#587070"/>
<path d="M1228.85 154.3 Q1228.85 166.5 1227.30 169.3 Q1228.50 176.5 1226.80 183.7 L1227.00 224.5 L1244.80 224.5 L1245.00 183.7 Q1243.30 176.5 1244.50 169.3 Q1242.95 166.5 1242.95 154.3 Z" fill="#e7edef" stroke="#687676" stroke-width="1.5"/>
<line x1="1227.10" y1="169.3" x2="1244.70" y2="169.3" stroke="#687676" stroke-width="1.5"/>
<line x1="1226.60" y1="183.7" x2="1245.20" y2="183.7" stroke="#687676" stroke-width="1.5"/>
<path d="M1226.75 154.3 L1226.75 105.85 Q1226.75 70.85 1233.05 35.85 A2.85 2.85 0 0 1 1238.75 35.85 Q1245.05 70.85 1245.05 105.85 L1245.05 154.3 Z" fill="#587070"/>
<path d="M1359.49 154.3 Q1359.49 166.5 1358.42 169.3 Q1359.62 176.5 1357.92 183.7 L1358.12 224.5 L1375.92 224.5 L1376.12 183.7 Q1374.42 176.5 1375.62 169.3 Q1374.55 166.5 1374.55 154.3 Z" fill="#e7edef" stroke="#687676" stroke-width="1.5"/>
<line x1="1358.22" y1="169.3" x2="1375.82" y2="169.3" stroke="#687676" stroke-width="1.5"/>
<line x1="1357.72" y1="183.7" x2="1376.32" y2="183.7" stroke="#687676" stroke-width="1.5"/>
<path d="M1357.39 154.3 L1357.39 101.98 Q1357.39 68.98 1364.04 35.98 A2.9800000000000004 2.9800000000000004 0 0 1 1370.00 35.98 Q1376.65 68.98 1376.65 101.98 L1376.65 154.3 Z" fill="#587070"/>
<path d="M1490.13 154.3 Q1490.13 166.5 1489.54 169.3 Q1490.74 176.5 1489.04 183.7 L1489.24 224.5 L1507.04 224.5 L1507.24 183.7 Q1505.54 176.5 1506.74 169.3 Q1506.15 166.5 1506.15 154.3 Z" fill="#e7edef" stroke="#687676" stroke-width="1.5"/>
<line x1="1489.34" y1="169.3" x2="1506.94" y2="169.3" stroke="#687676" stroke-width="1.5"/>
<line x1="1488.84" y1="183.7" x2="1507.44" y2="183.7" stroke="#687676" stroke-width="1.5"/>
<path d="M1488.03 154.3 L1488.03 102.11 Q1488.03 69.11 1495.03 36.11 A3.1100000000000003 3.1100000000000003 0 0 1 1501.25 36.11 Q1508.25 69.11 1508.25 102.11 L1508.25 154.3 Z" fill="#587070"/>
<path d="M1620.77 154.3 Q1620.77 166.5 1620.66 169.3 Q1621.86 176.5 1620.16 183.7 L1620.36 224.5 L1638.16 224.5 L1638.36 183.7 Q1636.66 176.5 1637.86 169.3 Q1637.75 166.5 1637.75 154.3 Z" fill="#e7edef" stroke="#687676" stroke-width="1.5"/>
<line x1="1620.46" y1="169.3" x2="1638.06" y2="169.3" stroke="#687676" stroke-width="1.5"/>
<line x1="1619.96" y1="183.7" x2="1638.56" y2="183.7" stroke="#687676" stroke-width="1.5"/>
<path d="M1618.67 154.3 L1618.67 102.24 Q1618.67 69.24 1626.02 36.24 A3.24 3.24 0 0 1 1632.50 36.24 Q1639.85 69.24 1639.85 102.24 L1639.85 154.3 Z" fill="#587070"/>
<path d="M1751.88 154.3 Q1751.88 166.5 1751.78 169.3 Q1752.98 176.5 1751.28 183.7 L1751.48 224.5 L1769.28 224.5 L1769.48 183.7 Q1767.78 176.5 1768.98 169.3 Q1768.88 166.5 1768.88 154.3 Z" fill="#e7edef" stroke="#687676" stroke-width="1.5"/>
<line x1="1751.58" y1="169.3" x2="1769.18" y2="169.3" stroke="#687676" stroke-width="1.5"/>
<line x1="1751.08" y1="183.7" x2="1769.68" y2="183.7" stroke="#687676" stroke-width="1.5"/>
<path d="M1749.31 154.3 L1749.31 102.37 Q1749.31 69.37 1757.01 36.37 A3.37 3.37 0 0 1 1763.75 36.37 Q1771.45 69.37 1771.45 102.37 L1771.45 154.3 Z" fill="#587070"/>
<path d="M1883.00 154.3 Q1883.00 166.5 1882.90 169.3 Q1884.10 176.5 1882.40 183.7 L1882.60 224.5 L1900.40 224.5 L1900.60 183.7 Q1898.90 176.5 1900.10 169.3 Q1900.00 166.5 1900.00 154.3 Z" fill="#e7edef" stroke="#687676" stroke-width="1.5"/>
<line x1="1882.70" y1="169.3" x2="1900.30" y2="169.3" stroke="#687676" stroke-width="1.5"/>
<line x1="1882.20" y1="183.7" x2="1900.80" y2="183.7" stroke="#687676" stroke-width="1.5"/>
<path d="M1879.95 154.3 L1879.95 102.50 Q1879.95 69.50 1888.00 36.50 A3.5 3.5 0 0 1 1895.00 36.50 Q1903.05 69.50 1903.05 102.50 L1903.05 154.3 Z" fill="#587070"/>
<path d="M2014.12 154.3 Q2014.12 166.5 2014.02 169.3 Q2015.22 176.5 2013.52 183.7 L2013.72 224.5 L2031.52 224.5 L2031.72 183.7 Q2030.02 176.5 2031.22 169.3 Q2031.12 166.5 2031.12 154.3 Z" fill="#e7edef" stroke="#687676" stroke-width="1.5"/>
<line x1="2013.82" y1="169.3" x2="2031.42" y2="169.3" stroke="#687676" stroke-width="1.5"/>
<line x1="2013.32" y1="183.7" x2="2031.92" y2="183.7" stroke="#687676" stroke-width="1.5"/>
<path d="M2010.11 154.3 L2010.11 102.76 Q2010.11 69.76 2018.86 36.76 A3.7600000000000002 3.7600000000000002 0 0 1 2026.38 36.76 Q2035.13 69.76 2035.13 102.76 L2035.13 154.3 Z" fill="#587070"/>
<defs>
<filter id="grit" x="0" y="0" width="100%" height="100%">
<feTurbulence type="fractalNoise" baseFrequency="0.42" numOctaves="2" seed="11" result="n"/>
<feColorMatrix in="n" type="matrix" values="0 0 0 0 0.70  0 0 0 0 0.79  0 0 0 0 0.80  0 0 0 2.6 -1.12" result="spk"/>
<feComposite in="spk" in2="SourceGraphic" operator="in" result="s2"/>
<feMerge><feMergeNode in="SourceGraphic"/><feMergeNode in="s2"/></feMerge>
</filter>
</defs>
<path d="M381 469 L381 412.5 L383.3 412.5 L383.3 336 L426.6 336 L426.6 412.5 L428.2 412.5 L428.2 469 Z" fill="#eef3f3"/>
<rect x="408" y="336" width="19" height="133" fill="#a0b4b6"/>
<rect x="400" y="336" width="8" height="133" fill="#586e70"/>
<path d="M408.50 34.00 L410.15 39.88 L411.72 45.75 L413.21 51.62 L414.62 57.50 L415.96 63.38 L417.22 69.25 L418.41 75.12 L419.53 81.00 L420.58 86.88 L421.57 92.75 L422.49 98.62 L423.35 104.50 L424.15 110.38 L424.89 116.25 L425.58 122.12 L426.22 128.00 L426.80 133.88 L427.34 139.75 L427.83 145.62 L428.27 151.50 L428.68 157.38 L429.04 163.25 L429.37 169.12 L429.65 175.00 L429.91 180.88 L430.13 186.75 L430.32 192.62 L430.49 198.50 L430.63 204.38 L430.75 210.25 L430.84 216.12 L430.92 222.00 L430.98 227.88 L431.02 233.75 L431.06 239.62 L431.08 245.50 L431.09 251.38 L431.10 257.25 L431.10 263.12 L431.10 269.00 L431.10 338 L379.90 338 L379.90 269.00 L379.90 263.12 L379.90 257.25 L379.91 251.38 L379.92 245.50 L379.94 239.62 L379.98 233.75 L380.02 227.88 L380.08 222.00 L380.16 216.12 L380.25 210.25 L380.37 204.38 L380.51 198.50 L380.68 192.62 L380.87 186.75 L381.09 180.88 L381.35 175.00 L381.63 169.12 L381.96 163.25 L382.32 157.38 L382.73 151.50 L383.17 145.62 L383.66 139.75 L384.20 133.88 L384.78 128.00 L385.42 122.12 L386.11 116.25 L386.85 110.38 L387.65 104.50 L388.51 98.62 L389.43 92.75 L390.42 86.88 L391.47 81.00 L392.59 75.12 L393.78 69.25 L395.04 63.38 L396.38 57.50 L397.79 51.62 L399.28 45.75 L400.85 39.88 L402.50 34.00 A3.0 3.0 0 0 1 408.50 34.00 Z" fill="#6f8a8d" filter="url(#grit)"/>
<rect x="86" y="32" width="74" height="72.5" fill="#e8edf0"/>
<path d="M86 104.5 L86 92 C88 88 93 87 98 88 C102 90 103 96 104 104.5 Z" fill="#b9c8c9"/>
<path d="M160 104.5 L160 92 C158 88 153 87 148 88 C144 90 143 96 142 104.5 Z" fill="#b9c8c9"/>
<path d="M101.5 92 C95 82 95 62 98 55 C100 50 103 49.5 108 49.5 C114 49.5 117 55 121.3 55 C126 55 132 49 140 49.4 C146 50 149 56 149.6 68 C150 78 147 86 144 92" fill="#ffffff" stroke="#6b7577" stroke-width="2"/>
<path d="M110 58.3 C118 57 128 56.8 136.4 57.4 L143 104.5 L102.4 104.5 Z" fill="#566b6d"/>
<clipPath id="gclip"><rect x="80" y="368" width="70" height="8"/><rect x="80" y="384" width="70" height="8"/><rect x="80" y="400" width="70" height="8"/><rect x="80" y="416" width="70" height="4"/></clipPath>
<g clip-path="url(#gclip)"><text transform="translate(89.86 418.4) scale(0.8993 2.0)" font-size="33" font-weight="bold" fill="#3c4242">863</text></g>
<path d="M88 434 L139.6 432.8 L139.6 450 L88 448.3 Z" fill="#e6ecee" stroke="#6f7b7b" stroke-width="1.8"/>
<rect x="139.6" y="433.5" width="12.7" height="16" fill="#e6ecee" stroke="#6f7b7b" stroke-width="1.8"/>
<path d="M152.3 432.5 L279 432.5 A8.7 8.7 0 0 1 279 450 L152.3 450 Z" fill="#e6ecee" stroke="#6f7b7b" stroke-width="1.8"/>
<path d="M88 987 L175.7 978.6 L175.7 1004.5 L88 996 Z" fill="#e6ecee" stroke="#6f7b7b" stroke-width="1.8"/>
<rect x="175.7" y="979.2" width="14.5" height="24.8" fill="#e6ecee" stroke="#6f7b7b" stroke-width="1.8"/>
<path d="M190.2 978 L297.4 978 L297.4 986.4 L304 986.4 L304 1004.5 L190.2 1004.5 Z" fill="#e6ecee" stroke="#6f7b7b" stroke-width="1.8"/>
<rect x="304" y="988.8" width="8.2" height="9.7" fill="#e6ecee" stroke="#6f7b7b" stroke-width="1.6"/>
<path d="M312.2 985.8 L315 985.8 A6 9.35 0 0 1 315 1004.5 L312.2 1004.5 Z" fill="#e6ecee" stroke="#6f7b7b" stroke-width="1.6"/>
<rect x="296" y="528" width="32" height="8" fill="#b4b8b8"/>
<rect x="296" y="536" width="4.5" height="24" fill="#8e9292"/>
<rect x="300" y="534.5" width="27" height="25.5" fill="#0d0d0d"/>
<rect x="300" y="584.5" width="27" height="25.5" fill="#2ff01c"/>
<rect x="300" y="634.5" width="27" height="25.5" fill="#40c0f6"/>
<rect x="300" y="684.5" width="27" height="25.5" fill="#d9a133"/>
<rect x="300" y="734.5" width="27" height="25.5" fill="#f20c0c"/>
<rect x="300" y="783.5" width="26.5" height="26" fill="#fff" stroke="#8a8f8f" stroke-width="2"/>
<rect x="300" y="834.5" width="27" height="25.5" fill="#f4e30c"/>
<rect x="300" y="884.5" width="27" height="25.5" fill="#f57a2c"/>
<rect x="40" y="935.5" width="24" height="87" fill="#808d8d"/>
<rect x="32" y="1000" width="8" height="19" fill="#8e9b9b"/>
<text transform="translate(89.54 210.50) scale(0.9163 1)" font-size="33" font-weight="bold" fill="#1f2626">863</text>
<text transform="translate(85.96 311.30) scale(0.8264 1)" font-size="33.3" font-weight="normal" fill="#2b3030">ISO ø 1/10 mm</text>
<text transform="translate(86.26 360.30) scale(0.8184 1)" font-size="33.3" font-weight="normal" fill="#2b3030">L mm</text>
<text transform="translate(88.53 410.00) scale(0.8066 1)" font-size="31" font-weight="bold" fill="#111616">FG</text>
<text transform="translate(87.60 511.40) scale(0.8653 1)" font-size="33.3" font-weight="normal" fill="#2b3030">314 250 524</text>
<text transform="translate(87.60 561.40) scale(0.8653 1)" font-size="33.3" font-weight="normal" fill="#2b3030">314 250 544</text>
<text transform="translate(87.60 611.40) scale(0.8653 1)" font-size="33.3" font-weight="normal" fill="#2b3030">314 250 534</text>
<text transform="translate(87.60 661.40) scale(0.8653 1)" font-size="33.3" font-weight="normal" fill="#2b3030">314 250 524</text>
<text transform="translate(87.60 711.40) scale(0.8653 1)" font-size="33.3" font-weight="normal" fill="#2b3030">314 250 514</text>
<text transform="translate(87.60 761.40) scale(0.8653 1)" font-size="33.3" font-weight="normal" fill="#2b3030">314 250 514</text>
<text transform="translate(87.60 811.40) scale(0.8653 1)" font-size="33.3" font-weight="normal" fill="#2b3030">314 250 514</text>
<text transform="translate(87.60 861.40) scale(0.8653 1)" font-size="33.3" font-weight="normal" fill="#2b3030">314 250 504</text>
<text transform="translate(87.60 911.40) scale(0.8653 1)" font-size="33.3" font-weight="normal" fill="#2b3030">314 250 494</text>
<text transform="translate(87.66 961.00) scale(0.8288 1)" font-size="35" font-weight="bold" fill="#e1163c">Red = also in RA</text>
<text transform="translate(541.57 311.20) scale(0.8656 1)" font-size="33.3" font-weight="normal" fill="#2b3030">009</text>
<text transform="translate(672.81 311.20) scale(0.8629 1)" font-size="33.3" font-weight="normal" fill="#2b3030">010</text>
<text transform="translate(807.74 311.20) scale(0.7923 1)" font-size="33.3" font-weight="normal" fill="#2b3030">011</text>
<text transform="translate(936.08 311.20) scale(0.8577 1)" font-size="33.3" font-weight="normal" fill="#2b3030">012</text>
<text transform="translate(1068.55 311.20) scale(0.8334 1)" font-size="33.3" font-weight="normal" fill="#2b3030">013</text>
<text transform="translate(1198.25 311.20) scale(0.8558 1)" font-size="33.3" font-weight="normal" fill="#2b3030">014</text>
<text transform="translate(1331.22 311.20) scale(0.8324 1)" font-size="33.3" font-weight="normal" fill="#2b3030">015</text>
<text transform="translate(1462.55 311.20) scale(0.8334 1)" font-size="33.3" font-weight="normal" fill="#2b3030">016</text>
<text transform="translate(1593.36 311.20) scale(0.8463 1)" font-size="33.3" font-weight="normal" fill="#2b3030">017</text>
<text transform="translate(1724.19 311.20) scale(0.8521 1)" font-size="33.3" font-weight="normal" fill="#2b3030">018</text>
<text transform="translate(1856.03 311.20) scale(0.8447 1)" font-size="33.3" font-weight="normal" fill="#2b3030">019</text>
<text transform="translate(1987.88 311.20) scale(0.8360 1)" font-size="33.3" font-weight="normal" fill="#2b3030">021</text>
<text transform="translate(536.22 360.30) scale(0.8200 1)" font-size="33.3" font-weight="normal" fill="#2b3030">10.0</text>
<text transform="translate(667.55 360.30) scale(0.8200 1)" font-size="33.3" font-weight="normal" fill="#2b3030">10.0</text>
<text transform="translate(798.89 360.30) scale(0.8200 1)" font-size="33.3" font-weight="normal" fill="#2b3030">10.0</text>
<text transform="translate(930.22 360.30) scale(0.8200 1)" font-size="33.3" font-weight="normal" fill="#2b3030">10.0</text>
<text transform="translate(1061.55 360.30) scale(0.8200 1)" font-size="33.3" font-weight="normal" fill="#2b3030">10.0</text>
<text transform="translate(1192.88 360.30) scale(0.8200 1)" font-size="33.3" font-weight="normal" fill="#2b3030">10.0</text>
<text transform="translate(1324.22 360.30) scale(0.8200 1)" font-size="33.3" font-weight="normal" fill="#2b3030">10.0</text>
<text transform="translate(1455.55 360.30) scale(0.8200 1)" font-size="33.3" font-weight="normal" fill="#2b3030">10.0</text>
<text transform="translate(1586.88 360.30) scale(0.8200 1)" font-size="33.3" font-weight="normal" fill="#2b3030">10.0</text>
<text transform="translate(1718.22 360.30) scale(0.8200 1)" font-size="33.3" font-weight="normal" fill="#2b3030">10.0</text>
<text transform="translate(1849.55 360.30) scale(0.8200 1)" font-size="33.3" font-weight="normal" fill="#2b3030">10.0</text>
<text transform="translate(1980.88 360.30) scale(0.8200 1)" font-size="33.3" font-weight="normal" fill="#2b3030">10.0</text>
<text transform="translate(660.18 511.30) scale(0.8171 1)" font-size="33.3" font-weight="normal" fill="#2b3030">404L</text>
<text transform="translate(922.87 511.30) scale(0.8281 1)" font-size="33.3" font-weight="normal" fill="#e11d25">405L</text>
<text transform="translate(1199.38 511.30) scale(0.8367 1)" font-size="33.3" font-weight="normal" fill="#2b3030">505</text>
<text transform="translate(1449.12 511.30) scale(0.8124 1)" font-size="33.3" font-weight="normal" fill="#2b3030">505L</text>
<text transform="translate(1704.52 511.30) scale(0.8489 1)" font-size="33.3" font-weight="normal" fill="#2b3030">312N</text>
<text transform="translate(1987.22 511.30) scale(0.8516 1)" font-size="33.3" font-weight="normal" fill="#2b3030">378</text>
<text transform="translate(1800.76 561.30) scale(0.8197 1)" font-size="33.3" font-weight="normal" fill="#2b3030">312NCB</text>
<text transform="translate(904.38 611.30) scale(0.8148 1)" font-size="33.3" font-weight="normal" fill="#2b3030">405LC</text>
<text transform="translate(1182.15 611.30) scale(0.7869 1)" font-size="33.3" font-weight="normal" fill="#2b3030">505C</text>
<text transform="translate(1430.23 611.30) scale(0.8008 1)" font-size="33.3" font-weight="normal" fill="#2b3030">505LC</text>
<text transform="translate(1685.95 611.30) scale(0.8287 1)" font-size="33.3" font-weight="normal" fill="#2b3030">312NC</text>
<text transform="translate(1967.95 611.30) scale(0.8252 1)" font-size="33.3" font-weight="normal" fill="#2b3030">378C</text>
<text transform="translate(1431.29 661.30) scale(0.8362 1)" font-size="33.3" font-weight="normal" fill="#2b3030">8505L</text>
<text transform="translate(755.39 711.30) scale(0.7938 1)" font-size="33.3" font-weight="normal" fill="#e11d25">405LGB</text>
<text transform="translate(1031.23 711.30) scale(0.8043 1)" font-size="33.3" font-weight="normal" fill="#2b3030">505GB</text>
<text transform="translate(1279.22 711.30) scale(0.8119 1)" font-size="33.3" font-weight="normal" fill="#2b3030">505LGB</text>
<text transform="translate(1534.96 711.30) scale(0.8236 1)" font-size="33.3" font-weight="normal" fill="#2b3030">312NGB</text>
<text transform="translate(775.37 761.30) scale(0.8266 1)" font-size="33.3" font-weight="normal" fill="#2b3030">4405L</text>
<text transform="translate(1050.84 761.30) scale(0.8579 1)" font-size="33.3" font-weight="normal" fill="#2b3030">4505</text>
<text transform="translate(1301.77 761.30) scale(0.8222 1)" font-size="33.3" font-weight="normal" fill="#2b3030">4505L</text>
<text transform="translate(1557.34 761.30) scale(0.8611 1)" font-size="33.3" font-weight="normal" fill="#2b3030">4312N</text>
<text transform="translate(643.95 811.30) scale(0.8313 1)" font-size="33.3" font-weight="normal" fill="#2b3030">3405L</text>
<text transform="translate(643.89 861.30) scale(0.8319 1)" font-size="33.3" font-weight="normal" fill="#2b3030">5405L</text>
<text transform="translate(919.31 861.30) scale(0.8900 1)" font-size="33.3" font-weight="normal" fill="#2b3030">5505</text>
<text transform="translate(1167.86 861.30) scale(0.8540 1)" font-size="33.3" font-weight="normal" fill="#2b3030">5505L</text>
<text transform="translate(1426.89 861.30) scale(0.8344 1)" font-size="33.3" font-weight="normal" fill="#2b3030">5312N</text>
<text transform="translate(510.66 911.30) scale(0.8562 1)" font-size="33.3" font-weight="normal" fill="#2b3030">9405L</text>
<text transform="translate(1039.23 911.30) scale(0.8117 1)" font-size="33.3" font-weight="normal" fill="#2b3030">9505L</text>
<text transform="translate(59.30 910.34) rotate(-90) scale(0.8354 1)" font-size="35" font-weight="bold" fill="#f4f7f7">cylindrical, long</text>
<text transform="translate(59.00 1017.87) rotate(-90) scale(0.7360 1)" font-size="38" font-weight="bold" fill="#1d2424">Flame</text>
</svg>
</body></html>
